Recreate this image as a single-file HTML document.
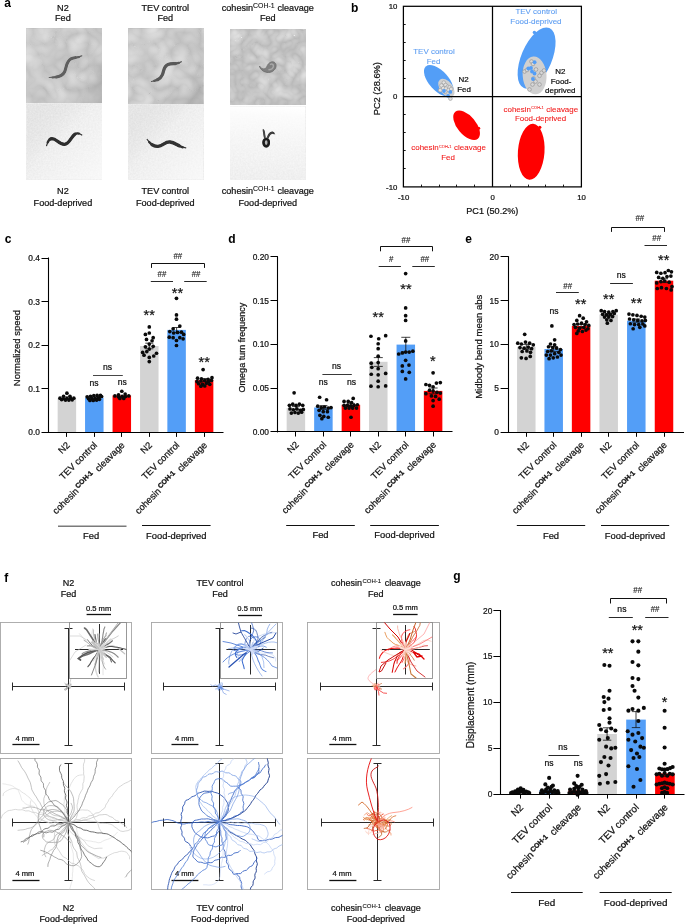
<!DOCTYPE html>
<html><head><meta charset="utf-8"><title>Figure</title>
<style>
html,body{margin:0;padding:0;background:#fff;}
body{width:685px;height:924px;overflow:hidden;font-family:'Liberation Sans', sans-serif;}
svg{display:block;font-family:'Liberation Sans',sans-serif;will-change:transform;-webkit-font-smoothing:antialiased;}
</style></head><body>
<svg width="685" height="924" viewBox="0 0 685 924">
<rect x="0" y="0" width="685" height="924" fill="#ffffff"/>
<defs>
<filter id="fedtex" x="0" y="0" width="100%" height="100%" color-interpolation-filters="sRGB">
  <feTurbulence type="turbulence" baseFrequency="0.045" numOctaves="2" seed="7" result="n"/>
  <feColorMatrix in="n" type="matrix" values="0.21 0 0 0 0.742  0.21 0 0 0 0.742  0.21 0 0 0 0.742  0 0 0 0 1" result="v"/>
  <feGaussianBlur in="v" stdDeviation="0.7"/>
</filter>
<filter id="fedtex3" x="0" y="0" width="100%" height="100%" color-interpolation-filters="sRGB">
  <feTurbulence type="turbulence" baseFrequency="0.07" numOctaves="2" seed="21" result="n"/>
  <feColorMatrix in="n" type="matrix" values="0.20 0 0 0 0.725  0.20 0 0 0 0.725  0.20 0 0 0 0.725  0 0 0 0 1" result="v"/>
  <feGaussianBlur in="v" stdDeviation="0.6"/>
</filter>
<filter id="fdtex" x="0" y="0" width="100%" height="100%" color-interpolation-filters="sRGB">
  <feTurbulence type="fractalNoise" baseFrequency="0.6" numOctaves="2" seed="4" result="n"/>
  <feColorMatrix in="n" type="matrix" values="0.07 0 0 0 0.895  0.07 0 0 0 0.895  0.07 0 0 0 0.895  0 0 0 0 1" result="g"/>
</filter>
<filter id="wblur" x="-20%" y="-20%" width="140%" height="140%"><feGaussianBlur stdDeviation="0.65"/></filter>
<filter id="wblur2" x="-30%" y="-30%" width="160%" height="160%"><feGaussianBlur stdDeviation="0.8"/></filter>
<linearGradient id="fedg" x1="0" y1="0" x2="1" y2="0.8">
  <stop offset="0" stop-color="#fff" stop-opacity="0.16"/><stop offset="0.55" stop-color="#fff" stop-opacity="0.0"/><stop offset="1" stop-color="#000" stop-opacity="0.10"/>
</linearGradient>
<linearGradient id="fdg1" x1="0" y1="0" x2="1" y2="1">
  <stop offset="0" stop-color="#000" stop-opacity="0.03"/><stop offset="0.45" stop-color="#fff" stop-opacity="0.1"/><stop offset="1" stop-color="#fff" stop-opacity="0.65"/>
</linearGradient>
<linearGradient id="fdg3" x1="0.5" y1="0" x2="0.45" y2="1">
  <stop offset="0" stop-color="#fff" stop-opacity="1"/><stop offset="0.12" stop-color="#fff" stop-opacity="0.8"/><stop offset="0.5" stop-color="#fff" stop-opacity="0.45"/><stop offset="1" stop-color="#fff" stop-opacity="0.1"/>
</linearGradient>
</defs>
<text x="4.30" y="7.00" font-size="12" text-anchor="start" fill="#000" stroke="#000" stroke-width="0" font-weight="bold" >a</text>
<text x="62.90" y="10.50" font-size="9.1" text-anchor="middle" fill="#111" stroke="#111" stroke-width="0.22" font-weight="normal" >N2</text>
<text x="62.90" y="21.40" font-size="9.1" text-anchor="middle" fill="#111" stroke="#111" stroke-width="0.22" font-weight="normal" >Fed</text>
<text x="62.90" y="194.40" font-size="9.1" text-anchor="middle" fill="#111" stroke="#111" stroke-width="0.22" font-weight="normal" >N2</text>
<text x="62.90" y="205.50" font-size="9.1" text-anchor="middle" fill="#111" stroke="#111" stroke-width="0.22" font-weight="normal" >Food-deprived</text>
<text x="165.30" y="10.50" font-size="9.1" text-anchor="middle" fill="#111" stroke="#111" stroke-width="0.22" font-weight="normal" >TEV control</text>
<text x="165.30" y="21.40" font-size="9.1" text-anchor="middle" fill="#111" stroke="#111" stroke-width="0.22" font-weight="normal" >Fed</text>
<text x="165.30" y="194.40" font-size="9.1" text-anchor="middle" fill="#111" stroke="#111" stroke-width="0.22" font-weight="normal" >TEV control</text>
<text x="165.30" y="205.50" font-size="9.1" text-anchor="middle" fill="#111" stroke="#111" stroke-width="0.22" font-weight="normal" >Food-deprived</text>
<text x="267.80" y="10.50" font-size="9.1" text-anchor="middle" fill="#111" stroke="#111" stroke-width="0.22" font-weight="normal" >cohesin<tspan font-size="6.9" dy="-3.0" stroke-width="0.1">COH-1</tspan><tspan dy="3.0" dx="0.4"> cleavage</tspan></text>
<text x="267.80" y="21.40" font-size="9.1" text-anchor="middle" fill="#111" stroke="#111" stroke-width="0.22" font-weight="normal" >Fed</text>
<text x="267.80" y="194.40" font-size="9.1" text-anchor="middle" fill="#111" stroke="#111" stroke-width="0.22" font-weight="normal" >cohesin<tspan font-size="6.9" dy="-3.0" stroke-width="0.1">COH-1</tspan><tspan dy="3.0" dx="0.4"> cleavage</tspan></text>
<text x="267.80" y="205.50" font-size="9.1" text-anchor="middle" fill="#111" stroke="#111" stroke-width="0.22" font-weight="normal" >Food-deprived</text>
<rect x="26.5" y="28.9" width="75.5" height="74.9" fill="#bebebe" filter="url(#fedtex)"/>
<rect x="26.5" y="28.9" width="75.5" height="74.9" fill="url(#fedg)"/>
<rect x="26.5" y="103.7" width="75.5" height="75.8" fill="#e4e4e4" filter="url(#fdtex)"/>
<rect x="26.5" y="103.7" width="75.5" height="75.8" fill="url(#fdg1)"/>
<rect x="128.3" y="28.9" width="74.9" height="75.5" fill="#bebebe" filter="url(#fedtex)"/>
<rect x="128.3" y="28.9" width="74.9" height="75.5" fill="url(#fedg)"/>
<rect x="128.3" y="104.4" width="74.9" height="75.1" fill="#e4e4e4" filter="url(#fdtex)"/>
<rect x="128.3" y="104.4" width="74.9" height="75.1" fill="url(#fdg1)"/>
<rect x="230.0" y="29.8" width="75.3" height="74.7" fill="#bebebe" filter="url(#fedtex3)"/>
<rect x="230.0" y="106.5" width="75.3" height="73.5" fill="#e4e4e4" filter="url(#fdtex)"/>
<rect x="230.0" y="106.5" width="75.3" height="73.5" fill="url(#fdg3)"/>
<g filter="url(#wblur)" opacity="1" fill="none" stroke="#5e5e5e" stroke-linecap="round" stroke-linejoin="round"><path d="M49.2 77.5 C56 77.5 62 76.8 64.5 72 C66.5 68 66 61.5 71 58.8 C75 57 79 57.8 81.8 55.8" stroke-width="1.14"/><path d="M49.2 77.5 C56 77.5 62 76.8 64.5 72 C66.5 68 66 61.5 71 58.8 C75 57 79 57.8 81.8 55.8" pathLength="100" stroke-dasharray="86 300" stroke-dashoffset="-7" stroke-width="2.10"/><path d="M49.2 77.5 C56 77.5 62 76.8 64.5 72 C66.5 68 66 61.5 71 58.8 C75 57 79 57.8 81.8 55.8" pathLength="100" stroke-dasharray="68 300" stroke-dashoffset="-16" stroke-width="3.00"/></g>
<g filter="url(#wblur)" opacity="1" fill="none" stroke="#2e2e2e" stroke-linecap="round" stroke-linejoin="round"><path d="M46.6 145.6 C47.5 142 49 138.8 52 138.6 C56.5 138.6 59 144.5 64.5 144.3 C70 144 71.5 135 76 133.6 C78.5 133 80.5 134 81.8 135" stroke-width="1.22"/><path d="M46.6 145.6 C47.5 142 49 138.8 52 138.6 C56.5 138.6 59 144.5 64.5 144.3 C70 144 71.5 135 76 133.6 C78.5 133 80.5 134 81.8 135" pathLength="100" stroke-dasharray="86 300" stroke-dashoffset="-7" stroke-width="2.24"/><path d="M46.6 145.6 C47.5 142 49 138.8 52 138.6 C56.5 138.6 59 144.5 64.5 144.3 C70 144 71.5 135 76 133.6 C78.5 133 80.5 134 81.8 135" pathLength="100" stroke-dasharray="68 300" stroke-dashoffset="-16" stroke-width="3.20"/></g>
<g filter="url(#wblur)" opacity="1" fill="none" stroke="#585858" stroke-linecap="round" stroke-linejoin="round"><path d="M151.5 81.5 C156 80.5 160.5 79.5 162.5 74.5 C164 70.5 163.5 66.5 168 64.5 C172.5 63 177.5 64.5 181.3 61.7" stroke-width="1.22"/><path d="M151.5 81.5 C156 80.5 160.5 79.5 162.5 74.5 C164 70.5 163.5 66.5 168 64.5 C172.5 63 177.5 64.5 181.3 61.7" pathLength="100" stroke-dasharray="86 300" stroke-dashoffset="-7" stroke-width="2.24"/><path d="M151.5 81.5 C156 80.5 160.5 79.5 162.5 74.5 C164 70.5 163.5 66.5 168 64.5 C172.5 63 177.5 64.5 181.3 61.7" pathLength="100" stroke-dasharray="68 300" stroke-dashoffset="-16" stroke-width="3.20"/></g>
<g filter="url(#wblur)" opacity="1" fill="none" stroke="#333" stroke-linecap="round" stroke-linejoin="round"><path d="M147.2 139.5 C150 143.5 153.5 146.8 158 146.3 C163 145.8 165 141.5 170 142 C175.5 142.5 179.5 147.5 185.8 147.8" stroke-width="1.25"/><path d="M147.2 139.5 C150 143.5 153.5 146.8 158 146.3 C163 145.8 165 141.5 170 142 C175.5 142.5 179.5 147.5 185.8 147.8" pathLength="100" stroke-dasharray="86 300" stroke-dashoffset="-7" stroke-width="2.31"/><path d="M147.2 139.5 C150 143.5 153.5 146.8 158 146.3 C163 145.8 165 141.5 170 142 C175.5 142.5 179.5 147.5 185.8 147.8" pathLength="100" stroke-dasharray="68 300" stroke-dashoffset="-16" stroke-width="3.30"/></g>
<g filter="url(#wblur)"><path d="M259.4 66.0 C260 68.8 262.5 71.6 267 72.4 C271 72.9 275.4 70.6 276.0 66.4 C276.4 63.2 274.3 61.4 271.6 61.9 C268.8 62.5 267.4 65.0 266.6 67.2 C265.0 69.8 261.6 69.4 259.4 66.0 Z" fill="#808080" stroke="#707070" stroke-width="0.9" stroke-linejoin="round"/><path d="M270.5 64.4 C272.2 63.6 273.6 64.6 273.4 66.4 C273.1 68.4 271.0 69.6 269.0 69.8" fill="none" stroke="#a8a8a8" stroke-width="1.5" stroke-linecap="round"/></g>
<g filter="url(#wblur)"><ellipse cx="266.2" cy="142.6" rx="2.7" ry="3.7" fill="#b4b4b4" stroke="#1e1e1e" stroke-width="2.7"/></g>
<g filter="url(#wblur)" opacity="1" fill="none" stroke="#444" stroke-linecap="round" stroke-linejoin="round"><path d="M264.8 138.4 C264.5 135.5 264.2 132.4 263.2 129.4" stroke-width="0.72"/><path d="M264.8 138.4 C264.5 135.5 264.2 132.4 263.2 129.4" pathLength="100" stroke-dasharray="86 300" stroke-dashoffset="-7" stroke-width="1.33"/><path d="M264.8 138.4 C264.5 135.5 264.2 132.4 263.2 129.4" pathLength="100" stroke-dasharray="68 300" stroke-dashoffset="-16" stroke-width="1.90"/></g>
<g filter="url(#wblur)" opacity="1" fill="none" stroke="#3c3c3c" stroke-linecap="round" stroke-linejoin="round"><path d="M267.8 138.4 C268.2 135.4 270.0 133.0 272.2 132.6 C273.3 132.6 273.9 133.2 274.4 134.0" stroke-width="0.80"/><path d="M267.8 138.4 C268.2 135.4 270.0 133.0 272.2 132.6 C273.3 132.6 273.9 133.2 274.4 134.0" pathLength="100" stroke-dasharray="86 300" stroke-dashoffset="-7" stroke-width="1.47"/><path d="M267.8 138.4 C268.2 135.4 270.0 133.0 272.2 132.6 C273.3 132.6 273.9 133.2 274.4 134.0" pathLength="100" stroke-dasharray="68 300" stroke-dashoffset="-16" stroke-width="2.10"/></g>
<text x="351.00" y="11.90" font-size="12" text-anchor="start" fill="#000" stroke="#000" stroke-width="0" font-weight="bold" >b</text>
<ellipse cx="0" cy="0" rx="19.4" ry="9.7" fill="#539ef7" transform="translate(438.8 80.8) rotate(48)"/>
<ellipse cx="0" cy="0" rx="10.6" ry="6.3" fill="#d0d0d0" transform="translate(446.4 88.0) rotate(52)"/>
<circle cx="534.4" cy="32.4" r="1.7" fill="#539ef7"/>
<ellipse cx="0" cy="0" rx="15.3" ry="32.6" fill="#539ef7" transform="translate(536.6 58.0) rotate(23)"/>
<ellipse cx="0" cy="0" rx="11.9" ry="18.9" fill="#d0d0d0" transform="translate(534.6 75.4) rotate(-4)"/>
<ellipse cx="0" cy="0" rx="17.6" ry="9.3" fill="#ff0000" transform="translate(466.6 125.2) rotate(50)"/>
<circle cx="478.7" cy="128.2" r="1.5" fill="#ff0000"/>
<ellipse cx="0" cy="0" rx="13.3" ry="28.0" fill="#ff0000" transform="translate(531.2 151.8) rotate(4)"/>
<circle cx="539.8" cy="127.3" r="1.6" fill="#ff0000"/>
<circle cx="443.8" cy="82.6" r="1.85" fill="#e2e2e2" stroke="#989898" stroke-width="0.6"/>
<circle cx="441.5" cy="85.5" r="1.85" fill="#e2e2e2" stroke="#989898" stroke-width="0.6"/>
<circle cx="445.6" cy="85.0" r="1.85" fill="#e2e2e2" stroke="#989898" stroke-width="0.6"/>
<circle cx="447.6" cy="86.8" r="1.85" fill="#e2e2e2" stroke="#989898" stroke-width="0.6"/>
<circle cx="443.2" cy="88.2" r="1.85" fill="#e2e2e2" stroke="#989898" stroke-width="0.6"/>
<circle cx="446.0" cy="88.6" r="1.85" fill="#e2e2e2" stroke="#989898" stroke-width="0.6"/>
<circle cx="449.6" cy="87.4" r="1.85" fill="#e2e2e2" stroke="#989898" stroke-width="0.6"/>
<circle cx="440.2" cy="90.2" r="1.85" fill="#e2e2e2" stroke="#989898" stroke-width="0.6"/>
<circle cx="448.6" cy="90.0" r="1.85" fill="#e2e2e2" stroke="#989898" stroke-width="0.6"/>
<circle cx="451.2" cy="89.0" r="1.85" fill="#e2e2e2" stroke="#989898" stroke-width="0.6"/>
<circle cx="445.2" cy="91.8" r="1.85" fill="#e2e2e2" stroke="#989898" stroke-width="0.6"/>
<circle cx="450.4" cy="98.6" r="1.85" fill="#e2e2e2" stroke="#989898" stroke-width="0.6"/>
<circle cx="444.0" cy="91.0" r="1.9" fill="#539ef7"/>
<circle cx="450.3" cy="91.9" r="1.9" fill="#539ef7"/>
<circle cx="448.1" cy="95.8" r="1.9" fill="#539ef7"/>
<circle cx="531.5" cy="61.5" r="1.85" fill="#d8d8d8" stroke="#8c8c8c" stroke-width="0.6"/>
<circle cx="533.0" cy="64.0" r="1.85" fill="#d8d8d8" stroke="#8c8c8c" stroke-width="0.6"/>
<circle cx="524.5" cy="71.5" r="1.85" fill="#d8d8d8" stroke="#8c8c8c" stroke-width="0.6"/>
<circle cx="527.0" cy="70.0" r="1.85" fill="#d8d8d8" stroke="#8c8c8c" stroke-width="0.6"/>
<circle cx="536.0" cy="69.5" r="1.85" fill="#d8d8d8" stroke="#8c8c8c" stroke-width="0.6"/>
<circle cx="541.5" cy="72.8" r="1.85" fill="#d8d8d8" stroke="#8c8c8c" stroke-width="0.6"/>
<circle cx="544.0" cy="70.5" r="1.85" fill="#d8d8d8" stroke="#8c8c8c" stroke-width="0.6"/>
<circle cx="539.5" cy="75.8" r="1.85" fill="#d8d8d8" stroke="#8c8c8c" stroke-width="0.6"/>
<circle cx="533.5" cy="78.5" r="1.85" fill="#d8d8d8" stroke="#8c8c8c" stroke-width="0.6"/>
<circle cx="535.5" cy="81.5" r="1.85" fill="#d8d8d8" stroke="#8c8c8c" stroke-width="0.6"/>
<circle cx="532.5" cy="84.5" r="1.85" fill="#d8d8d8" stroke="#8c8c8c" stroke-width="0.6"/>
<circle cx="539.5" cy="84.5" r="1.85" fill="#d8d8d8" stroke="#8c8c8c" stroke-width="0.6"/>
<circle cx="529.5" cy="89.5" r="1.85" fill="#d8d8d8" stroke="#8c8c8c" stroke-width="0.6"/>
<circle cx="534.6" cy="62.2" r="1.9" fill="#539ef7"/>
<circle cx="528.3" cy="68.5" r="1.9" fill="#539ef7"/>
<circle cx="531.0" cy="68.0" r="1.9" fill="#539ef7"/>
<circle cx="532.0" cy="71.5" r="1.9" fill="#539ef7"/>
<circle cx="534.5" cy="73.5" r="1.9" fill="#539ef7"/>
<circle cx="533.0" cy="79.0" r="1.9" fill="#539ef7"/>
<rect x="403.4" y="6.3" width="178.00" height="180.60" fill="none" stroke="#000" stroke-width="1.25"/>
<line x1="492.50" y1="6.30" x2="492.50" y2="186.90" stroke="#000" stroke-width="1.25" />
<line x1="403.40" y1="96.50" x2="581.40" y2="96.50" stroke="#000" stroke-width="1.25" />
<line x1="403.40" y1="168.50" x2="405.70" y2="168.50" stroke="#000" stroke-width="0.9" />
<line x1="421.50" y1="186.90" x2="421.50" y2="184.60" stroke="#000" stroke-width="0.9" />
<line x1="403.40" y1="150.50" x2="405.70" y2="150.50" stroke="#000" stroke-width="0.9" />
<line x1="439.50" y1="186.90" x2="439.50" y2="184.60" stroke="#000" stroke-width="0.9" />
<line x1="403.40" y1="132.50" x2="405.70" y2="132.50" stroke="#000" stroke-width="0.9" />
<line x1="456.50" y1="186.90" x2="456.50" y2="184.60" stroke="#000" stroke-width="0.9" />
<line x1="403.40" y1="114.50" x2="405.70" y2="114.50" stroke="#000" stroke-width="0.9" />
<line x1="474.50" y1="186.90" x2="474.50" y2="184.60" stroke="#000" stroke-width="0.9" />
<line x1="403.40" y1="78.50" x2="405.70" y2="78.50" stroke="#000" stroke-width="0.9" />
<line x1="510.50" y1="186.90" x2="510.50" y2="184.60" stroke="#000" stroke-width="0.9" />
<line x1="403.40" y1="60.50" x2="405.70" y2="60.50" stroke="#000" stroke-width="0.9" />
<line x1="528.50" y1="186.90" x2="528.50" y2="184.60" stroke="#000" stroke-width="0.9" />
<line x1="403.40" y1="42.50" x2="405.70" y2="42.50" stroke="#000" stroke-width="0.9" />
<line x1="545.50" y1="186.90" x2="545.50" y2="184.60" stroke="#000" stroke-width="0.9" />
<line x1="403.40" y1="24.50" x2="405.70" y2="24.50" stroke="#000" stroke-width="0.9" />
<line x1="563.50" y1="186.90" x2="563.50" y2="184.60" stroke="#000" stroke-width="0.9" />
<text x="397.40" y="8.90" font-size="7.8" text-anchor="end" fill="#111" stroke="#111" stroke-width="0.22" font-weight="normal" >10</text>
<text x="397.40" y="99.30" font-size="7.8" text-anchor="end" fill="#111" stroke="#111" stroke-width="0.22" font-weight="normal" >0</text>
<text x="397.40" y="189.60" font-size="7.8" text-anchor="end" fill="#111" stroke="#111" stroke-width="0.22" font-weight="normal" >-10</text>
<text x="403.60" y="199.90" font-size="7.8" text-anchor="middle" fill="#111" stroke="#111" stroke-width="0.22" font-weight="normal" >-10</text>
<text x="492.60" y="199.90" font-size="7.8" text-anchor="middle" fill="#111" stroke="#111" stroke-width="0.22" font-weight="normal" >0</text>
<text x="581.60" y="199.90" font-size="7.8" text-anchor="middle" fill="#111" stroke="#111" stroke-width="0.22" font-weight="normal" >10</text>
<text x="492.30" y="213.80" font-size="9.1" text-anchor="middle" fill="#111" stroke="#111" stroke-width="0.22" font-weight="normal" >PC1 (50.2%)</text>
<text transform="translate(380.3 88.7) rotate(-90)" font-size="9.3" text-anchor="middle" fill="#111" stroke="#111" stroke-width="0.22">PC2 (28.6%)</text>
<text x="434.00" y="53.70" font-size="7.95" text-anchor="middle" fill="#5b9cf2" stroke="#5b9cf2" stroke-width="0.08" font-weight="normal" >TEV control</text>
<text x="433.60" y="63.70" font-size="7.95" text-anchor="middle" fill="#5b9cf2" stroke="#5b9cf2" stroke-width="0.08" font-weight="normal" >Fed</text>
<text x="463.50" y="82.20" font-size="7.95" text-anchor="middle" fill="#111" stroke="#111" stroke-width="0.22" font-weight="normal" >N2</text>
<text x="464.00" y="91.60" font-size="7.95" text-anchor="middle" fill="#111" stroke="#111" stroke-width="0.22" font-weight="normal" >Fed</text>
<text x="536.20" y="14.40" font-size="7.95" text-anchor="middle" fill="#5b9cf2" stroke="#5b9cf2" stroke-width="0.08" font-weight="normal" >TEV control</text>
<text x="535.90" y="23.80" font-size="7.95" text-anchor="middle" fill="#5b9cf2" stroke="#5b9cf2" stroke-width="0.08" font-weight="normal" >Food-deprived</text>
<text x="560.30" y="74.10" font-size="7.95" text-anchor="middle" fill="#111" stroke="#111" stroke-width="0.22" font-weight="normal" >N2</text>
<text x="561.00" y="83.60" font-size="7.95" text-anchor="middle" fill="#111" stroke="#111" stroke-width="0.22" font-weight="normal" >Food-</text>
<text x="560.30" y="92.50" font-size="7.95" text-anchor="middle" fill="#111" stroke="#111" stroke-width="0.22" font-weight="normal" >deprived</text>
<text x="448.60" y="150.30" font-size="7.95" text-anchor="middle" fill="#f21818" stroke="#f21818" stroke-width="0.08" font-weight="normal" >cohesin<tspan font-size="4.0" dy="-2.6" dx="0.3" stroke-width="0.05">COH-1</tspan><tspan dy="2.6" dx="0.5"> cleavage</tspan></text>
<text x="448.00" y="159.70" font-size="7.95" text-anchor="middle" fill="#f21818" stroke="#f21818" stroke-width="0.08" font-weight="normal" >Fed</text>
<text x="540.80" y="111.80" font-size="7.95" text-anchor="middle" fill="#f21818" stroke="#f21818" stroke-width="0.08" font-weight="normal" >cohesin<tspan font-size="4.0" dy="-2.6" dx="0.3" stroke-width="0.05">COH-1</tspan><tspan dy="2.6" dx="0.5"> cleavage</tspan></text>
<text x="540.50" y="121.40" font-size="7.95" text-anchor="middle" fill="#f21818" stroke="#f21818" stroke-width="0.08" font-weight="normal" >Food-deprived</text>
<text x="4.80" y="242.70" font-size="12" text-anchor="start" fill="#000" stroke="#000" stroke-width="0" font-weight="bold" >c</text>
<rect x="57.65" y="398.20" width="18.50" height="34.10" fill="#d3d3d3"/>
<rect x="85.05" y="397.60" width="18.50" height="34.70" fill="#539ef7"/>
<rect x="112.55" y="395.40" width="18.50" height="36.90" fill="#ff0000"/>
<rect x="140.05" y="346.00" width="18.50" height="86.30" fill="#d3d3d3"/>
<rect x="167.35" y="329.90" width="18.50" height="102.40" fill="#539ef7"/>
<rect x="194.85" y="380.20" width="18.50" height="52.10" fill="#ff0000"/>
<path d="M145.30 343.20 H153.30 M145.30 348.80 H153.30 M149.30 343.20 V348.80" stroke="#111" stroke-width="0.8" fill="none"/>
<path d="M172.60 327.50 H180.60 M172.60 332.40 H180.60 M176.60 327.50 V332.40" stroke="#111" stroke-width="0.8" fill="none"/>
<path d="M200.10 378.60 H208.10 M200.10 381.80 H208.10 M204.10 378.60 V381.80" stroke="#111" stroke-width="0.8" fill="none"/>
<circle cx="66.91" cy="393.19" r="1.85" fill="#0a0a0a"/>
<circle cx="63.58" cy="396.24" r="1.85" fill="#0a0a0a"/>
<circle cx="69.96" cy="396.24" r="1.85" fill="#0a0a0a"/>
<circle cx="59.97" cy="398.18" r="1.85" fill="#0a0a0a"/>
<circle cx="63.30" cy="398.74" r="1.85" fill="#0a0a0a"/>
<circle cx="66.91" cy="398.18" r="1.85" fill="#0a0a0a"/>
<circle cx="70.51" cy="398.46" r="1.85" fill="#0a0a0a"/>
<circle cx="73.84" cy="398.18" r="1.85" fill="#0a0a0a"/>
<circle cx="61.64" cy="399.57" r="1.85" fill="#0a0a0a"/>
<circle cx="65.52" cy="400.12" r="1.85" fill="#0a0a0a"/>
<circle cx="68.85" cy="400.12" r="1.85" fill="#0a0a0a"/>
<circle cx="72.18" cy="399.85" r="1.85" fill="#0a0a0a"/>
<circle cx="87.16" cy="396.80" r="1.85" fill="#0a0a0a"/>
<circle cx="90.49" cy="396.24" r="1.85" fill="#0a0a0a"/>
<circle cx="93.81" cy="395.69" r="1.85" fill="#0a0a0a"/>
<circle cx="97.14" cy="395.41" r="1.85" fill="#0a0a0a"/>
<circle cx="100.47" cy="395.41" r="1.85" fill="#0a0a0a"/>
<circle cx="88.54" cy="398.74" r="1.85" fill="#0a0a0a"/>
<circle cx="91.87" cy="398.46" r="1.85" fill="#0a0a0a"/>
<circle cx="95.20" cy="398.18" r="1.85" fill="#0a0a0a"/>
<circle cx="98.53" cy="397.91" r="1.85" fill="#0a0a0a"/>
<circle cx="101.58" cy="396.52" r="1.85" fill="#0a0a0a"/>
<circle cx="89.93" cy="400.40" r="1.85" fill="#0a0a0a"/>
<circle cx="93.26" cy="400.40" r="1.85" fill="#0a0a0a"/>
<circle cx="96.59" cy="400.12" r="1.85" fill="#0a0a0a"/>
<circle cx="99.36" cy="399.29" r="1.85" fill="#0a0a0a"/>
<circle cx="121.83" cy="391.25" r="1.85" fill="#0a0a0a"/>
<circle cx="118.50" cy="394.85" r="1.85" fill="#0a0a0a"/>
<circle cx="125.16" cy="394.02" r="1.85" fill="#0a0a0a"/>
<circle cx="114.90" cy="395.96" r="1.85" fill="#0a0a0a"/>
<circle cx="118.50" cy="396.80" r="1.85" fill="#0a0a0a"/>
<circle cx="122.11" cy="396.24" r="1.85" fill="#0a0a0a"/>
<circle cx="125.44" cy="396.52" r="1.85" fill="#0a0a0a"/>
<circle cx="128.77" cy="395.96" r="1.85" fill="#0a0a0a"/>
<circle cx="119.89" cy="398.46" r="1.85" fill="#0a0a0a"/>
<circle cx="123.77" cy="398.46" r="1.85" fill="#0a0a0a"/>
<circle cx="149.29" cy="326.89" r="1.85" fill="#0a0a0a"/>
<circle cx="145.41" cy="334.38" r="1.85" fill="#0a0a0a"/>
<circle cx="149.29" cy="333.00" r="1.85" fill="#0a0a0a"/>
<circle cx="153.18" cy="337.71" r="1.85" fill="#0a0a0a"/>
<circle cx="146.52" cy="339.38" r="1.85" fill="#0a0a0a"/>
<circle cx="152.07" cy="340.76" r="1.85" fill="#0a0a0a"/>
<circle cx="149.29" cy="344.09" r="1.85" fill="#0a0a0a"/>
<circle cx="145.41" cy="346.87" r="1.85" fill="#0a0a0a"/>
<circle cx="153.18" cy="346.31" r="1.85" fill="#0a0a0a"/>
<circle cx="149.29" cy="349.08" r="1.85" fill="#0a0a0a"/>
<circle cx="142.64" cy="352.41" r="1.85" fill="#0a0a0a"/>
<circle cx="146.80" cy="351.58" r="1.85" fill="#0a0a0a"/>
<circle cx="156.50" cy="353.25" r="1.85" fill="#0a0a0a"/>
<circle cx="144.02" cy="355.19" r="1.85" fill="#0a0a0a"/>
<circle cx="153.73" cy="356.02" r="1.85" fill="#0a0a0a"/>
<circle cx="149.29" cy="357.41" r="1.85" fill="#0a0a0a"/>
<circle cx="149.29" cy="361.57" r="1.85" fill="#0a0a0a"/>
<circle cx="176.48" cy="298.32" r="1.85" fill="#0a0a0a"/>
<circle cx="176.48" cy="314.97" r="1.85" fill="#0a0a0a"/>
<circle cx="176.48" cy="319.13" r="1.85" fill="#0a0a0a"/>
<circle cx="173.15" cy="328.83" r="1.85" fill="#0a0a0a"/>
<circle cx="179.81" cy="326.06" r="1.85" fill="#0a0a0a"/>
<circle cx="169.82" cy="331.61" r="1.85" fill="#0a0a0a"/>
<circle cx="173.70" cy="333.00" r="1.85" fill="#0a0a0a"/>
<circle cx="177.59" cy="332.44" r="1.85" fill="#0a0a0a"/>
<circle cx="181.47" cy="332.16" r="1.85" fill="#0a0a0a"/>
<circle cx="183.69" cy="334.38" r="1.85" fill="#0a0a0a"/>
<circle cx="169.26" cy="337.16" r="1.85" fill="#0a0a0a"/>
<circle cx="173.15" cy="337.71" r="1.85" fill="#0a0a0a"/>
<circle cx="179.81" cy="337.71" r="1.85" fill="#0a0a0a"/>
<circle cx="183.13" cy="338.82" r="1.85" fill="#0a0a0a"/>
<circle cx="176.48" cy="340.49" r="1.85" fill="#0a0a0a"/>
<circle cx="176.48" cy="345.48" r="1.85" fill="#0a0a0a"/>
<circle cx="203.11" cy="369.61" r="1.85" fill="#0a0a0a"/>
<circle cx="197.56" cy="378.21" r="1.85" fill="#0a0a0a"/>
<circle cx="201.44" cy="378.77" r="1.85" fill="#0a0a0a"/>
<circle cx="208.10" cy="379.32" r="1.85" fill="#0a0a0a"/>
<circle cx="211.98" cy="377.66" r="1.85" fill="#0a0a0a"/>
<circle cx="197.00" cy="381.54" r="1.85" fill="#0a0a0a"/>
<circle cx="200.89" cy="380.98" r="1.85" fill="#0a0a0a"/>
<circle cx="204.77" cy="380.43" r="1.85" fill="#0a0a0a"/>
<circle cx="208.65" cy="381.54" r="1.85" fill="#0a0a0a"/>
<circle cx="211.43" cy="380.43" r="1.85" fill="#0a0a0a"/>
<circle cx="198.67" cy="383.76" r="1.85" fill="#0a0a0a"/>
<circle cx="202.55" cy="384.31" r="1.85" fill="#0a0a0a"/>
<circle cx="206.44" cy="383.20" r="1.85" fill="#0a0a0a"/>
<circle cx="209.76" cy="384.31" r="1.85" fill="#0a0a0a"/>
<circle cx="200.89" cy="386.26" r="1.85" fill="#0a0a0a"/>
<circle cx="204.77" cy="385.98" r="1.85" fill="#0a0a0a"/>
<line x1="48.50" y1="257.50" x2="48.50" y2="432.80" stroke="#000" stroke-width="1.1" />
<line x1="48.40" y1="432.50" x2="223.50" y2="432.50" stroke="#000" stroke-width="1.1" />
<line x1="41.50" y1="258.50" x2="48.90" y2="258.50" stroke="#000" stroke-width="1.0" />
<text x="39.90" y="261.02" font-size="8.4" text-anchor="end" fill="#111" stroke="#111" stroke-width="0.22" font-weight="normal" >0.4</text>
<line x1="41.50" y1="301.50" x2="48.90" y2="301.50" stroke="#000" stroke-width="1.0" />
<text x="39.90" y="304.62" font-size="8.4" text-anchor="end" fill="#111" stroke="#111" stroke-width="0.22" font-weight="normal" >0.3</text>
<line x1="41.50" y1="345.50" x2="48.90" y2="345.50" stroke="#000" stroke-width="1.0" />
<text x="39.90" y="348.22" font-size="8.4" text-anchor="end" fill="#111" stroke="#111" stroke-width="0.22" font-weight="normal" >0.2</text>
<line x1="41.50" y1="388.50" x2="48.90" y2="388.50" stroke="#000" stroke-width="1.0" />
<text x="39.90" y="391.82" font-size="8.4" text-anchor="end" fill="#111" stroke="#111" stroke-width="0.22" font-weight="normal" >0.1</text>
<line x1="41.50" y1="432.50" x2="48.90" y2="432.50" stroke="#000" stroke-width="1.0" />
<text x="39.90" y="435.32" font-size="8.4" text-anchor="end" fill="#111" stroke="#111" stroke-width="0.22" font-weight="normal" >0.0</text>
<line x1="66.50" y1="432.30" x2="66.50" y2="436.90" stroke="#000" stroke-width="1.0" />
<text transform="translate(70.40 445.70) rotate(-45)" font-size="9.4" text-anchor="end" fill="#111" stroke="#111" stroke-width="0.22">N2</text>
<line x1="94.50" y1="432.30" x2="94.50" y2="436.90" stroke="#000" stroke-width="1.0" />
<text transform="translate(97.80 445.70) rotate(-45)" font-size="9.4" text-anchor="end" fill="#111" stroke="#111" stroke-width="0.22">TEV control</text>
<line x1="121.50" y1="432.30" x2="121.50" y2="436.90" stroke="#000" stroke-width="1.0" />
<text transform="translate(125.30 445.70) rotate(-45)" font-size="9.4" text-anchor="end" fill="#111" stroke="#111" stroke-width="0.22">cohesin<tspan font-size="6.9" font-weight="bold" stroke-width="0.3" dy="-3.0" dx="1.4">COH-1</tspan><tspan dy="3.0" dx="2.2"> cleavage</tspan></text>
<line x1="149.50" y1="432.30" x2="149.50" y2="436.90" stroke="#000" stroke-width="1.0" />
<text transform="translate(152.80 445.70) rotate(-45)" font-size="9.4" text-anchor="end" fill="#111" stroke="#111" stroke-width="0.22">N2</text>
<line x1="176.50" y1="432.30" x2="176.50" y2="436.90" stroke="#000" stroke-width="1.0" />
<text transform="translate(180.10 445.70) rotate(-45)" font-size="9.4" text-anchor="end" fill="#111" stroke="#111" stroke-width="0.22">TEV control</text>
<line x1="204.50" y1="432.30" x2="204.50" y2="436.90" stroke="#000" stroke-width="1.0" />
<text transform="translate(207.60 445.70) rotate(-45)" font-size="9.4" text-anchor="end" fill="#111" stroke="#111" stroke-width="0.22">cohesin<tspan font-size="6.9" font-weight="bold" stroke-width="0.3" dy="-3.0" dx="1.4">COH-1</tspan><tspan dy="3.0" dx="2.2"> cleavage</tspan></text>
<text transform="translate(20.00 348.10) rotate(-90)" font-size="9.45" text-anchor="middle" fill="#111" stroke="#111" stroke-width="0.22">Normalized speed</text>
<line x1="58.00" y1="526.30" x2="126.50" y2="526.30" stroke="#7a7a7a" stroke-width="1.5" />
<text x="91.20" y="538.50" font-size="9.4" text-anchor="middle" fill="#111" stroke="#111" stroke-width="0.22" font-weight="normal" >Fed</text>
<line x1="142.00" y1="525.50" x2="210.60" y2="525.50" stroke="#111" stroke-width="1.0" />
<text x="176.30" y="538.50" font-size="9.4" text-anchor="middle" fill="#111" stroke="#111" stroke-width="0.22" font-weight="normal" >Food-deprived</text>
<path d="M151.50 267.90 V263.50 H204.50 V267.90" fill="none" stroke="#111" stroke-width="1"/>
<text transform="translate(177.80 259.14) scale(1 1.18)" font-size="7.9" text-anchor="middle" fill="#222" stroke="#222" stroke-width="0.12">##</text>
<line x1="150.80" y1="281.50" x2="173.00" y2="281.50" stroke="#111" stroke-width="0.9" />
<text transform="translate(162.00 277.44) scale(1 1.18)" font-size="7.9" text-anchor="middle" fill="#222" stroke="#222" stroke-width="0.12">##</text>
<line x1="184.20" y1="281.50" x2="206.70" y2="281.50" stroke="#111" stroke-width="0.9" />
<text transform="translate(196.10 277.44) scale(1 1.18)" font-size="7.9" text-anchor="middle" fill="#222" stroke="#222" stroke-width="0.12">##</text>
<text x="177.50" y="298.21" font-size="14.5" text-anchor="middle" fill="#111" stroke="#111" stroke-width="0.22" font-weight="normal" >**</text>
<text x="149.20" y="320.31" font-size="14.5" text-anchor="middle" fill="#111" stroke="#111" stroke-width="0.22" font-weight="normal" >**</text>
<text x="204.20" y="366.62" font-size="14.5" text-anchor="middle" fill="#111" stroke="#111" stroke-width="0.22" font-weight="normal" >**</text>
<line x1="93.00" y1="375.50" x2="122.80" y2="375.50" stroke="#333" stroke-width="0.9" />
<text x="107.50" y="370.30" font-size="8.6" text-anchor="middle" fill="#111" stroke="#111" stroke-width="0.22" font-weight="normal" >ns</text>
<text x="94.00" y="385.80" font-size="8.6" text-anchor="middle" fill="#111" stroke="#111" stroke-width="0.22" font-weight="normal" >ns</text>
<text x="122.30" y="385.00" font-size="8.6" text-anchor="middle" fill="#111" stroke="#111" stroke-width="0.22" font-weight="normal" >ns</text>
<text x="228.30" y="242.70" font-size="12" text-anchor="start" fill="#000" stroke="#000" stroke-width="0" font-weight="bold" >d</text>
<rect x="286.65" y="408.10" width="18.50" height="23.80" fill="#d3d3d3"/>
<rect x="314.15" y="407.50" width="18.50" height="24.40" fill="#539ef7"/>
<rect x="341.65" y="404.80" width="18.50" height="27.10" fill="#ff0000"/>
<rect x="369.05" y="361.80" width="18.50" height="70.10" fill="#d3d3d3"/>
<rect x="396.55" y="344.60" width="18.50" height="87.30" fill="#539ef7"/>
<rect x="423.85" y="390.90" width="18.50" height="41.00" fill="#ff0000"/>
<path d="M291.90 406.60 H299.90 M291.90 409.60 H299.90 M295.90 406.60 V409.60" stroke="#111" stroke-width="0.8" fill="none"/>
<path d="M319.40 405.60 H327.40 M319.40 409.40 H327.40 M323.40 405.60 V409.40" stroke="#111" stroke-width="0.8" fill="none"/>
<path d="M346.90 403.40 H354.90 M346.90 406.20 H354.90 M350.90 403.40 V406.20" stroke="#111" stroke-width="0.8" fill="none"/>
<path d="M373.80 357.60 H382.80 M373.80 366.40 H382.80 M378.30 357.60 V366.40" stroke="#111" stroke-width="0.8" fill="none"/>
<path d="M401.30 337.30 H410.30 M401.30 351.90 H410.30 M405.80 337.30 V351.90" stroke="#111" stroke-width="0.8" fill="none"/>
<path d="M428.60 388.00 H437.60 M428.60 393.80 H437.60 M433.10 388.00 V393.80" stroke="#111" stroke-width="0.8" fill="none"/>
<circle cx="294.13" cy="392.83" r="1.85" fill="#0a0a0a"/>
<circle cx="289.41" cy="405.31" r="1.85" fill="#0a0a0a"/>
<circle cx="292.74" cy="404.20" r="1.85" fill="#0a0a0a"/>
<circle cx="296.07" cy="405.31" r="1.85" fill="#0a0a0a"/>
<circle cx="299.40" cy="404.20" r="1.85" fill="#0a0a0a"/>
<circle cx="302.73" cy="405.31" r="1.85" fill="#0a0a0a"/>
<circle cx="289.97" cy="408.92" r="1.85" fill="#0a0a0a"/>
<circle cx="293.29" cy="409.75" r="1.85" fill="#0a0a0a"/>
<circle cx="296.90" cy="408.92" r="1.85" fill="#0a0a0a"/>
<circle cx="300.51" cy="410.31" r="1.85" fill="#0a0a0a"/>
<circle cx="303.28" cy="409.47" r="1.85" fill="#0a0a0a"/>
<circle cx="291.35" cy="413.08" r="1.85" fill="#0a0a0a"/>
<circle cx="294.96" cy="412.52" r="1.85" fill="#0a0a0a"/>
<circle cx="298.29" cy="413.08" r="1.85" fill="#0a0a0a"/>
<circle cx="301.62" cy="412.25" r="1.85" fill="#0a0a0a"/>
<circle cx="319.65" cy="397.27" r="1.85" fill="#0a0a0a"/>
<circle cx="326.58" cy="399.76" r="1.85" fill="#0a0a0a"/>
<circle cx="317.70" cy="406.14" r="1.85" fill="#0a0a0a"/>
<circle cx="321.31" cy="407.53" r="1.85" fill="#0a0a0a"/>
<circle cx="324.64" cy="406.98" r="1.85" fill="#0a0a0a"/>
<circle cx="328.25" cy="408.09" r="1.85" fill="#0a0a0a"/>
<circle cx="331.02" cy="407.53" r="1.85" fill="#0a0a0a"/>
<circle cx="319.09" cy="410.31" r="1.85" fill="#0a0a0a"/>
<circle cx="323.25" cy="411.69" r="1.85" fill="#0a0a0a"/>
<circle cx="327.41" cy="411.69" r="1.85" fill="#0a0a0a"/>
<circle cx="319.92" cy="415.30" r="1.85" fill="#0a0a0a"/>
<circle cx="323.81" cy="416.41" r="1.85" fill="#0a0a0a"/>
<circle cx="328.25" cy="417.24" r="1.85" fill="#0a0a0a"/>
<circle cx="321.87" cy="418.63" r="1.85" fill="#0a0a0a"/>
<circle cx="353.21" cy="398.38" r="1.85" fill="#0a0a0a"/>
<circle cx="344.06" cy="401.43" r="1.85" fill="#0a0a0a"/>
<circle cx="348.22" cy="401.43" r="1.85" fill="#0a0a0a"/>
<circle cx="351.55" cy="402.54" r="1.85" fill="#0a0a0a"/>
<circle cx="344.06" cy="405.31" r="1.85" fill="#0a0a0a"/>
<circle cx="347.39" cy="405.31" r="1.85" fill="#0a0a0a"/>
<circle cx="350.71" cy="405.87" r="1.85" fill="#0a0a0a"/>
<circle cx="354.04" cy="405.31" r="1.85" fill="#0a0a0a"/>
<circle cx="357.37" cy="404.76" r="1.85" fill="#0a0a0a"/>
<circle cx="345.44" cy="408.09" r="1.85" fill="#0a0a0a"/>
<circle cx="349.05" cy="408.09" r="1.85" fill="#0a0a0a"/>
<circle cx="352.66" cy="408.09" r="1.85" fill="#0a0a0a"/>
<circle cx="356.54" cy="408.09" r="1.85" fill="#0a0a0a"/>
<circle cx="350.99" cy="417.24" r="1.85" fill="#0a0a0a"/>
<circle cx="370.96" cy="336.24" r="1.85" fill="#0a0a0a"/>
<circle cx="378.73" cy="338.74" r="1.85" fill="#0a0a0a"/>
<circle cx="385.67" cy="335.69" r="1.85" fill="#0a0a0a"/>
<circle cx="378.18" cy="343.73" r="1.85" fill="#0a0a0a"/>
<circle cx="378.18" cy="348.72" r="1.85" fill="#0a0a0a"/>
<circle cx="378.18" cy="356.21" r="1.85" fill="#0a0a0a"/>
<circle cx="371.24" cy="363.15" r="1.85" fill="#0a0a0a"/>
<circle cx="378.18" cy="362.59" r="1.85" fill="#0a0a0a"/>
<circle cx="371.80" cy="367.31" r="1.85" fill="#0a0a0a"/>
<circle cx="378.18" cy="368.70" r="1.85" fill="#0a0a0a"/>
<circle cx="385.67" cy="373.41" r="1.85" fill="#0a0a0a"/>
<circle cx="371.24" cy="374.24" r="1.85" fill="#0a0a0a"/>
<circle cx="378.18" cy="374.80" r="1.85" fill="#0a0a0a"/>
<circle cx="378.18" cy="381.18" r="1.85" fill="#0a0a0a"/>
<circle cx="370.96" cy="386.17" r="1.85" fill="#0a0a0a"/>
<circle cx="378.18" cy="386.73" r="1.85" fill="#0a0a0a"/>
<circle cx="385.67" cy="385.89" r="1.85" fill="#0a0a0a"/>
<circle cx="405.64" cy="273.55" r="1.85" fill="#0a0a0a"/>
<circle cx="405.64" cy="307.95" r="1.85" fill="#0a0a0a"/>
<circle cx="405.64" cy="315.71" r="1.85" fill="#0a0a0a"/>
<circle cx="405.64" cy="320.43" r="1.85" fill="#0a0a0a"/>
<circle cx="405.64" cy="340.96" r="1.85" fill="#0a0a0a"/>
<circle cx="398.70" cy="353.99" r="1.85" fill="#0a0a0a"/>
<circle cx="402.31" cy="352.88" r="1.85" fill="#0a0a0a"/>
<circle cx="405.64" cy="352.05" r="1.85" fill="#0a0a0a"/>
<circle cx="409.24" cy="352.05" r="1.85" fill="#0a0a0a"/>
<circle cx="412.85" cy="351.22" r="1.85" fill="#0a0a0a"/>
<circle cx="405.64" cy="360.37" r="1.85" fill="#0a0a0a"/>
<circle cx="402.31" cy="365.92" r="1.85" fill="#0a0a0a"/>
<circle cx="408.97" cy="365.09" r="1.85" fill="#0a0a0a"/>
<circle cx="402.31" cy="371.47" r="1.85" fill="#0a0a0a"/>
<circle cx="409.24" cy="372.30" r="1.85" fill="#0a0a0a"/>
<circle cx="405.64" cy="378.96" r="1.85" fill="#0a0a0a"/>
<circle cx="433.10" cy="372.86" r="1.85" fill="#0a0a0a"/>
<circle cx="425.89" cy="384.51" r="1.85" fill="#0a0a0a"/>
<circle cx="429.49" cy="385.34" r="1.85" fill="#0a0a0a"/>
<circle cx="436.43" cy="383.12" r="1.85" fill="#0a0a0a"/>
<circle cx="440.31" cy="382.57" r="1.85" fill="#0a0a0a"/>
<circle cx="433.10" cy="386.73" r="1.85" fill="#0a0a0a"/>
<circle cx="429.49" cy="390.33" r="1.85" fill="#0a0a0a"/>
<circle cx="433.10" cy="390.89" r="1.85" fill="#0a0a0a"/>
<circle cx="436.98" cy="392.27" r="1.85" fill="#0a0a0a"/>
<circle cx="440.31" cy="393.11" r="1.85" fill="#0a0a0a"/>
<circle cx="425.89" cy="393.66" r="1.85" fill="#0a0a0a"/>
<circle cx="431.44" cy="395.88" r="1.85" fill="#0a0a0a"/>
<circle cx="435.60" cy="396.44" r="1.85" fill="#0a0a0a"/>
<circle cx="433.10" cy="400.60" r="1.85" fill="#0a0a0a"/>
<circle cx="439.20" cy="399.21" r="1.85" fill="#0a0a0a"/>
<circle cx="433.10" cy="406.14" r="1.85" fill="#0a0a0a"/>
<line x1="277.50" y1="256.40" x2="277.50" y2="432.40" stroke="#000" stroke-width="1.1" />
<line x1="277.40" y1="431.50" x2="452.50" y2="431.50" stroke="#000" stroke-width="1.1" />
<line x1="270.50" y1="256.50" x2="277.90" y2="256.50" stroke="#000" stroke-width="1.0" />
<text x="269.00" y="259.92" font-size="8.4" text-anchor="end" fill="#111" stroke="#111" stroke-width="0.22" font-weight="normal" >0.20</text>
<line x1="270.50" y1="300.50" x2="277.90" y2="300.50" stroke="#000" stroke-width="1.0" />
<text x="269.00" y="303.72" font-size="8.4" text-anchor="end" fill="#111" stroke="#111" stroke-width="0.22" font-weight="normal" >0.15</text>
<line x1="270.50" y1="344.50" x2="277.90" y2="344.50" stroke="#000" stroke-width="1.0" />
<text x="269.00" y="347.42" font-size="8.4" text-anchor="end" fill="#111" stroke="#111" stroke-width="0.22" font-weight="normal" >0.10</text>
<line x1="270.50" y1="388.50" x2="277.90" y2="388.50" stroke="#000" stroke-width="1.0" />
<text x="269.00" y="391.22" font-size="8.4" text-anchor="end" fill="#111" stroke="#111" stroke-width="0.22" font-weight="normal" >0.05</text>
<line x1="270.50" y1="431.50" x2="277.90" y2="431.50" stroke="#000" stroke-width="1.0" />
<text x="269.00" y="434.92" font-size="8.4" text-anchor="end" fill="#111" stroke="#111" stroke-width="0.22" font-weight="normal" >0.00</text>
<line x1="295.50" y1="431.90" x2="295.50" y2="436.50" stroke="#000" stroke-width="1.0" />
<text transform="translate(299.40 445.30) rotate(-45)" font-size="9.4" text-anchor="end" fill="#111" stroke="#111" stroke-width="0.22">N2</text>
<line x1="323.50" y1="431.90" x2="323.50" y2="436.50" stroke="#000" stroke-width="1.0" />
<text transform="translate(326.90 445.30) rotate(-45)" font-size="9.4" text-anchor="end" fill="#111" stroke="#111" stroke-width="0.22">TEV control</text>
<line x1="350.50" y1="431.90" x2="350.50" y2="436.50" stroke="#000" stroke-width="1.0" />
<text transform="translate(354.40 445.30) rotate(-45)" font-size="9.4" text-anchor="end" fill="#111" stroke="#111" stroke-width="0.22">cohesin<tspan font-size="6.9" font-weight="bold" stroke-width="0.3" dy="-3.0" dx="1.4">COH-1</tspan><tspan dy="3.0" dx="2.2"> cleavage</tspan></text>
<line x1="378.50" y1="431.90" x2="378.50" y2="436.50" stroke="#000" stroke-width="1.0" />
<text transform="translate(381.80 445.30) rotate(-45)" font-size="9.4" text-anchor="end" fill="#111" stroke="#111" stroke-width="0.22">N2</text>
<line x1="405.50" y1="431.90" x2="405.50" y2="436.50" stroke="#000" stroke-width="1.0" />
<text transform="translate(409.30 445.30) rotate(-45)" font-size="9.4" text-anchor="end" fill="#111" stroke="#111" stroke-width="0.22">TEV control</text>
<line x1="433.50" y1="431.90" x2="433.50" y2="436.50" stroke="#000" stroke-width="1.0" />
<text transform="translate(436.60 445.30) rotate(-45)" font-size="9.4" text-anchor="end" fill="#111" stroke="#111" stroke-width="0.22">cohesin<tspan font-size="6.9" font-weight="bold" stroke-width="0.3" dy="-3.0" dx="1.4">COH-1</tspan><tspan dy="3.0" dx="2.2"> cleavage</tspan></text>
<text transform="translate(245.40 347.60) rotate(-90)" font-size="9.0" text-anchor="middle" fill="#111" stroke="#111" stroke-width="0.22">Omega turn frequency</text>
<line x1="286.20" y1="525.50" x2="354.80" y2="525.50" stroke="#111" stroke-width="1.0" />
<text x="320.50" y="538.40" font-size="9.4" text-anchor="middle" fill="#111" stroke="#111" stroke-width="0.22" font-weight="normal" >Fed</text>
<line x1="370.20" y1="525.50" x2="438.90" y2="525.50" stroke="#111" stroke-width="1.0" />
<text x="404.55" y="538.40" font-size="9.4" text-anchor="middle" fill="#111" stroke="#111" stroke-width="0.22" font-weight="normal" >Food-deprived</text>
<path d="M380.50 251.30 V246.50 H432.50 V251.30" fill="none" stroke="#111" stroke-width="1"/>
<text transform="translate(405.90 242.74) scale(1 1.18)" font-size="7.9" text-anchor="middle" fill="#222" stroke="#222" stroke-width="0.12">##</text>
<line x1="378.70" y1="266.50" x2="400.90" y2="266.50" stroke="#111" stroke-width="0.9" />
<text transform="translate(391.20 261.94) scale(1 1.18)" font-size="7.9" text-anchor="middle" fill="#222" stroke="#222" stroke-width="0.12">#</text>
<line x1="412.30" y1="266.50" x2="434.80" y2="266.50" stroke="#111" stroke-width="0.9" />
<text transform="translate(424.80 261.94) scale(1 1.18)" font-size="7.9" text-anchor="middle" fill="#222" stroke="#222" stroke-width="0.12">##</text>
<text x="378.20" y="322.42" font-size="14.5" text-anchor="middle" fill="#111" stroke="#111" stroke-width="0.22" font-weight="normal" >**</text>
<text x="405.90" y="293.81" font-size="14.5" text-anchor="middle" fill="#111" stroke="#111" stroke-width="0.22" font-weight="normal" >**</text>
<text x="432.80" y="366.21" font-size="14.5" text-anchor="middle" fill="#111" stroke="#111" stroke-width="0.22" font-weight="normal" >*</text>
<line x1="322.40" y1="374.50" x2="351.80" y2="374.50" stroke="#222" stroke-width="0.9" />
<text x="336.60" y="368.80" font-size="8.6" text-anchor="middle" fill="#111" stroke="#111" stroke-width="0.22" font-weight="normal" >ns</text>
<text x="323.30" y="385.40" font-size="8.6" text-anchor="middle" fill="#111" stroke="#111" stroke-width="0.22" font-weight="normal" >ns</text>
<text x="351.50" y="385.40" font-size="8.6" text-anchor="middle" fill="#111" stroke="#111" stroke-width="0.22" font-weight="normal" >ns</text>
<text x="465.30" y="243.00" font-size="12" text-anchor="start" fill="#000" stroke="#000" stroke-width="0" font-weight="bold" >e</text>
<rect x="517.05" y="346.80" width="18.50" height="85.40" fill="#d3d3d3"/>
<rect x="544.45" y="349.00" width="18.50" height="83.20" fill="#539ef7"/>
<rect x="571.85" y="326.00" width="18.50" height="106.20" fill="#ff0000"/>
<rect x="599.45" y="314.60" width="18.50" height="117.60" fill="#d3d3d3"/>
<rect x="627.05" y="320.60" width="18.50" height="111.60" fill="#539ef7"/>
<rect x="654.75" y="280.70" width="18.50" height="151.50" fill="#ff0000"/>
<path d="M522.30 344.40 H530.30 M522.30 349.20 H530.30 M526.30 344.40 V349.20" stroke="#111" stroke-width="0.8" fill="none"/>
<path d="M549.70 346.60 H557.70 M549.70 351.40 H557.70 M553.70 346.60 V351.40" stroke="#111" stroke-width="0.8" fill="none"/>
<path d="M577.10 324.40 H585.10 M577.10 327.60 H585.10 M581.10 324.40 V327.60" stroke="#111" stroke-width="0.8" fill="none"/>
<path d="M604.70 313.40 H612.70 M604.70 315.80 H612.70 M608.70 313.40 V315.80" stroke="#111" stroke-width="0.8" fill="none"/>
<path d="M632.30 319.00 H640.30 M632.30 322.20 H640.30 M636.30 319.00 V322.20" stroke="#111" stroke-width="0.8" fill="none"/>
<path d="M660.00 278.80 H668.00 M660.00 282.60 H668.00 M664.00 278.80 V282.60" stroke="#111" stroke-width="0.8" fill="none"/>
<circle cx="524.68" cy="334.28" r="1.85" fill="#0a0a0a"/>
<circle cx="517.75" cy="343.16" r="1.85" fill="#0a0a0a"/>
<circle cx="521.35" cy="343.99" r="1.85" fill="#0a0a0a"/>
<circle cx="525.51" cy="342.05" r="1.85" fill="#0a0a0a"/>
<circle cx="529.67" cy="343.16" r="1.85" fill="#0a0a0a"/>
<circle cx="533.28" cy="344.82" r="1.85" fill="#0a0a0a"/>
<circle cx="519.97" cy="347.59" r="1.85" fill="#0a0a0a"/>
<circle cx="524.13" cy="348.15" r="1.85" fill="#0a0a0a"/>
<circle cx="528.29" cy="347.04" r="1.85" fill="#0a0a0a"/>
<circle cx="531.62" cy="348.70" r="1.85" fill="#0a0a0a"/>
<circle cx="522.18" cy="351.48" r="1.85" fill="#0a0a0a"/>
<circle cx="526.90" cy="350.92" r="1.85" fill="#0a0a0a"/>
<circle cx="530.51" cy="352.31" r="1.85" fill="#0a0a0a"/>
<circle cx="521.35" cy="357.86" r="1.85" fill="#0a0a0a"/>
<circle cx="526.07" cy="358.41" r="1.85" fill="#0a0a0a"/>
<circle cx="530.23" cy="356.47" r="1.85" fill="#0a0a0a"/>
<circle cx="551.87" cy="325.96" r="1.85" fill="#0a0a0a"/>
<circle cx="554.64" cy="339.83" r="1.85" fill="#0a0a0a"/>
<circle cx="550.48" cy="343.99" r="1.85" fill="#0a0a0a"/>
<circle cx="554.64" cy="344.82" r="1.85" fill="#0a0a0a"/>
<circle cx="548.54" cy="346.76" r="1.85" fill="#0a0a0a"/>
<circle cx="552.70" cy="347.59" r="1.85" fill="#0a0a0a"/>
<circle cx="556.58" cy="348.15" r="1.85" fill="#0a0a0a"/>
<circle cx="560.46" cy="349.54" r="1.85" fill="#0a0a0a"/>
<circle cx="547.70" cy="351.48" r="1.85" fill="#0a0a0a"/>
<circle cx="551.31" cy="350.92" r="1.85" fill="#0a0a0a"/>
<circle cx="558.80" cy="352.31" r="1.85" fill="#0a0a0a"/>
<circle cx="546.32" cy="355.08" r="1.85" fill="#0a0a0a"/>
<circle cx="550.48" cy="355.08" r="1.85" fill="#0a0a0a"/>
<circle cx="554.64" cy="353.70" r="1.85" fill="#0a0a0a"/>
<circle cx="561.02" cy="355.08" r="1.85" fill="#0a0a0a"/>
<circle cx="549.09" cy="358.69" r="1.85" fill="#0a0a0a"/>
<circle cx="553.25" cy="357.86" r="1.85" fill="#0a0a0a"/>
<circle cx="557.41" cy="357.02" r="1.85" fill="#0a0a0a"/>
<circle cx="579.60" cy="315.69" r="1.85" fill="#0a0a0a"/>
<circle cx="583.21" cy="318.19" r="1.85" fill="#0a0a0a"/>
<circle cx="576.83" cy="320.41" r="1.85" fill="#0a0a0a"/>
<circle cx="586.54" cy="321.80" r="1.85" fill="#0a0a0a"/>
<circle cx="574.06" cy="324.57" r="1.85" fill="#0a0a0a"/>
<circle cx="577.66" cy="324.02" r="1.85" fill="#0a0a0a"/>
<circle cx="581.55" cy="323.18" r="1.85" fill="#0a0a0a"/>
<circle cx="585.15" cy="324.57" r="1.85" fill="#0a0a0a"/>
<circle cx="588.76" cy="325.40" r="1.85" fill="#0a0a0a"/>
<circle cx="575.44" cy="327.34" r="1.85" fill="#0a0a0a"/>
<circle cx="579.60" cy="328.18" r="1.85" fill="#0a0a0a"/>
<circle cx="583.77" cy="327.34" r="1.85" fill="#0a0a0a"/>
<circle cx="587.93" cy="328.73" r="1.85" fill="#0a0a0a"/>
<circle cx="578.22" cy="330.95" r="1.85" fill="#0a0a0a"/>
<circle cx="582.38" cy="331.50" r="1.85" fill="#0a0a0a"/>
<circle cx="585.98" cy="330.12" r="1.85" fill="#0a0a0a"/>
<circle cx="576.83" cy="333.45" r="1.85" fill="#0a0a0a"/>
<circle cx="601.24" cy="310.70" r="1.85" fill="#0a0a0a"/>
<circle cx="604.57" cy="311.53" r="1.85" fill="#0a0a0a"/>
<circle cx="608.73" cy="312.09" r="1.85" fill="#0a0a0a"/>
<circle cx="612.89" cy="311.53" r="1.85" fill="#0a0a0a"/>
<circle cx="616.22" cy="310.70" r="1.85" fill="#0a0a0a"/>
<circle cx="602.63" cy="314.31" r="1.85" fill="#0a0a0a"/>
<circle cx="606.51" cy="314.86" r="1.85" fill="#0a0a0a"/>
<circle cx="610.40" cy="314.31" r="1.85" fill="#0a0a0a"/>
<circle cx="614.28" cy="313.47" r="1.85" fill="#0a0a0a"/>
<circle cx="604.57" cy="317.08" r="1.85" fill="#0a0a0a"/>
<circle cx="608.73" cy="317.08" r="1.85" fill="#0a0a0a"/>
<circle cx="612.61" cy="316.53" r="1.85" fill="#0a0a0a"/>
<circle cx="606.79" cy="319.85" r="1.85" fill="#0a0a0a"/>
<circle cx="610.95" cy="320.41" r="1.85" fill="#0a0a0a"/>
<circle cx="607.34" cy="323.18" r="1.85" fill="#0a0a0a"/>
<circle cx="628.98" cy="314.03" r="1.85" fill="#0a0a0a"/>
<circle cx="632.86" cy="314.86" r="1.85" fill="#0a0a0a"/>
<circle cx="637.02" cy="315.42" r="1.85" fill="#0a0a0a"/>
<circle cx="641.19" cy="316.25" r="1.85" fill="#0a0a0a"/>
<circle cx="644.79" cy="317.08" r="1.85" fill="#0a0a0a"/>
<circle cx="629.54" cy="319.02" r="1.85" fill="#0a0a0a"/>
<circle cx="633.70" cy="319.85" r="1.85" fill="#0a0a0a"/>
<circle cx="637.86" cy="320.41" r="1.85" fill="#0a0a0a"/>
<circle cx="642.02" cy="320.96" r="1.85" fill="#0a0a0a"/>
<circle cx="645.35" cy="320.41" r="1.85" fill="#0a0a0a"/>
<circle cx="630.37" cy="323.74" r="1.85" fill="#0a0a0a"/>
<circle cx="634.53" cy="324.57" r="1.85" fill="#0a0a0a"/>
<circle cx="638.69" cy="324.57" r="1.85" fill="#0a0a0a"/>
<circle cx="642.85" cy="324.02" r="1.85" fill="#0a0a0a"/>
<circle cx="633.14" cy="328.73" r="1.85" fill="#0a0a0a"/>
<circle cx="639.80" cy="327.34" r="1.85" fill="#0a0a0a"/>
<circle cx="644.79" cy="325.96" r="1.85" fill="#0a0a0a"/>
<circle cx="656.72" cy="272.42" r="1.85" fill="#0a0a0a"/>
<circle cx="660.88" cy="273.25" r="1.85" fill="#0a0a0a"/>
<circle cx="665.04" cy="272.70" r="1.85" fill="#0a0a0a"/>
<circle cx="668.37" cy="270.48" r="1.85" fill="#0a0a0a"/>
<circle cx="671.42" cy="271.87" r="1.85" fill="#0a0a0a"/>
<circle cx="658.66" cy="277.41" r="1.85" fill="#0a0a0a"/>
<circle cx="662.82" cy="278.25" r="1.85" fill="#0a0a0a"/>
<circle cx="666.98" cy="276.58" r="1.85" fill="#0a0a0a"/>
<circle cx="670.87" cy="276.03" r="1.85" fill="#0a0a0a"/>
<circle cx="656.72" cy="282.96" r="1.85" fill="#0a0a0a"/>
<circle cx="660.88" cy="281.57" r="1.85" fill="#0a0a0a"/>
<circle cx="664.76" cy="281.02" r="1.85" fill="#0a0a0a"/>
<circle cx="669.20" cy="282.13" r="1.85" fill="#0a0a0a"/>
<circle cx="671.98" cy="286.57" r="1.85" fill="#0a0a0a"/>
<circle cx="657.27" cy="288.51" r="1.85" fill="#0a0a0a"/>
<circle cx="661.44" cy="287.68" r="1.85" fill="#0a0a0a"/>
<circle cx="666.43" cy="288.51" r="1.85" fill="#0a0a0a"/>
<circle cx="671.14" cy="289.90" r="1.85" fill="#0a0a0a"/>
<line x1="508.50" y1="256.10" x2="508.50" y2="432.70" stroke="#000" stroke-width="1.1" />
<line x1="507.50" y1="432.50" x2="684.00" y2="432.50" stroke="#000" stroke-width="1.1" />
<line x1="500.60" y1="256.50" x2="508.00" y2="256.50" stroke="#000" stroke-width="1.0" />
<text x="498.80" y="259.62" font-size="8.4" text-anchor="end" fill="#111" stroke="#111" stroke-width="0.22" font-weight="normal" >20</text>
<line x1="500.60" y1="300.50" x2="508.00" y2="300.50" stroke="#000" stroke-width="1.0" />
<text x="498.80" y="303.52" font-size="8.4" text-anchor="end" fill="#111" stroke="#111" stroke-width="0.22" font-weight="normal" >15</text>
<line x1="500.60" y1="344.50" x2="508.00" y2="344.50" stroke="#000" stroke-width="1.0" />
<text x="498.80" y="347.42" font-size="8.4" text-anchor="end" fill="#111" stroke="#111" stroke-width="0.22" font-weight="normal" >10</text>
<line x1="500.60" y1="388.50" x2="508.00" y2="388.50" stroke="#000" stroke-width="1.0" />
<text x="498.80" y="391.32" font-size="8.4" text-anchor="end" fill="#111" stroke="#111" stroke-width="0.22" font-weight="normal" >5</text>
<line x1="500.60" y1="432.50" x2="508.00" y2="432.50" stroke="#000" stroke-width="1.0" />
<text x="498.80" y="435.22" font-size="8.4" text-anchor="end" fill="#111" stroke="#111" stroke-width="0.22" font-weight="normal" >0</text>
<line x1="526.50" y1="432.20" x2="526.50" y2="436.80" stroke="#000" stroke-width="1.0" />
<text transform="translate(529.80 445.60) rotate(-45)" font-size="9.4" text-anchor="end" fill="#111" stroke="#111" stroke-width="0.22">N2</text>
<line x1="553.50" y1="432.20" x2="553.50" y2="436.80" stroke="#000" stroke-width="1.0" />
<text transform="translate(557.20 445.60) rotate(-45)" font-size="9.4" text-anchor="end" fill="#111" stroke="#111" stroke-width="0.22">TEV control</text>
<line x1="581.50" y1="432.20" x2="581.50" y2="436.80" stroke="#000" stroke-width="1.0" />
<text transform="translate(584.60 445.60) rotate(-45)" font-size="9.4" text-anchor="end" fill="#111" stroke="#111" stroke-width="0.22">cohesin<tspan font-size="6.9" font-weight="bold" stroke-width="0.3" dy="-3.0" dx="1.4">COH-1</tspan><tspan dy="3.0" dx="2.2"> cleavage</tspan></text>
<line x1="608.50" y1="432.20" x2="608.50" y2="436.80" stroke="#000" stroke-width="1.0" />
<text transform="translate(612.20 445.60) rotate(-45)" font-size="9.4" text-anchor="end" fill="#111" stroke="#111" stroke-width="0.22">N2</text>
<line x1="636.50" y1="432.20" x2="636.50" y2="436.80" stroke="#000" stroke-width="1.0" />
<text transform="translate(639.80 445.60) rotate(-45)" font-size="9.4" text-anchor="end" fill="#111" stroke="#111" stroke-width="0.22">TEV control</text>
<line x1="664.50" y1="432.20" x2="664.50" y2="436.80" stroke="#000" stroke-width="1.0" />
<text transform="translate(667.50 445.60) rotate(-45)" font-size="9.4" text-anchor="end" fill="#111" stroke="#111" stroke-width="0.22">cohesin<tspan font-size="6.9" font-weight="bold" stroke-width="0.3" dy="-3.0" dx="1.4">COH-1</tspan><tspan dy="3.0" dx="2.2"> cleavage</tspan></text>
<text transform="translate(482.30 346.80) rotate(-90)" font-size="9.5" text-anchor="middle" fill="#111" stroke="#111" stroke-width="0.22">Midbody bend mean abs</text>
<line x1="516.80" y1="525.50" x2="585.20" y2="525.50" stroke="#111" stroke-width="1.0" />
<text x="551.00" y="538.50" font-size="9.4" text-anchor="middle" fill="#111" stroke="#111" stroke-width="0.22" font-weight="normal" >Fed</text>
<line x1="601.00" y1="525.50" x2="669.20" y2="525.50" stroke="#111" stroke-width="1.0" />
<text x="635.10" y="538.50" font-size="9.4" text-anchor="middle" fill="#111" stroke="#111" stroke-width="0.22" font-weight="normal" >Food-deprived</text>
<path d="M611.50 231.90 V227.50 H664.50 V231.90" fill="none" stroke="#111" stroke-width="1"/>
<text transform="translate(639.80 221.24) scale(1 1.18)" font-size="7.9" text-anchor="middle" fill="#222" stroke="#222" stroke-width="0.12">##</text>
<line x1="644.50" y1="245.50" x2="667.00" y2="245.50" stroke="#111" stroke-width="0.9" />
<text transform="translate(656.70 241.04) scale(1 1.18)" font-size="7.9" text-anchor="middle" fill="#222" stroke="#222" stroke-width="0.12">##</text>
<text x="663.70" y="264.81" font-size="14.5" text-anchor="middle" fill="#111" stroke="#111" stroke-width="0.22" font-weight="normal" >**</text>
<line x1="610.10" y1="283.50" x2="632.90" y2="283.50" stroke="#111" stroke-width="0.9" />
<text x="621.20" y="277.50" font-size="8.6" text-anchor="middle" fill="#111" stroke="#111" stroke-width="0.22" font-weight="normal" >ns</text>
<line x1="556.00" y1="292.50" x2="578.80" y2="292.50" stroke="#111" stroke-width="0.9" />
<text transform="translate(567.70 288.54) scale(1 1.18)" font-size="7.9" text-anchor="middle" fill="#222" stroke="#222" stroke-width="0.12">##</text>
<text x="580.70" y="308.62" font-size="14.5" text-anchor="middle" fill="#111" stroke="#111" stroke-width="0.22" font-weight="normal" >**</text>
<text x="608.70" y="303.62" font-size="14.5" text-anchor="middle" fill="#111" stroke="#111" stroke-width="0.22" font-weight="normal" >**</text>
<text x="636.50" y="307.81" font-size="14.5" text-anchor="middle" fill="#111" stroke="#111" stroke-width="0.22" font-weight="normal" >**</text>
<text x="554.10" y="314.40" font-size="8.6" text-anchor="middle" fill="#111" stroke="#111" stroke-width="0.22" font-weight="normal" >ns</text>
<text x="453.20" y="580.40" font-size="12" text-anchor="start" fill="#000" stroke="#000" stroke-width="0" font-weight="bold" >g</text>
<rect x="510.60" y="791.60" width="19.60" height="2.40" fill="#d3d3d3"/>
<rect x="539.50" y="790.00" width="19.60" height="4.00" fill="#539ef7"/>
<rect x="568.40" y="790.60" width="19.60" height="3.40" fill="#ff0000"/>
<rect x="597.30" y="734.00" width="19.60" height="60.00" fill="#d3d3d3"/>
<rect x="626.20" y="719.60" width="19.60" height="74.40" fill="#539ef7"/>
<rect x="655.10" y="773.40" width="19.60" height="20.60" fill="#ff0000"/>
<path d="M602.90 727.80 H611.30 M602.90 740.20 H611.30 M607.10 727.80 V740.20" stroke="#111" stroke-width="0.8" fill="none"/>
<path d="M631.80 711.60 H640.20 M631.80 727.60 H640.20 M636.00 711.60 V727.60" stroke="#111" stroke-width="0.8" fill="none"/>
<path d="M660.70 770.60 H669.10 M660.70 776.20 H669.10 M664.90 770.60 V776.20" stroke="#111" stroke-width="0.8" fill="none"/>
<circle cx="512.44" cy="792.30" r="2.05" fill="#0a0a0a"/>
<circle cx="515.18" cy="791.27" r="2.05" fill="#0a0a0a"/>
<circle cx="517.92" cy="789.55" r="2.05" fill="#0a0a0a"/>
<circle cx="520.67" cy="788.18" r="2.05" fill="#0a0a0a"/>
<circle cx="523.41" cy="789.90" r="2.05" fill="#0a0a0a"/>
<circle cx="526.16" cy="791.61" r="2.05" fill="#0a0a0a"/>
<circle cx="528.22" cy="792.30" r="2.05" fill="#0a0a0a"/>
<circle cx="513.81" cy="792.98" r="2.05" fill="#0a0a0a"/>
<circle cx="519.30" cy="792.30" r="2.05" fill="#0a0a0a"/>
<circle cx="524.79" cy="792.98" r="2.05" fill="#0a0a0a"/>
<circle cx="516.55" cy="792.64" r="2.05" fill="#0a0a0a"/>
<circle cx="522.04" cy="791.61" r="2.05" fill="#0a0a0a"/>
<circle cx="511.06" cy="792.98" r="2.05" fill="#0a0a0a"/>
<circle cx="529.25" cy="792.98" r="2.05" fill="#0a0a0a"/>
<circle cx="520.67" cy="790.58" r="2.05" fill="#0a0a0a"/>
<circle cx="517.92" cy="791.61" r="2.05" fill="#0a0a0a"/>
<circle cx="523.41" cy="792.30" r="2.05" fill="#0a0a0a"/>
<circle cx="549.14" cy="777.89" r="2.05" fill="#0a0a0a"/>
<circle cx="545.37" cy="784.41" r="2.05" fill="#0a0a0a"/>
<circle cx="552.92" cy="785.44" r="2.05" fill="#0a0a0a"/>
<circle cx="541.94" cy="790.24" r="2.05" fill="#0a0a0a"/>
<circle cx="546.05" cy="789.55" r="2.05" fill="#0a0a0a"/>
<circle cx="550.17" cy="788.87" r="2.05" fill="#0a0a0a"/>
<circle cx="554.29" cy="790.24" r="2.05" fill="#0a0a0a"/>
<circle cx="557.72" cy="790.93" r="2.05" fill="#0a0a0a"/>
<circle cx="543.31" cy="792.30" r="2.05" fill="#0a0a0a"/>
<circle cx="548.11" cy="792.64" r="2.05" fill="#0a0a0a"/>
<circle cx="552.23" cy="792.30" r="2.05" fill="#0a0a0a"/>
<circle cx="556.35" cy="792.64" r="2.05" fill="#0a0a0a"/>
<circle cx="540.91" cy="792.98" r="2.05" fill="#0a0a0a"/>
<circle cx="545.71" cy="791.61" r="2.05" fill="#0a0a0a"/>
<circle cx="550.17" cy="791.27" r="2.05" fill="#0a0a0a"/>
<circle cx="554.63" cy="791.96" r="2.05" fill="#0a0a0a"/>
<circle cx="558.40" cy="792.98" r="2.05" fill="#0a0a0a"/>
<circle cx="547.77" cy="787.50" r="2.05" fill="#0a0a0a"/>
<circle cx="551.54" cy="786.81" r="2.05" fill="#0a0a0a"/>
<circle cx="577.62" cy="775.83" r="2.05" fill="#0a0a0a"/>
<circle cx="574.19" cy="783.38" r="2.05" fill="#0a0a0a"/>
<circle cx="581.73" cy="784.75" r="2.05" fill="#0a0a0a"/>
<circle cx="570.07" cy="789.55" r="2.05" fill="#0a0a0a"/>
<circle cx="574.19" cy="788.87" r="2.05" fill="#0a0a0a"/>
<circle cx="578.30" cy="788.18" r="2.05" fill="#0a0a0a"/>
<circle cx="582.42" cy="789.55" r="2.05" fill="#0a0a0a"/>
<circle cx="585.85" cy="790.93" r="2.05" fill="#0a0a0a"/>
<circle cx="572.13" cy="792.30" r="2.05" fill="#0a0a0a"/>
<circle cx="576.24" cy="792.98" r="2.05" fill="#0a0a0a"/>
<circle cx="580.36" cy="792.64" r="2.05" fill="#0a0a0a"/>
<circle cx="584.48" cy="792.98" r="2.05" fill="#0a0a0a"/>
<circle cx="577.62" cy="794.70" r="2.05" fill="#0a0a0a"/>
<circle cx="569.38" cy="792.98" r="2.05" fill="#0a0a0a"/>
<circle cx="574.19" cy="791.61" r="2.05" fill="#0a0a0a"/>
<circle cx="578.30" cy="790.93" r="2.05" fill="#0a0a0a"/>
<circle cx="582.42" cy="791.96" r="2.05" fill="#0a0a0a"/>
<circle cx="586.54" cy="792.98" r="2.05" fill="#0a0a0a"/>
<circle cx="576.24" cy="786.12" r="2.05" fill="#0a0a0a"/>
<circle cx="579.67" cy="786.81" r="2.05" fill="#0a0a0a"/>
<circle cx="604.37" cy="665.03" r="2.05" fill="#0a0a0a"/>
<circle cx="609.52" cy="665.71" r="2.05" fill="#0a0a0a"/>
<circle cx="609.52" cy="690.75" r="2.05" fill="#0a0a0a"/>
<circle cx="603.69" cy="696.93" r="2.05" fill="#0a0a0a"/>
<circle cx="608.49" cy="698.64" r="2.05" fill="#0a0a0a"/>
<circle cx="604.37" cy="702.08" r="2.05" fill="#0a0a0a"/>
<circle cx="609.52" cy="708.94" r="2.05" fill="#0a0a0a"/>
<circle cx="603.69" cy="709.97" r="2.05" fill="#0a0a0a"/>
<circle cx="609.52" cy="718.20" r="2.05" fill="#0a0a0a"/>
<circle cx="599.23" cy="725.06" r="2.05" fill="#0a0a0a"/>
<circle cx="609.52" cy="722.66" r="2.05" fill="#0a0a0a"/>
<circle cx="600.94" cy="729.52" r="2.05" fill="#0a0a0a"/>
<circle cx="606.09" cy="731.23" r="2.05" fill="#0a0a0a"/>
<circle cx="611.23" cy="728.49" r="2.05" fill="#0a0a0a"/>
<circle cx="615.35" cy="730.55" r="2.05" fill="#0a0a0a"/>
<circle cx="607.80" cy="738.10" r="2.05" fill="#0a0a0a"/>
<circle cx="599.23" cy="739.81" r="2.05" fill="#0a0a0a"/>
<circle cx="606.09" cy="746.67" r="2.05" fill="#0a0a0a"/>
<circle cx="611.23" cy="748.39" r="2.05" fill="#0a0a0a"/>
<circle cx="615.35" cy="747.70" r="2.05" fill="#0a0a0a"/>
<circle cx="604.37" cy="756.96" r="2.05" fill="#0a0a0a"/>
<circle cx="610.55" cy="757.99" r="2.05" fill="#0a0a0a"/>
<circle cx="600.94" cy="762.11" r="2.05" fill="#0a0a0a"/>
<circle cx="608.49" cy="765.54" r="2.05" fill="#0a0a0a"/>
<circle cx="599.23" cy="775.83" r="2.05" fill="#0a0a0a"/>
<circle cx="606.09" cy="774.12" r="2.05" fill="#0a0a0a"/>
<circle cx="607.80" cy="782.69" r="2.05" fill="#0a0a0a"/>
<circle cx="615.35" cy="782.01" r="2.05" fill="#0a0a0a"/>
<circle cx="599.91" cy="783.72" r="2.05" fill="#0a0a0a"/>
<circle cx="632.50" cy="641.36" r="2.05" fill="#0a0a0a"/>
<circle cx="638.34" cy="641.36" r="2.05" fill="#0a0a0a"/>
<circle cx="638.34" cy="651.65" r="2.05" fill="#0a0a0a"/>
<circle cx="632.50" cy="661.94" r="2.05" fill="#0a0a0a"/>
<circle cx="638.34" cy="665.37" r="2.05" fill="#0a0a0a"/>
<circle cx="632.50" cy="678.06" r="2.05" fill="#0a0a0a"/>
<circle cx="638.34" cy="679.09" r="2.05" fill="#0a0a0a"/>
<circle cx="632.50" cy="685.95" r="2.05" fill="#0a0a0a"/>
<circle cx="634.56" cy="690.75" r="2.05" fill="#0a0a0a"/>
<circle cx="638.34" cy="697.62" r="2.05" fill="#0a0a0a"/>
<circle cx="632.50" cy="708.94" r="2.05" fill="#0a0a0a"/>
<circle cx="643.83" cy="707.91" r="2.05" fill="#0a0a0a"/>
<circle cx="628.39" cy="710.65" r="2.05" fill="#0a0a0a"/>
<circle cx="638.34" cy="710.65" r="2.05" fill="#0a0a0a"/>
<circle cx="638.34" cy="720.94" r="2.05" fill="#0a0a0a"/>
<circle cx="627.70" cy="731.23" r="2.05" fill="#0a0a0a"/>
<circle cx="632.50" cy="734.67" r="2.05" fill="#0a0a0a"/>
<circle cx="638.34" cy="732.95" r="2.05" fill="#0a0a0a"/>
<circle cx="642.11" cy="738.10" r="2.05" fill="#0a0a0a"/>
<circle cx="628.39" cy="739.81" r="2.05" fill="#0a0a0a"/>
<circle cx="635.25" cy="741.53" r="2.05" fill="#0a0a0a"/>
<circle cx="640.39" cy="746.67" r="2.05" fill="#0a0a0a"/>
<circle cx="643.83" cy="747.70" r="2.05" fill="#0a0a0a"/>
<circle cx="631.13" cy="750.10" r="2.05" fill="#0a0a0a"/>
<circle cx="636.96" cy="753.53" r="2.05" fill="#0a0a0a"/>
<circle cx="633.53" cy="757.99" r="2.05" fill="#0a0a0a"/>
<circle cx="639.37" cy="756.96" r="2.05" fill="#0a0a0a"/>
<circle cx="628.39" cy="766.23" r="2.05" fill="#0a0a0a"/>
<circle cx="636.96" cy="768.97" r="2.05" fill="#0a0a0a"/>
<circle cx="640.39" cy="779.95" r="2.05" fill="#0a0a0a"/>
<circle cx="633.53" cy="786.81" r="2.05" fill="#0a0a0a"/>
<circle cx="664.62" cy="710.80" r="2.05" fill="#0a0a0a"/>
<circle cx="664.62" cy="727.73" r="2.05" fill="#0a0a0a"/>
<circle cx="664.62" cy="747.56" r="2.05" fill="#0a0a0a"/>
<circle cx="664.62" cy="763.79" r="2.05" fill="#0a0a0a"/>
<circle cx="659.35" cy="768.50" r="2.05" fill="#0a0a0a"/>
<circle cx="661.98" cy="769.20" r="2.05" fill="#0a0a0a"/>
<circle cx="664.62" cy="769.47" r="2.05" fill="#0a0a0a"/>
<circle cx="667.39" cy="769.06" r="2.05" fill="#0a0a0a"/>
<circle cx="670.17" cy="768.09" r="2.05" fill="#0a0a0a"/>
<circle cx="672.66" cy="766.98" r="2.05" fill="#0a0a0a"/>
<circle cx="656.57" cy="774.33" r="2.05" fill="#0a0a0a"/>
<circle cx="659.35" cy="773.77" r="2.05" fill="#0a0a0a"/>
<circle cx="664.62" cy="772.94" r="2.05" fill="#0a0a0a"/>
<circle cx="669.75" cy="773.77" r="2.05" fill="#0a0a0a"/>
<circle cx="672.66" cy="774.33" r="2.05" fill="#0a0a0a"/>
<circle cx="661.98" cy="775.71" r="2.05" fill="#0a0a0a"/>
<circle cx="667.25" cy="775.71" r="2.05" fill="#0a0a0a"/>
<circle cx="656.57" cy="784.45" r="2.05" fill="#0a0a0a"/>
<circle cx="659.35" cy="783.76" r="2.05" fill="#0a0a0a"/>
<circle cx="662.12" cy="783.20" r="2.05" fill="#0a0a0a"/>
<circle cx="664.62" cy="782.65" r="2.05" fill="#0a0a0a"/>
<circle cx="667.12" cy="783.20" r="2.05" fill="#0a0a0a"/>
<circle cx="669.75" cy="783.76" r="2.05" fill="#0a0a0a"/>
<circle cx="672.66" cy="784.45" r="2.05" fill="#0a0a0a"/>
<circle cx="661.98" cy="788.20" r="2.05" fill="#0a0a0a"/>
<circle cx="664.62" cy="787.23" r="2.05" fill="#0a0a0a"/>
<circle cx="667.25" cy="788.20" r="2.05" fill="#0a0a0a"/>
<circle cx="662.12" cy="792.91" r="2.05" fill="#0a0a0a"/>
<circle cx="664.62" cy="791.94" r="2.05" fill="#0a0a0a"/>
<circle cx="667.12" cy="792.91" r="2.05" fill="#0a0a0a"/>
<line x1="500.50" y1="610.00" x2="500.50" y2="794.50" stroke="#000" stroke-width="1.1" />
<line x1="500.30" y1="794.50" x2="684.50" y2="794.50" stroke="#000" stroke-width="1.1" />
<line x1="493.40" y1="610.50" x2="500.80" y2="610.50" stroke="#000" stroke-width="1.0" />
<text x="492.40" y="613.52" font-size="8.4" text-anchor="end" fill="#111" stroke="#111" stroke-width="0.22" font-weight="normal" >20</text>
<line x1="493.40" y1="656.50" x2="500.80" y2="656.50" stroke="#000" stroke-width="1.0" />
<text x="492.40" y="659.42" font-size="8.4" text-anchor="end" fill="#111" stroke="#111" stroke-width="0.22" font-weight="normal" >15</text>
<line x1="493.40" y1="702.50" x2="500.80" y2="702.50" stroke="#000" stroke-width="1.0" />
<text x="492.40" y="705.32" font-size="8.4" text-anchor="end" fill="#111" stroke="#111" stroke-width="0.22" font-weight="normal" >10</text>
<line x1="493.40" y1="748.50" x2="500.80" y2="748.50" stroke="#000" stroke-width="1.0" />
<text x="492.40" y="751.12" font-size="8.4" text-anchor="end" fill="#111" stroke="#111" stroke-width="0.22" font-weight="normal" >5</text>
<line x1="493.40" y1="794.50" x2="500.80" y2="794.50" stroke="#000" stroke-width="1.0" />
<text x="492.40" y="797.02" font-size="8.4" text-anchor="end" fill="#111" stroke="#111" stroke-width="0.22" font-weight="normal" >0</text>
<line x1="520.50" y1="794.00" x2="520.50" y2="798.60" stroke="#000" stroke-width="1.0" />
<text transform="translate(523.90 808.00) rotate(-45)" font-size="9.9" text-anchor="end" fill="#111" stroke="#111" stroke-width="0.22">N2</text>
<line x1="549.50" y1="794.00" x2="549.50" y2="798.60" stroke="#000" stroke-width="1.0" />
<text transform="translate(552.80 808.00) rotate(-45)" font-size="9.9" text-anchor="end" fill="#111" stroke="#111" stroke-width="0.22">TEV control</text>
<line x1="578.50" y1="794.00" x2="578.50" y2="798.60" stroke="#000" stroke-width="1.0" />
<text transform="translate(581.70 808.00) rotate(-45)" font-size="9.9" text-anchor="end" fill="#111" stroke="#111" stroke-width="0.22">cohesin<tspan font-size="6.9" font-weight="bold" stroke-width="0.3" dy="-3.0" dx="1.4">COH-1</tspan><tspan dy="3.0" dx="2.2"> cleavage</tspan></text>
<line x1="607.50" y1="794.00" x2="607.50" y2="798.60" stroke="#000" stroke-width="1.0" />
<text transform="translate(610.60 808.00) rotate(-45)" font-size="9.9" text-anchor="end" fill="#111" stroke="#111" stroke-width="0.22">N2</text>
<line x1="636.50" y1="794.00" x2="636.50" y2="798.60" stroke="#000" stroke-width="1.0" />
<text transform="translate(639.50 808.00) rotate(-45)" font-size="9.9" text-anchor="end" fill="#111" stroke="#111" stroke-width="0.22">TEV control</text>
<line x1="664.50" y1="794.00" x2="664.50" y2="798.60" stroke="#000" stroke-width="1.0" />
<text transform="translate(668.40 808.00) rotate(-45)" font-size="9.9" text-anchor="end" fill="#111" stroke="#111" stroke-width="0.22">cohesin<tspan font-size="6.9" font-weight="bold" stroke-width="0.3" dy="-3.0" dx="1.4">COH-1</tspan><tspan dy="3.0" dx="2.2"> cleavage</tspan></text>
<text transform="translate(474.20 705.00) rotate(-90)" font-size="10.0" text-anchor="middle" fill="#111" stroke="#111" stroke-width="0.22">Displacement (mm)</text>
<line x1="511.00" y1="892.50" x2="582.70" y2="892.50" stroke="#111" stroke-width="1.0" />
<text x="546.85" y="906.00" font-size="9.9" text-anchor="middle" fill="#111" stroke="#111" stroke-width="0.22" font-weight="normal" >Fed</text>
<line x1="599.60" y1="892.50" x2="671.70" y2="892.50" stroke="#111" stroke-width="1.0" />
<text x="635.65" y="906.00" font-size="9.9" text-anchor="middle" fill="#111" stroke="#111" stroke-width="0.22" font-weight="normal" >Food-deprived</text>
<path d="M610.50 603.50 V598.50 H666.50 V603.50" fill="none" stroke="#111" stroke-width="1"/>
<text transform="translate(637.70 592.94) scale(1 1.18)" font-size="7.9" text-anchor="middle" fill="#222" stroke="#222" stroke-width="0.12">##</text>
<line x1="608.80" y1="617.50" x2="632.80" y2="617.50" stroke="#111" stroke-width="0.9" />
<text x="621.90" y="611.60" font-size="8.6" text-anchor="middle" fill="#111" stroke="#111" stroke-width="0.22" font-weight="normal" >ns</text>
<line x1="645.20" y1="617.50" x2="668.50" y2="617.50" stroke="#111" stroke-width="0.9" />
<text transform="translate(655.10 611.94) scale(1 1.18)" font-size="7.9" text-anchor="middle" fill="#222" stroke="#222" stroke-width="0.12">##</text>
<text x="637.30" y="635.22" font-size="14.5" text-anchor="middle" fill="#111" stroke="#111" stroke-width="0.22" font-weight="normal" >**</text>
<text x="607.80" y="658.42" font-size="14.5" text-anchor="middle" fill="#111" stroke="#111" stroke-width="0.22" font-weight="normal" >**</text>
<text x="664.70" y="706.62" font-size="14.5" text-anchor="middle" fill="#111" stroke="#111" stroke-width="0.22" font-weight="normal" >*</text>
<line x1="548.50" y1="755.50" x2="579.30" y2="755.50" stroke="#111" stroke-width="0.9" />
<text x="562.90" y="750.10" font-size="8.6" text-anchor="middle" fill="#111" stroke="#111" stroke-width="0.22" font-weight="normal" >ns</text>
<text x="549.10" y="766.30" font-size="8.6" text-anchor="middle" fill="#111" stroke="#111" stroke-width="0.22" font-weight="normal" >ns</text>
<text x="578.30" y="766.00" font-size="8.6" text-anchor="middle" fill="#111" stroke="#111" stroke-width="0.22" font-weight="normal" >ns</text>
<text x="4.20" y="582.20" font-size="12" text-anchor="start" fill="#000" stroke="#000" stroke-width="0" font-weight="bold" >f</text>
<text x="68.40" y="585.70" font-size="9.0" text-anchor="middle" fill="#111" stroke="#111" stroke-width="0.22" font-weight="normal" >N2</text>
<text x="68.40" y="596.90" font-size="9.0" text-anchor="middle" fill="#111" stroke="#111" stroke-width="0.22" font-weight="normal" >Fed</text>
<text x="68.40" y="910.80" font-size="9.0" text-anchor="middle" fill="#111" stroke="#111" stroke-width="0.22" font-weight="normal" >N2</text>
<text x="68.40" y="921.80" font-size="9.0" text-anchor="middle" fill="#111" stroke="#111" stroke-width="0.22" font-weight="normal" >Food-deprived</text>
<clipPath id="clip00"><rect x="0.5" y="622.5" width="131.00" height="131.00"/></clipPath>
<rect x="0.5" y="622.5" width="131.00" height="131.00" fill="#fff" stroke="#a6a6a6" stroke-width="0.9"/>
<path d="M12.50 686.50 H124.50 M12.50 682.50 V690.50 M124.50 682.50 V690.50 M68.50 628.50 V745.50 M64.50 628.50 H72.50 M64.50 745.50 H72.50" fill="none" stroke="#2a2a2a" stroke-width="1.0"/>
<line x1="12.40" y1="744.50" x2="39.50" y2="744.50" stroke="#111" stroke-width="1.3" />
<text x="24.90" y="740.70" font-size="7.6" text-anchor="middle" fill="#111" stroke="#111" stroke-width="0.22" font-weight="normal" >4 mm</text>
<g clip-path="url(#clip00)"><path d="M68.5 686.5 L69.5 686.7 L70.0 687.6 L69.7 688.6" fill="none" stroke="#8c8c8c" stroke-width="0.70" stroke-linejoin="round" stroke-linecap="round"/>
<path d="M68.5 686.5 L67.8 687.2 L66.9 687.5 L66.1 688.1" fill="none" stroke="#a8a8a8" stroke-width="0.70" stroke-linejoin="round" stroke-linecap="round"/>
<path d="M68.5 686.5 L69.3 687.1 L69.9 687.9 L69.4 688.8" fill="none" stroke="#c2c2c2" stroke-width="0.70" stroke-linejoin="round" stroke-linecap="round"/>
<path d="M68.5 686.5 L68.1 685.6 L67.1 685.5 L66.2 685.3" fill="none" stroke="#d6d6d6" stroke-width="0.70" stroke-linejoin="round" stroke-linecap="round"/>
<path d="M68.5 686.5 L68.1 687.4 L67.3 688.0 L67.0 689.0 L66.3 689.7 L65.4 690.1 L64.5 689.7" fill="none" stroke="#8c8c8c" stroke-width="0.70" stroke-linejoin="round" stroke-linecap="round"/>
<path d="M68.5 686.5 L68.0 687.3 L67.4 688.2 L66.4 688.5" fill="none" stroke="#a8a8a8" stroke-width="0.70" stroke-linejoin="round" stroke-linecap="round"/>
<path d="M68.5 686.5 L69.1 685.7 L70.0 685.2 L71.0 685.1" fill="none" stroke="#c2c2c2" stroke-width="0.70" stroke-linejoin="round" stroke-linecap="round"/>
<path d="M68.5 686.5 L69.5 686.5 L70.5 686.8 L70.7 687.8" fill="none" stroke="#d6d6d6" stroke-width="0.70" stroke-linejoin="round" stroke-linecap="round"/>
<path d="M68.5 686.5 L69.5 686.4 L70.4 685.9 L70.8 685.0 L70.6 684.0" fill="none" stroke="#8c8c8c" stroke-width="0.70" stroke-linejoin="round" stroke-linecap="round"/>
<path d="M68.5 686.5 L68.1 685.6 L68.2 684.6 L67.4 684.1" fill="none" stroke="#a8a8a8" stroke-width="0.70" stroke-linejoin="round" stroke-linecap="round"/>
<path d="M68.5 686.5 L69.3 686.0 L70.2 685.5 L70.4 684.5 L71.3 684.2" fill="none" stroke="#c2c2c2" stroke-width="0.70" stroke-linejoin="round" stroke-linecap="round"/>
<path d="M68.5 686.5 L67.6 686.1 L66.7 685.5 L66.0 684.8 L65.3 684.2 L64.9 683.3 L64.1 682.6" fill="none" stroke="#d6d6d6" stroke-width="0.70" stroke-linejoin="round" stroke-linecap="round"/>
<path d="M68.5 686.5 L67.5 686.3 L66.7 685.8 L66.3 684.9 L65.8 684.0" fill="none" stroke="#8c8c8c" stroke-width="0.70" stroke-linejoin="round" stroke-linecap="round"/>
<path d="M68.5 686.5 L67.5 686.4 L66.7 686.9 L66.4 687.9 L66.8 688.8" fill="none" stroke="#a8a8a8" stroke-width="0.70" stroke-linejoin="round" stroke-linecap="round"/>
<path d="M68.5 686.5 L68.1 685.6 L69.1 685.3 L69.5 686.2 L69.9 687.1" fill="none" stroke="#c2c2c2" stroke-width="0.70" stroke-linejoin="round" stroke-linecap="round"/>
<path d="M68.5 686.5 L69.5 686.5 L70.5 686.3 L70.5 685.3 L70.3 686.3 L71.2 686.1" fill="none" stroke="#d6d6d6" stroke-width="0.70" stroke-linejoin="round" stroke-linecap="round"/>
<path d="M68.5 686.5 L68.2 685.6 L67.8 684.6 L67.1 683.9 L66.3 684.5 L67.3 684.3" fill="none" stroke="#8c8c8c" stroke-width="0.70" stroke-linejoin="round" stroke-linecap="round"/>
<path d="M68.5 686.5 L67.8 687.2 L67.5 688.1 L66.8 688.8 L65.8 689.1 L64.8 689.3 L65.3 688.4" fill="none" stroke="#a8a8a8" stroke-width="0.70" stroke-linejoin="round" stroke-linecap="round"/>
<path d="M68.5 686.5 L69.0 685.7 L68.2 685.1 L67.2 685.0" fill="none" stroke="#c2c2c2" stroke-width="0.70" stroke-linejoin="round" stroke-linecap="round"/>
<path d="M68.5 686.5 L67.9 685.7 L67.2 685.0 L66.2 685.0 L65.8 685.9" fill="none" stroke="#d6d6d6" stroke-width="0.70" stroke-linejoin="round" stroke-linecap="round"/></g>
<path d="M68.5 686.5 l1.5 -4 l1 -4" fill="none" stroke="#bbb" stroke-width="0.6"/>
<clipPath id="iclip0"><rect x="69.5" y="622.5" width="57.00" height="56.00"/></clipPath>
<rect x="69.5" y="622.5" width="57.00" height="56.00" fill="none" stroke="#8e8e8e" stroke-width="0.9"/>
<path d="M75.0 649.5 H123.0 M99.5 624.0 V673.8" stroke="#2a2a2a" stroke-width="1.0" fill="none"/>
<g clip-path="url(#iclip0)"><path d="M99.5 649.5 L97.2 648.3 L94.9 647.1 L92.7 645.7 L90.9 643.9 L89.1 642.0 L87.7 639.8" fill="none" stroke="#555555" stroke-width="0.77" stroke-linejoin="round" stroke-linecap="round"/>
<path d="M99.5 649.5 L96.9 649.7 L94.3 649.7 L91.7 650.0 L89.2 650.8 L86.8 651.5 L84.3 652.4 L82.0 653.6" fill="none" stroke="#6e6e6e" stroke-width="0.86" stroke-linejoin="round" stroke-linecap="round"/>
<path d="M99.5 649.5 L97.0 648.8 L94.6 647.8 L92.3 646.6 L90.3 644.9 L88.3 643.3 L86.2 641.7 L84.0 640.3" fill="none" stroke="#8c8c8c" stroke-width="0.71" stroke-linejoin="round" stroke-linecap="round"/>
<path d="M99.5 649.5 L101.3 647.6 L103.4 646.1 L105.3 644.3 L107.4 642.8 L109.4 641.1 L111.4 639.5 L113.8 638.5 L116.1 637.2 L118.3 635.9" fill="none" stroke="#a8a8a8" stroke-width="0.54" stroke-linejoin="round" stroke-linecap="round"/>
<path d="M99.5 649.5 L101.9 648.5 L104.3 647.4 L106.7 646.6 L109.3 646.1 L111.9 645.9 L114.4 646.4 L116.9 647.3 L119.0 648.7 L120.9 650.5 L122.9 652.2 L124.8 653.9" fill="none" stroke="#c2c2c2" stroke-width="1.20" stroke-linejoin="round" stroke-linecap="round"/>
<path d="M99.5 649.5 L99.9 652.1 L100.3 654.6 L101.3 657.0 L102.4 659.4 L103.6 661.7 L104.6 664.1" fill="none" stroke="#d6d6d6" stroke-width="0.74" stroke-linejoin="round" stroke-linecap="round"/>
<path d="M99.5 649.5 L97.9 651.6 L96.7 653.9 L95.3 656.0 L93.6 658.1 L92.2 660.2 L90.8 662.4 L89.6 664.7 L87.9 666.7" fill="none" stroke="#555555" stroke-width="1.14" stroke-linejoin="round" stroke-linecap="round"/>
<path d="M99.5 649.5 L97.1 650.4 L94.6 651.3 L92.3 652.4 L89.9 653.5 L87.5 654.5 L85.0 655.3 L82.6 656.1 L80.2 657.2 L78.1 658.7" fill="none" stroke="#6e6e6e" stroke-width="1.38" stroke-linejoin="round" stroke-linecap="round"/>
<path d="M99.5 649.5 L100.0 646.9 L100.6 644.4 L101.7 642.1 L103.0 639.8 L104.4 637.6 L105.7 635.4 L106.4 632.9" fill="none" stroke="#8c8c8c" stroke-width="0.85" stroke-linejoin="round" stroke-linecap="round"/>
<path d="M99.5 649.5 L102.0 650.1 L104.4 651.2 L106.7 652.3 L108.9 653.7 L111.0 655.2 L112.9 657.0" fill="none" stroke="#a8a8a8" stroke-width="0.44" stroke-linejoin="round" stroke-linecap="round"/>
<path d="M99.5 649.5 L97.6 647.7 L95.8 645.8 L94.4 643.7 L93.1 641.4 L92.4 638.9 L91.8 636.4 L91.9 633.8 L92.2 631.2 L92.7 628.6" fill="none" stroke="#c2c2c2" stroke-width="0.43" stroke-linejoin="round" stroke-linecap="round"/>
<path d="M99.5 649.5 L98.5 651.9 L97.4 654.3 L96.7 656.8 L96.2 659.3 L95.9 661.9 L95.6 664.5 L95.4 667.1 L95.6 669.7 L96.3 672.2 L97.1 674.7 L98.2 677.0" fill="none" stroke="#d6d6d6" stroke-width="1.38" stroke-linejoin="round" stroke-linecap="round"/>
<path d="M99.5 649.5 L100.8 647.2 L102.0 644.9 L103.2 642.6 L104.4 640.3 L106.3 638.5" fill="none" stroke="#555555" stroke-width="1.24" stroke-linejoin="round" stroke-linecap="round"/>
<path d="M99.5 649.5 L101.6 648.0 L103.8 646.6 L106.0 645.2 L108.3 643.9 L110.4 642.4 L112.4 640.8" fill="none" stroke="#6e6e6e" stroke-width="1.26" stroke-linejoin="round" stroke-linecap="round"/>
<path d="M99.5 649.5 L102.0 650.0 L104.6 650.1 L107.2 650.8 L109.6 651.6 L112.1 652.5 L114.3 653.8 L116.3 655.4 L118.2 657.2" fill="none" stroke="#8c8c8c" stroke-width="1.21" stroke-linejoin="round" stroke-linecap="round"/>
<path d="M99.5 649.5 L100.6 647.1 L101.5 644.7 L102.5 642.3 L103.4 639.9 L104.7 637.6 L106.4 635.6" fill="none" stroke="#a8a8a8" stroke-width="0.66" stroke-linejoin="round" stroke-linecap="round"/>
<path d="M99.5 649.5 L98.5 647.1 L97.4 644.7 L96.2 642.4 L95.3 640.0 L94.3 637.6 L93.7 635.1 L93.4 632.5 L93.5 629.9" fill="none" stroke="#c2c2c2" stroke-width="1.19" stroke-linejoin="round" stroke-linecap="round"/>
<path d="M99.5 649.5 L100.8 651.8 L101.9 654.1 L102.6 656.6 L102.8 659.2 L103.0 661.8 L103.1 664.4 L103.3 667.0 L103.0 669.6 L103.0 672.2 L103.1 674.8" fill="none" stroke="#d6d6d6" stroke-width="0.69" stroke-linejoin="round" stroke-linecap="round"/>
<path d="M99.5 649.5 L101.9 648.5 L104.4 647.7 L106.8 646.9 L109.4 646.6 L112.0 646.6 L114.6 647.1 L117.2 647.3 L119.7 647.7 L122.2 648.4 L124.8 649.1 L127.3 649.8" fill="none" stroke="#555555" stroke-width="1.01" stroke-linejoin="round" stroke-linecap="round"/>
<path d="M99.5 649.5 L98.2 647.2 L97.1 644.9 L96.2 642.4 L95.9 639.9 L95.4 637.3 L95.0 634.7" fill="none" stroke="#6e6e6e" stroke-width="1.21" stroke-linejoin="round" stroke-linecap="round"/>
<path d="M99.5 649.5 L100.2 652.0 L100.7 654.6 L101.3 657.1 L101.7 659.6 L102.4 662.2 L103.2 664.6 L104.2 667.0 L105.6 669.2" fill="none" stroke="#8c8c8c" stroke-width="0.70" stroke-linejoin="round" stroke-linecap="round"/>
<path d="M99.5 649.5 L99.0 652.1 L98.0 654.5 L97.5 657.0 L96.6 659.5 L95.7 661.9 L94.6 664.3" fill="none" stroke="#a8a8a8" stroke-width="0.68" stroke-linejoin="round" stroke-linecap="round"/>
<path d="M99.5 649.5 L97.1 648.6 L94.7 647.6 L92.4 646.4 L90.1 645.1 L88.3 643.2 L86.5 641.3 L84.7 639.5 L83.0 637.5 L81.1 635.7 L79.4 633.7" fill="none" stroke="#c2c2c2" stroke-width="0.48" stroke-linejoin="round" stroke-linecap="round"/>
<path d="M99.5 649.5 L98.3 651.8 L97.1 654.1 L95.7 656.3 L94.6 658.7 L93.5 661.0" fill="none" stroke="#d6d6d6" stroke-width="0.89" stroke-linejoin="round" stroke-linecap="round"/>
<path d="M99.5 649.5 L101.2 651.4 L103.3 653.0 L105.4 654.5 L107.7 655.8 L109.9 657.2 L111.6 659.2 L113.4 661.1 L115.2 662.9" fill="none" stroke="#555555" stroke-width="1.23" stroke-linejoin="round" stroke-linecap="round"/>
<path d="M99.5 649.5 L99.1 646.9 L99.1 644.3 L98.7 641.8 L98.2 639.2 L97.9 636.6 L97.8 634.0" fill="none" stroke="#6e6e6e" stroke-width="0.78" stroke-linejoin="round" stroke-linecap="round"/>
<path d="M99.5 649.5 L100.3 647.0 L101.2 644.6 L102.0 642.1 L102.2 639.5 L102.7 637.0 L103.0 634.4 L103.5 631.8 L103.9 629.3 L104.9 626.9" fill="none" stroke="#8c8c8c" stroke-width="1.12" stroke-linejoin="round" stroke-linecap="round"/>
<path d="M99.5 649.5 L97.4 648.0 L95.1 646.8 L92.6 646.1 L90.0 645.7 L87.4 645.9" fill="none" stroke="#a8a8a8" stroke-width="1.25" stroke-linejoin="round" stroke-linecap="round"/>
<path d="M99.5 649.5 L99.3 646.9 L99.3 644.3 L98.9 641.7 L99.0 639.1 L99.0 636.5 L99.1 633.9" fill="none" stroke="#c2c2c2" stroke-width="0.80" stroke-linejoin="round" stroke-linecap="round"/>
<path d="M99.5 649.5 L101.4 647.7 L103.3 646.0 L105.3 644.3 L107.0 642.3 L108.9 640.5 L110.9 638.9" fill="none" stroke="#d6d6d6" stroke-width="1.01" stroke-linejoin="round" stroke-linecap="round"/></g>
<g clip-path="url(#iclip0)" fill="none" stroke-linecap="round"><path d="M99.5 649.5 L92 638 L86.5 629.5 L84.5 628" stroke="#6a6a6a" stroke-width="1.6"/><path d="M99.5 649.5 L88 652.5 L83 655 L78.5 658.5 L80.5 660" stroke="#5a5a5a" stroke-width="1.7"/><path d="M99.5 649.5 L106 640 L113 631 L121 622" stroke="#8a8a8a" stroke-width="1.2"/><path d="M99.5 649.5 L109 635 L118 623" stroke="#b0b0b0" stroke-width="1.0"/><path d="M99.5 649.5 L96 663 L91.5 675" stroke="#7a7a7a" stroke-width="0.9"/><path d="M99.5 649.5 L99 672" stroke="#888" stroke-width="0.9"/><path d="M99.5 649.5 L106 655 L110 658 L111.5 662" stroke="#6e6e6e" stroke-width="1.1"/><path d="M99.5 649.5 L90 642 L80 636 L70 636 M86 645 L75 652 L70 660" stroke="#c4c4c4" stroke-width="0.6"/></g>
<g clip-path="url(#iclip0)"><path d="M99.5 649.5 L102.0 648.7 L104.3 647.4" fill="none" stroke="#d6d6d6" stroke-width="1.50" stroke-linejoin="round" stroke-linecap="round"/>
<path d="M99.5 649.5 L100.6 651.9 L101.5 654.3 L102.3 656.8 L103.2 659.2" fill="none" stroke="#cacaca" stroke-width="1.50" stroke-linejoin="round" stroke-linecap="round"/>
<path d="M99.5 649.5 L98.7 647.0 L97.6 644.7 L96.2 642.5 L94.9 640.2" fill="none" stroke="#c0c0c0" stroke-width="1.50" stroke-linejoin="round" stroke-linecap="round"/>
<path d="M99.5 649.5 L100.0 652.1 L100.5 654.6 L100.8 657.2 L101.2 659.8" fill="none" stroke="#dcdcdc" stroke-width="1.50" stroke-linejoin="round" stroke-linecap="round"/>
<path d="M99.5 649.5 L97.8 647.5 L96.2 645.5 L94.8 643.3" fill="none" stroke="#d6d6d6" stroke-width="1.50" stroke-linejoin="round" stroke-linecap="round"/>
<path d="M99.5 649.5 L99.1 646.9 L99.1 644.3" fill="none" stroke="#cacaca" stroke-width="1.50" stroke-linejoin="round" stroke-linecap="round"/>
<path d="M99.5 649.5 L101.6 651.1 L103.4 652.9 L105.1 654.9" fill="none" stroke="#c0c0c0" stroke-width="1.50" stroke-linejoin="round" stroke-linecap="round"/>
<path d="M99.5 649.5 L97.6 647.7 L96.3 645.4 L95.1 643.2" fill="none" stroke="#dcdcdc" stroke-width="1.50" stroke-linejoin="round" stroke-linecap="round"/>
<path d="M99.5 649.5 L101.5 651.1 L103.8 652.4" fill="none" stroke="#d6d6d6" stroke-width="1.50" stroke-linejoin="round" stroke-linecap="round"/>
<path d="M99.5 649.5 L100.9 651.7 L102.6 653.7 L104.4 655.5 L106.3 657.3" fill="none" stroke="#cacaca" stroke-width="1.50" stroke-linejoin="round" stroke-linecap="round"/>
<path d="M99.5 649.5 L98.4 651.9 L97.7 654.4 L97.6 657.0" fill="none" stroke="#c0c0c0" stroke-width="1.50" stroke-linejoin="round" stroke-linecap="round"/>
<path d="M99.5 649.5 L101.2 647.5 L103.0 645.7" fill="none" stroke="#dcdcdc" stroke-width="1.50" stroke-linejoin="round" stroke-linecap="round"/>
<path d="M99.5 649.5 L98.3 647.2 L97.2 644.8" fill="none" stroke="#d6d6d6" stroke-width="1.50" stroke-linejoin="round" stroke-linecap="round"/>
<path d="M99.5 649.5 L97.6 647.7 L95.9 645.7 L94.4 643.6 L93.1 641.4" fill="none" stroke="#cacaca" stroke-width="1.50" stroke-linejoin="round" stroke-linecap="round"/>
<path d="M99.5 649.5 L97.7 647.6 L95.9 645.7 L94.0 644.0 L91.9 642.4" fill="none" stroke="#c0c0c0" stroke-width="1.50" stroke-linejoin="round" stroke-linecap="round"/>
<path d="M99.5 649.5 L100.8 647.3 L102.4 645.2 L104.0 643.2" fill="none" stroke="#dcdcdc" stroke-width="1.50" stroke-linejoin="round" stroke-linecap="round"/>
<path d="M99.5 649.5 L96.9 649.5 L94.3 649.4 L91.7 649.4 L89.1 649.3" fill="none" stroke="#d6d6d6" stroke-width="1.50" stroke-linejoin="round" stroke-linecap="round"/>
<path d="M99.5 649.5 L101.4 647.7 L103.5 646.1" fill="none" stroke="#cacaca" stroke-width="1.50" stroke-linejoin="round" stroke-linecap="round"/>
<path d="M99.5 649.5 L97.6 647.8 L95.7 645.9 L94.0 644.0 L92.2 642.1" fill="none" stroke="#c0c0c0" stroke-width="1.50" stroke-linejoin="round" stroke-linecap="round"/>
<path d="M99.5 649.5 L102.1 649.3 L104.6 648.7" fill="none" stroke="#dcdcdc" stroke-width="1.50" stroke-linejoin="round" stroke-linecap="round"/>
<path d="M99.5 649.5 L101.9 648.6 L104.3 647.6 L106.6 646.2" fill="none" stroke="#d6d6d6" stroke-width="1.50" stroke-linejoin="round" stroke-linecap="round"/>
<path d="M99.5 649.5 L100.8 651.7 L102.1 654.0" fill="none" stroke="#cacaca" stroke-width="1.50" stroke-linejoin="round" stroke-linecap="round"/></g>
<line x1="86.60" y1="614.50" x2="111.00" y2="614.50" stroke="#111" stroke-width="1.3" />
<text x="98.60" y="610.50" font-size="7.6" text-anchor="middle" fill="#111" stroke="#111" stroke-width="0.22" font-weight="normal" >0.5 mm</text>
<clipPath id="clip01"><rect x="0.5" y="758.5" width="131.00" height="131.00"/></clipPath>
<rect x="0.5" y="758.5" width="131.00" height="131.00" fill="#fff" stroke="#a6a6a6" stroke-width="0.9"/>
<path d="M12.50 822.50 H124.50 M12.50 818.50 V826.50 M124.50 818.50 V826.50 M68.50 763.50 V880.50 M64.50 763.50 H72.50 M64.50 880.50 H72.50" fill="none" stroke="#2a2a2a" stroke-width="1.0"/>
<line x1="12.40" y1="880.50" x2="39.50" y2="880.50" stroke="#111" stroke-width="1.3" />
<text x="24.90" y="876.10" font-size="7.6" text-anchor="middle" fill="#111" stroke="#111" stroke-width="0.22" font-weight="normal" >4 mm</text>
<g clip-path="url(#clip01)"><path d="M68.5 822.5 L67.6 824.8 L66.4 827.0 L65.1 829.1 L63.5 831.1 L61.6 832.7 L59.6 834.2 L58.3 836.3 L57.5 838.7 L56.9 841.1 L56.8 843.6 L56.5 846.1 L55.4 848.3 L53.7 850.3 L52.6 852.5 L51.5 854.7 L50.5 857.0 L49.9 859.4 L48.9 861.7 L48.0 864.0 L47.9 866.5" fill="none" stroke="#767676" stroke-width="0.60" stroke-linejoin="round" stroke-linecap="round"/>
<path d="M68.5 822.5 L67.2 820.4 L66.2 818.1 L65.0 815.9 L63.7 813.8 L61.7 812.2 L59.3 811.4 L57.2 810.2 L54.7 809.7 L52.2 809.5 L49.7 809.9 L47.4 810.7 L45.7 812.5 L44.0 814.4 L42.2 816.1 L40.4 817.9 L38.8 819.8 L37.2 821.7 L35.9 823.8 L34.2 825.7 L32.8 827.7 L31.3 829.7 L30.4 832.1 L29.8 834.5 L29.1 836.9 L29.1 839.4 L28.7 841.9 L27.8 844.2" fill="none" stroke="#8e8e8e" stroke-width="0.60" stroke-linejoin="round" stroke-linecap="round"/>
<path d="M68.5 822.5 L66.6 820.8 L64.7 819.3 L62.6 817.9 L60.4 816.7 L58.0 815.9 L55.6 815.7 L53.1 815.0 L51.0 813.7 L49.0 812.2 L47.4 810.3 L46.0 808.2 L44.7 806.1 L44.0 803.7 L43.8 801.2 L43.8 798.7 L44.6 796.3 L45.7 794.1 L45.9 791.6 L46.4 789.1 L47.2 786.8 L48.5 784.6 L49.7 782.4" fill="none" stroke="#a6a6a6" stroke-width="0.60" stroke-linejoin="round" stroke-linecap="round"/>
<path d="M68.5 822.5 L70.9 822.0 L73.4 821.7 L75.9 821.2 L78.4 821.2 L80.8 820.8 L83.2 820.0 L85.7 820.4 L88.1 821.1 L90.6 821.3 L93.1 821.4 L95.6 821.7 L98.0 822.2 L100.3 823.3 L102.8 823.2 L105.3 823.4 L107.7 823.6 L110.2 824.1 L112.5 825.1 L114.4 826.7 L116.5 828.1 L118.4 829.6 L120.5 831.0 L123.0 831.5 L125.4 831.0 L127.9 830.6 L130.2 829.6 L131.7 827.6" fill="none" stroke="#bcbcbc" stroke-width="0.60" stroke-linejoin="round" stroke-linecap="round"/>
<path d="M68.5 822.5 L66.3 823.7 L64.4 825.3 L62.0 825.9 L59.5 826.3 L57.0 825.8 L54.6 825.1 L52.3 824.1 L50.0 823.3 L47.7 822.2 L45.3 821.5 L43.0 820.5 L41.1 818.9 L39.6 816.9 L38.9 814.5 L38.8 812.0 L37.8 809.7 L37.1 807.3 L36.0 805.0 L34.5 803.0 L32.8 801.2 L31.0 799.5 L29.5 797.5 L27.4 796.1 L25.6 794.3 L23.4 793.1 L21.4 791.7 L19.5 790.0 L17.2 789.0 L14.8 788.6 L12.3 788.6 L9.9 789.3 L7.6 790.4 L5.4 791.7 L3.5 793.3 L3.1 795.7" fill="none" stroke="#cecece" stroke-width="0.60" stroke-linejoin="round" stroke-linecap="round"/>
<path d="M68.5 822.5 L68.1 825.0 L67.7 827.4 L67.1 829.9 L67.4 832.3 L68.0 834.8 L69.4 836.9 L69.9 839.3 L70.3 841.8 L70.7 844.2 L71.2 846.7 L72.0 849.1 L72.7 851.5 L73.3 853.9 L73.3 856.4 L73.4 858.9 L73.5 861.4 L73.1 863.9 L73.0 866.4 L72.9 868.9 L72.8 871.4 L72.4 873.8 L72.5 876.3 L72.1 878.8 L71.9 881.3 L71.2 883.7 L70.5 886.1 L69.8 888.5 L68.6 890.6" fill="none" stroke="#dadada" stroke-width="0.60" stroke-linejoin="round" stroke-linecap="round"/>
<path d="M68.5 822.5 L70.4 824.2 L71.7 826.3 L72.7 828.6 L74.2 830.6 L75.5 832.7 L76.9 834.8 L78.3 836.9 L79.6 839.0 L80.5 841.3 L81.9 843.4 L83.4 845.4 L84.9 847.4 L86.4 849.4 L88.4 850.9 L90.1 852.7 L91.9 854.4 L94.0 855.8 L96.2 857.0 L98.3 858.4 L100.8 858.0 L103.3 858.2 L105.6 857.2 L107.8 856.1 L109.9 854.8 L112.2 853.7 L114.5 852.7 L117.0 852.4 L119.3 851.5 L121.8 851.2 L124.3 851.5 L126.6 852.3 L128.1 854.4 L129.5 856.4 L129.5 858.9" fill="none" stroke="#c4c4c4" stroke-width="0.60" stroke-linejoin="round" stroke-linecap="round"/>
<path d="M68.5 822.5 L67.0 824.5 L65.5 826.5 L63.9 828.4 L62.2 830.3 L60.5 832.1 L58.3 833.3 L56.2 834.7 L54.9 836.8 L53.9 839.1 L51.9 840.6 L49.6 841.7 L47.5 842.9 L45.9 844.9 L45.0 847.2 L44.4 849.7 L44.1 852.1 L44.7 854.6 L45.8 856.8" fill="none" stroke="#9a9a9a" stroke-width="0.60" stroke-linejoin="round" stroke-linecap="round"/>
<path d="M68.5 822.5 L67.9 820.1 L68.2 817.6 L68.2 815.1 L67.6 812.7 L66.9 810.2 L65.5 808.2 L64.0 806.2 L62.2 804.5 L60.1 803.1 L58.1 801.6 L55.9 800.5 L53.4 800.8 L50.9 801.3 L48.5 802.0 L46.5 803.5 L44.8 805.3 L42.9 806.9 L41.5 809.0 L40.2 811.2 L38.9 813.2 L38.3 815.7 L38.2 818.2 L38.4 820.7 L38.8 823.1 L39.6 825.5 L40.5 827.8 L41.1 830.3 L42.6 832.2 L43.9 834.4 L43.8 836.9" fill="none" stroke="#767676" stroke-width="0.60" stroke-linejoin="round" stroke-linecap="round"/>
<path d="M68.5 822.5 L66.9 820.6 L65.1 818.8 L63.0 817.4 L60.8 816.4 L58.5 815.3 L56.2 814.4 L54.0 813.3 L51.8 811.9 L49.6 810.7 L47.1 810.7 L44.8 809.7 L42.3 809.8 L39.9 809.5 L37.7 808.3 L35.3 807.6 L32.8 807.2 L30.3 806.9 L27.8 807.3 L25.4 808.0 L22.9 808.1" fill="none" stroke="#8e8e8e" stroke-width="0.60" stroke-linejoin="round" stroke-linecap="round"/>
<path d="M68.5 822.5 L67.7 824.9 L67.1 827.3 L66.8 829.8 L67.1 832.2 L68.3 834.5 L69.3 836.7 L70.5 838.9 L71.7 841.1 L72.2 843.6 L72.8 846.0 L73.9 848.3 L75.4 850.3 L76.7 852.4 L77.0 854.9 L77.4 857.4 L78.6 859.6 L79.7 861.8 L80.5 864.2 L81.1 866.6 L81.2 869.1 L81.9 871.5 L83.3 873.6 L84.6 875.7 L85.8 877.9 L87.0 880.1 L88.4 882.2 L90.0 884.1 L91.9 885.7 L93.6 887.5 L95.3 889.4 L97.2 891.0 L99.1 892.6 L100.9 894.4 L102.7 896.1 L104.5 897.9" fill="none" stroke="#a6a6a6" stroke-width="0.60" stroke-linejoin="round" stroke-linecap="round"/>
<path d="M68.5 822.5 L70.8 821.6 L73.3 821.2 L75.2 819.6 L76.5 817.5 L77.1 815.1 L77.6 812.6 L77.5 810.1 L77.1 807.6 L77.0 805.1 L77.7 802.7 L78.0 800.2 L78.7 797.8 L79.1 795.4 L80.2 793.1 L81.4 790.9 L82.7 788.8 L82.9 786.3 L82.8 783.8 L83.8 781.5 L84.0 779.0 L84.2 776.5 L83.6 774.1 L83.7 771.6 L83.5 769.1 L83.4 766.6 L83.5 764.1 L84.5 761.8 L84.7 759.3 L86.3 757.3 L88.3 755.9 L90.6 754.8 L92.6 753.3" fill="none" stroke="#bcbcbc" stroke-width="0.60" stroke-linejoin="round" stroke-linecap="round"/>
<path d="M68.5 822.5 L66.3 823.8 L64.0 824.6 L61.6 824.0 L59.2 823.2 L57.0 822.1 L54.6 821.3 L52.2 822.2 L49.9 822.9 L47.5 822.2 L45.2 821.2 L42.8 820.5 L40.5 819.4 L38.4 818.1 L36.7 816.3 L35.0 814.4 L33.3 812.5 L32.5 810.2 L31.2 808.0 L30.3 805.7 L30.3 803.2 L30.8 800.8" fill="none" stroke="#cecece" stroke-width="0.60" stroke-linejoin="round" stroke-linecap="round"/>
<path d="M68.5 822.5 L71.0 823.0 L73.2 824.1 L74.8 826.0 L76.4 827.9 L76.8 830.4 L77.3 832.8 L78.3 835.1 L79.2 837.4 L81.1 839.1 L83.5 839.7 L85.9 840.3 L88.4 840.9 L90.9 841.1 L93.3 841.7 L95.8 842.0 L98.1 842.8 L100.6 842.5 L102.7 841.2 L105.0 840.1 L107.4 839.4 L109.8 838.6 L111.9 837.3 L113.9 835.9 L115.7 834.1 L117.4 832.3" fill="none" stroke="#dadada" stroke-width="0.60" stroke-linejoin="round" stroke-linecap="round"/>
<path d="M68.5 822.5 L68.9 825.0 L68.6 827.5 L69.1 829.9 L70.6 831.9 L72.3 833.7 L74.3 835.2 L76.6 836.3 L78.9 837.1 L81.2 838.1 L82.9 839.9 L84.8 841.5 L86.2 843.7 L87.8 845.6 L90.0 846.8 L92.3 847.8 L94.6 848.7 L97.1 848.4 L99.6 848.2 L102.1 848.2" fill="none" stroke="#c4c4c4" stroke-width="0.60" stroke-linejoin="round" stroke-linecap="round"/>
<path d="M68.5 822.5 L66.4 821.2 L63.9 821.0 L61.5 820.3 L59.0 819.8 L56.7 819.1 L54.5 817.9 L52.0 817.2 L49.6 816.5 L47.5 815.3 L45.6 813.7 L44.4 811.5 L43.1 809.3 L42.1 807.0 L40.9 804.8 L39.9 802.6 L38.3 800.6 L37.1 798.4 L35.8 796.3 L34.3 794.2 L33.2 792.1 L31.9 789.9 L31.4 787.4 L30.9 785.0 L30.3 782.6 L29.2 780.3 L28.0 778.1 L27.0 775.8 L25.9 773.6 L24.6 771.4 L23.1 769.4 L21.6 767.5 L20.5 765.2 L19.3 763.0 L18.0 760.9" fill="none" stroke="#9a9a9a" stroke-width="0.60" stroke-linejoin="round" stroke-linecap="round"/>
<path d="M68.5 822.5 L69.4 824.9 L70.4 827.1 L71.7 829.3 L73.1 831.3 L74.8 833.2 L75.9 835.4 L77.3 837.5 L78.3 839.8 L79.4 842.1 L80.2 844.4 L82.0 846.1 L83.7 847.9 L85.5 849.7 L87.3 851.4 L89.4 852.7 L91.8 853.6 L94.0 854.7 L96.3 855.8 L98.6 856.7 L101.0 857.5" fill="none" stroke="#767676" stroke-width="0.60" stroke-linejoin="round" stroke-linecap="round"/>
<path d="M68.5 822.5 L68.2 825.0 L67.6 827.4 L66.9 829.8 L66.1 832.2 L65.1 834.5 L63.6 836.5 L62.5 838.7 L61.0 840.7 L58.8 842.0 L56.3 842.3 L53.8 842.4 L51.3 842.5 L48.8 842.3 L46.4 841.9 L44.5 840.3 L42.9 838.4 L42.2 835.9 L43.0 833.6 L44.9 831.9 L47.2 831.0 L49.6 830.2 L52.1 830.5 L54.5 831.1 L56.7 832.2 L58.9 833.4 L61.1 834.7 L63.2 836.0 L65.3 837.4 L66.8 839.3 L68.7 841.0 L70.6 842.5" fill="none" stroke="#8e8e8e" stroke-width="0.60" stroke-linejoin="round" stroke-linecap="round"/>
<path d="M68.5 822.5 L66.8 820.6 L65.8 818.4 L64.7 816.1 L63.5 813.9 L61.9 812.0 L59.5 811.3 L57.0 811.2 L54.5 811.4 L52.0 811.8 L49.7 812.8 L47.7 814.2 L45.7 815.7 L43.9 817.5 L42.3 819.4 L40.5 821.1 L38.3 822.4 L36.3 823.9 L34.8 825.8 L32.6 827.0 L30.3 828.0 L27.8 828.4 L25.5 829.3 L23.0 829.8 L20.5 830.0 L18.0 830.3" fill="none" stroke="#a6a6a6" stroke-width="0.60" stroke-linejoin="round" stroke-linecap="round"/>
<path d="M68.5 822.5 L66.2 823.5 L64.0 824.6 L61.7 825.6 L59.5 826.8 L57.7 828.6 L55.9 830.3 L54.6 832.5 L54.5 835.0 L54.2 837.5 L54.0 839.9 L54.5 842.4 L55.2 844.8 L56.5 846.9 L57.9 849.0 L59.3 851.1 L60.6 853.2 L61.8 855.4 L63.7 857.0 L66.0 858.1 L67.8 859.7 L69.5 861.6 L71.4 863.2 L73.9 863.6 L76.1 864.8 L78.3 865.8 L80.2 867.5 L82.2 869.1 L83.5 871.2 L84.5 873.5 L85.9 875.5 L87.9 877.1 L89.8 878.6 L92.1 879.7 L94.5 880.5" fill="none" stroke="#bcbcbc" stroke-width="0.60" stroke-linejoin="round" stroke-linecap="round"/>
<path d="M68.5 822.5 L66.7 820.8 L65.1 818.8 L64.6 816.4 L64.6 813.9 L65.0 811.4 L64.9 808.9 L64.1 806.5 L63.8 804.1 L64.4 801.6 L64.2 799.1 L64.7 796.7 L65.1 794.2 L66.3 792.0 L67.9 790.1 L69.2 788.0 L70.2 785.7 L71.2 783.4 L72.5 781.3 L73.7 779.1 L75.5 777.3 L77.4 775.8 L79.8 775.1 L82.3 774.9" fill="none" stroke="#cecece" stroke-width="0.60" stroke-linejoin="round" stroke-linecap="round"/>
<path d="M68.5 822.5 L66.0 822.2 L63.5 822.5 L61.3 823.6 L58.8 823.6 L56.3 823.0 L53.9 822.2 L52.1 820.6 L50.3 818.9 L48.5 817.1 L46.5 815.6 L44.5 814.1 L42.2 813.0 L39.9 812.0 L38.2 810.2 L36.4 808.4 L34.6 806.8 L32.3 805.8 L29.8 805.5 L27.4 804.8 L25.2 803.6 L23.4 801.9 L21.6 800.0 L21.0 797.6 L20.3 795.2 L19.3 792.9 L18.4 790.6 L16.6 788.8 L14.6 787.4 L12.5 786.0 L10.2 785.1 L7.7 784.7 L5.3 784.1 L2.8 783.8" fill="none" stroke="#dadada" stroke-width="0.60" stroke-linejoin="round" stroke-linecap="round"/>
<path d="M68.5 822.5 L69.5 820.2 L70.8 818.1 L72.5 816.2 L74.1 814.3 L75.9 812.6 L77.7 810.8 L80.1 810.0 L82.6 809.9 L85.0 810.1 L87.5 810.1 L89.8 811.3 L91.6 813.0 L93.1 815.0 L93.9 817.4 L95.2 819.5 L96.8 821.4 L97.9 823.7 L98.5 826.1 L99.3 828.5 L100.6 830.6 L101.9 832.8 L104.0 834.0" fill="none" stroke="#c4c4c4" stroke-width="0.60" stroke-linejoin="round" stroke-linecap="round"/>
<path d="M68.5 822.5 L67.7 820.1 L66.7 817.9 L65.8 815.5 L64.0 813.7 L62.5 811.8 L60.9 809.9 L59.2 808.0 L57.3 806.5 L54.8 806.0 L52.3 805.6 L49.8 805.6 L47.4 806.1 L45.7 807.9 L44.2 809.9 L43.4 812.3 L43.6 814.8 L45.0 816.9 L46.8 818.6 L48.9 819.9 L51.4 820.4 L53.9 820.3 L56.3 819.9 L58.8 819.6 L61.3 819.2 L63.8 818.9 L66.0 817.9 L68.4 817.1 L69.9 815.1 L71.2 812.9 L71.8 810.5 L72.5 808.1 L72.1 805.6 L71.1 803.3" fill="none" stroke="#9a9a9a" stroke-width="0.60" stroke-linejoin="round" stroke-linecap="round"/>
<path d="M68.5 822.5 L69.6 824.7 L70.7 827.0 L71.8 829.2 L73.3 831.2 L75.0 833.0 L76.5 835.1 L77.9 837.2 L79.1 839.3 L79.9 841.7 L80.1 844.2 L79.9 846.7 L80.4 849.2 L81.2 851.5 L81.4 854.0 L81.7 856.5 L80.9 858.8 L79.7 861.0 L78.0 862.9 L76.2 864.6 L74.0 865.8 L71.5 865.6 L69.1 864.9 L66.7 864.2 L65.1 862.3 L63.3 860.5 L61.0 859.5 L58.5 859.2 L56.4 857.9 L54.2 856.8 L52.1 855.4 L49.9 854.3 L47.7 853.0 L45.4 851.9 L43.1 851.0 L40.7 850.3" fill="none" stroke="#767676" stroke-width="0.60" stroke-linejoin="round" stroke-linecap="round"/>
<path d="M68.5 822.5 L69.7 820.3 L70.5 817.9 L71.6 815.7 L72.8 813.5 L73.9 811.3 L74.2 808.8 L74.1 806.3 L74.0 803.8 L73.7 801.3 L73.6 798.8 L73.0 796.4 L72.0 794.1 L71.0 791.8 L69.5 789.8 L68.1 787.8 L66.1 786.2 L64.6 784.3 L63.0 782.3" fill="none" stroke="#8e8e8e" stroke-width="0.60" stroke-linejoin="round" stroke-linecap="round"/><path d="M68.8 822.5 L69.6 822.9 L70.7 823.7 L72.2 824.3 L73.9 824.7 L75.5 825.7 L77.0 827.0 L78.7 827.6 L80.5 828.1 L81.9 828.9 L83.4 829.9 L85.0 830.2 L86.7 830.3 L88.2 830.8 L89.7 831.5 L91.2 831.8 L92.8 831.9 L94.4 832.2 L96.1 832.7 L97.9 833.0 L99.8 832.9 L101.6 833.0 L103.3 833.4 L105.1 833.6 L106.7 833.8 L108.3 834.3 L109.8 835.2 L111.3 836.0 L112.7 836.8 L114.1 837.6 L115.4 838.5 L116.6 839.5 L118.3 840.5 L119.8 841.4 L121.2 842.5 L122.5 843.7 L124.1 844.8 L125.6 845.9 L127.0 847.5 L128.5 848.9 L130.1 850.1 L131.2 851.4 L131.9 852.4" fill="none" stroke="#4a4a4a" stroke-width="0.8" stroke-linecap="round"/><path d="M68.8 822.5 L69.3 823.5 L70.2 824.9 L71.7 826.2 L72.6 828.1 L73.3 830.2 L74.7 831.8 L75.3 833.2 L75.4 834.9 L75.8 836.6 L76.7 838.1 L77.5 839.6 L77.7 841.3 L78.1 842.9 L79.0 844.3 L79.9 845.7 L80.5 847.3 L81.0 848.9 L81.9 850.3 L82.9 851.6 L83.6 852.9 L84.2 854.3 L85.1 855.8 L86.1 857.1 L87.0 858.5 L87.7 859.9 L88.6 861.1 L89.9 862.2 L91.3 863.2 L92.8 864.5 L94.4 865.6 L96.1 866.3 L97.8 866.7 L99.3 866.7 L100.6 866.1 L101.8 864.7 L102.9 863.0 L104.2 861.3 L105.3 859.7 L106.0 858.1 L106.6 857.1" fill="none" stroke="#555555" stroke-width="0.75" stroke-linecap="round"/><path d="M68.8 822.5 L68.7 821.4 L68.4 820.1 L68.2 818.5 L68.6 816.6 L68.0 814.7 L67.0 812.8 L67.3 810.8 L67.7 808.8 L66.9 807.1 L66.4 805.5 L66.8 803.7 L67.1 802.0 L66.4 800.4 L65.6 798.8 L65.6 797.2 L65.9 795.4 L65.3 793.8 L64.5 792.3 L64.4 790.6 L64.8 788.7 L64.4 787.0 L63.5 785.3 L63.4 783.5 L63.5 781.8 L62.9 780.2 L62.1 778.8 L61.7 777.4 L61.6 775.3 L60.9 773.5 L60.0 771.9 L59.5 770.4 L59.5 769.0 L59.4 767.9 L59.9 765.8 L61.0 764.8" fill="none" stroke="#505050" stroke-width="0.75" stroke-linecap="round"/><path d="M68.8 822.5 L68.2 821.6 L67.4 820.3 L66.7 818.8 L65.8 817.1 L64.5 815.5 L63.4 813.7 L62.2 811.9 L61.0 810.9 L59.7 810.0 L58.5 808.7 L57.4 807.3 L55.9 806.3 L54.3 805.3 L53.2 803.7 L52.2 802.2 L50.8 801.1 L49.4 799.8 L48.8 798.2 L48.2 796.6 L47.1 795.3 L45.9 793.9 L45.7 792.1 L45.5 790.3 L44.6 788.8 L43.6 787.3 L43.5 785.4 L43.4 783.6 L42.3 782.2 L41.2 780.8 L41.0 779.0 L40.9 777.1 L39.9 775.6 L39.0 774.0 L39.2 772.1 L39.3 770.3 L38.6 768.8 L37.6 767.5 L37.4 766.1 L37.6 764.8 L36.5 762.2 L35.1 760.6 L34.9 759.0 L34.9 757.9" fill="none" stroke="#6a6a6a" stroke-width="0.7" stroke-linecap="round"/><path d="M68.8 822.5 L69.4 821.7 L70.2 820.8 L71.2 819.6 L72.3 818.4 L73.7 817.2 L74.9 815.7 L76.0 814.1 L77.4 812.7 L78.6 811.2 L79.4 809.6 L80.1 808.1 L81.0 806.7 L81.8 805.2 L82.3 803.6 L82.9 801.9 L83.7 800.3 L84.4 798.7 L85.0 797.1 L85.5 795.4 L86.2 793.8 L87.0 792.2 L87.5 790.6 L88.1 788.9 L89.0 787.4 L89.9 785.9 L90.5 784.2 L91.1 782.5 L92.0 781.1 L92.9 779.6 L93.3 777.9 L93.6 776.3 L94.3 774.8 L95.0 773.2 L95.2 771.3 L95.2 769.4 L95.9 767.6 L96.6 765.8 L96.5 764.1 L96.5 762.4 L97.0 761.1 L97.6 759.9 L97.8 759.0" fill="none" stroke="#707070" stroke-width="0.7" stroke-linecap="round"/><path d="M68.8 822.5 L67.7 822.7 L66.3 822.7 L64.5 822.6 L62.8 823.3 L60.9 824.1 L58.9 823.9 L57.0 824.2 L55.7 825.4 L54.2 826.0 L52.4 825.9 L50.7 826.1 L49.3 827.3 L47.9 828.3 L46.1 828.5 L44.4 828.9 L43.2 830.2 L41.8 831.5 L40.0 831.8 L38.2 832.1 L36.9 833.4 L35.5 834.5 L33.7 834.7 L32.0 835.1 L30.5 836.5 L28.8 837.8 L26.7 838.3 L25.0 839.6 L23.7 840.9 L22.2 841.5 L21.1 841.8" fill="none" stroke="#5a5a5a" stroke-width="0.75" stroke-linecap="round"/><path d="M68.8 822.5 L67.8 822.9 L66.6 823.6 L65.4 824.8 L63.7 825.6 L61.8 826.2 L60.4 828.0 L58.8 829.3 L56.6 829.5 L54.9 830.3 L53.6 831.7 L52.2 832.2 L49.8 831.8 L48.0 832.3 L46.2 832.9 L44.5 832.4 L42.7 831.8 L41.0 832.5 L39.5 833.5 L37.7 833.6 L35.7 833.8 L34.2 834.9 L32.7 836.1 L31.0 836.5 L29.5 836.9 L27.9 838.9 L26.2 840.4 L24.5 841.3 L23.5 842.2" fill="none" stroke="#606060" stroke-width="0.7" stroke-linecap="round"/><path d="M68.8 822.5 L67.8 822.2 L66.6 822.0 L65.2 821.6 L63.8 820.8 L62.2 820.1 L60.2 820.5 L58.3 820.1 L56.7 818.7 L54.8 818.3 L52.8 818.4 L51.2 817.5 L49.8 816.4 L48.1 816.1 L46.2 816.4 L44.6 815.8 L43.2 814.8 L41.5 814.4 L39.8 814.6 L38.2 814.1 L36.8 813.0 L35.4 812.4 L33.7 812.4 L32.2 812.3 L30.5 811.5 L28.9 810.8 L27.0 810.9 L25.3 810.9 L23.7 810.2 L22.1 809.7 L20.5 809.8 L18.9 809.9 L17.4 809.7 L15.4 809.4 L13.4 809.7 L11.6 810.2 L9.7 810.4 L7.9 810.8 L6.4 811.8 L5.1 812.7 L3.8 813.7 L2.5 815.1 L1.7 816.9 L0.9 818.6 L0.0 820.1 L-0.7 821.4 L-1.1 822.4" fill="none" stroke="#c8c8c8" stroke-width="0.7" stroke-linecap="round"/><path d="M68.8 822.5 L69.7 822.3 L70.9 822.1 L72.4 821.8 L74.0 821.7 L75.8 821.6 L77.7 821.2 L79.6 820.8 L81.5 820.6 L83.4 820.3 L85.2 819.8 L86.8 819.4 L88.5 819.1 L90.1 818.6 L91.7 817.9 L93.3 817.2 L95.0 816.8 L96.6 816.3 L98.1 815.5 L99.7 814.9 L101.3 814.8 L102.8 814.7 L104.2 814.5 L105.9 814.5 L107.6 815.1 L109.0 816.1 L110.7 816.8 L112.4 817.4 L113.8 818.6 L115.0 819.9 L116.5 820.6 L118.1 821.0 L119.3 821.7 L120.8 823.3 L122.6 824.1 L124.4 824.7 L125.5 825.8 L126.1 827.1 L126.8 827.8" fill="none" stroke="#bdbdbd" stroke-width="0.7" stroke-linecap="round"/><path d="M68.8 822.5 L69.6 822.1 L70.7 821.9 L72.0 821.8 L73.3 821.5 L74.6 820.4 L76.1 819.5 L78.0 819.6 L79.9 819.5 L81.5 818.3 L83.3 817.7 L85.4 817.9 L87.2 817.3 L88.8 816.0 L90.6 815.6 L92.5 815.4 L94.0 814.4 L95.3 813.3 L96.8 812.9 L98.2 812.8 L99.5 812.3 L101.2 810.6 L102.8 809.4 L104.4 808.3 L105.3 806.8 L105.7 805.2 L106.5 803.8 L107.5 802.5 L108.3 801.1 L109.0 799.5 L110.1 798.1 L111.5 796.9 L112.6 795.4 L113.4 793.8 L114.5 792.4 L115.7 791.1 L116.8 789.7 L117.8 788.3 L119.0 787.1 L120.5 786.2 L122.1 785.1 L123.6 784.0 L125.4 783.1 L127.1 782.4 L128.6 781.6 L130.0 780.8 L131.1 780.2 L132.1 779.8" fill="none" stroke="#c4c4c4" stroke-width="0.7" stroke-linecap="round"/><path d="M132.0 869.1 L131.2 870.1 L129.9 871.5 L128.4 872.7 L127.2 874.3 L126.4 876.1 L125.4 877.1" fill="none" stroke="#8a8a8a" stroke-width="0.7" stroke-linecap="round"/><path d="M68.8 822.5 L68.2 823.4 L67.7 824.7 L67.0 826.1 L65.7 827.4 L65.0 829.3 L64.6 831.3 L63.0 832.7 L61.6 834.1 L61.2 835.7 L60.7 837.2 L59.6 838.5 L58.4 839.8 L57.9 841.4 L57.4 843.1 L56.4 844.5 L55.2 845.6 L54.3 846.9 L53.5 848.2 L52.1 849.5 L50.3 850.3 L48.8 851.5 L47.3 852.7 L45.7 853.5 L44.2 854.1 L43.0 854.9 L42.2 855.5" fill="none" stroke="#b0b0b0" stroke-width="0.7" stroke-linecap="round"/></g>
<text x="219.90" y="585.70" font-size="9.0" text-anchor="middle" fill="#111" stroke="#111" stroke-width="0.22" font-weight="normal" >TEV control</text>
<text x="219.90" y="596.90" font-size="9.0" text-anchor="middle" fill="#111" stroke="#111" stroke-width="0.22" font-weight="normal" >Fed</text>
<text x="219.90" y="910.80" font-size="9.0" text-anchor="middle" fill="#111" stroke="#111" stroke-width="0.22" font-weight="normal" >TEV control</text>
<text x="219.90" y="921.80" font-size="9.0" text-anchor="middle" fill="#111" stroke="#111" stroke-width="0.22" font-weight="normal" >Food-deprived</text>
<clipPath id="clip10"><rect x="151.5" y="622.5" width="131.00" height="131.00"/></clipPath>
<rect x="151.5" y="622.5" width="131.00" height="131.00" fill="#fff" stroke="#a6a6a6" stroke-width="0.9"/>
<path d="M163.50 686.50 H275.50 M163.50 682.50 V690.50 M275.50 682.50 V690.50 M219.50 628.50 V745.50 M215.50 628.50 H223.50 M215.50 745.50 H223.50" fill="none" stroke="#2a2a2a" stroke-width="1.0"/>
<line x1="171.50" y1="744.50" x2="198.40" y2="744.50" stroke="#111" stroke-width="1.3" />
<text x="184.40" y="740.70" font-size="7.6" text-anchor="middle" fill="#111" stroke="#111" stroke-width="0.22" font-weight="normal" >4 mm</text>
<g clip-path="url(#clip10)"><path d="M219.5 686.5 L220.4 686.2 L221.0 685.3 L220.3 684.6 L219.8 685.5" fill="none" stroke="#3f6fd0" stroke-width="0.70" stroke-linejoin="round" stroke-linecap="round"/>
<path d="M219.5 686.5 L218.6 686.1 L218.0 685.3 L218.6 684.5 L219.4 683.9 L220.2 683.3" fill="none" stroke="#5a86dc" stroke-width="0.70" stroke-linejoin="round" stroke-linecap="round"/>
<path d="M219.5 686.5 L219.1 687.4 L218.1 687.8 L217.8 688.7 L218.1 689.7 L218.9 690.3" fill="none" stroke="#7fa2e6" stroke-width="0.70" stroke-linejoin="round" stroke-linecap="round"/>
<path d="M219.5 686.5 L220.5 686.7 L220.7 687.6 L220.2 688.5" fill="none" stroke="#a4bdee" stroke-width="0.70" stroke-linejoin="round" stroke-linecap="round"/>
<path d="M219.5 686.5 L220.5 686.8 L221.4 686.6 L222.2 685.9 L221.3 685.5 L220.9 686.4" fill="none" stroke="#c4d4f4" stroke-width="0.70" stroke-linejoin="round" stroke-linecap="round"/>
<path d="M219.5 686.5 L218.8 687.2 L218.8 688.2 L219.8 688.2" fill="none" stroke="#3f6fd0" stroke-width="0.70" stroke-linejoin="round" stroke-linecap="round"/>
<path d="M219.5 686.5 L220.0 687.4 L220.1 688.4 L219.2 688.8 L218.7 687.9 L219.7 687.7 L219.5 688.7" fill="none" stroke="#5a86dc" stroke-width="0.70" stroke-linejoin="round" stroke-linecap="round"/>
<path d="M219.5 686.5 L220.5 686.7 L221.3 686.2 L221.9 685.4 L222.4 684.6 L222.3 683.6 L221.9 682.7" fill="none" stroke="#7fa2e6" stroke-width="0.70" stroke-linejoin="round" stroke-linecap="round"/>
<path d="M219.5 686.5 L219.1 685.6 L218.7 684.7 L219.5 684.1 L220.2 683.4" fill="none" stroke="#a4bdee" stroke-width="0.70" stroke-linejoin="round" stroke-linecap="round"/>
<path d="M219.5 686.5 L220.4 686.1 L221.3 686.6 L222.3 686.5" fill="none" stroke="#c4d4f4" stroke-width="0.70" stroke-linejoin="round" stroke-linecap="round"/>
<path d="M219.5 686.5 L220.0 687.4 L221.0 687.6 L222.0 687.8 L222.9 688.0" fill="none" stroke="#3f6fd0" stroke-width="0.70" stroke-linejoin="round" stroke-linecap="round"/>
<path d="M219.5 686.5 L220.4 687.0 L221.3 686.6 L222.0 685.9" fill="none" stroke="#5a86dc" stroke-width="0.70" stroke-linejoin="round" stroke-linecap="round"/>
<path d="M219.5 686.5 L219.5 687.5 L219.3 688.5 L218.4 689.0 L218.5 690.0" fill="none" stroke="#7fa2e6" stroke-width="0.70" stroke-linejoin="round" stroke-linecap="round"/>
<path d="M219.5 686.5 L218.5 686.4 L217.8 687.1 L217.7 688.0 L216.9 688.7 L216.2 689.4 L215.3 688.8" fill="none" stroke="#a4bdee" stroke-width="0.70" stroke-linejoin="round" stroke-linecap="round"/>
<path d="M219.5 686.5 L220.3 685.9 L220.9 685.1 L221.7 684.5 L221.5 683.5" fill="none" stroke="#c4d4f4" stroke-width="0.70" stroke-linejoin="round" stroke-linecap="round"/>
<path d="M219.5 686.5 L220.4 687.0 L221.3 687.3 L222.0 688.0 L221.8 689.0 L221.0 689.7" fill="none" stroke="#3f6fd0" stroke-width="0.70" stroke-linejoin="round" stroke-linecap="round"/>
<path d="M219.5 686.5 L219.7 687.5 L219.8 688.5 L220.6 689.0 L221.6 688.8 L222.5 689.1 L223.5 689.3" fill="none" stroke="#5a86dc" stroke-width="0.70" stroke-linejoin="round" stroke-linecap="round"/>
<path d="M219.5 686.5 L220.3 686.0 L219.9 685.1 L218.9 685.2 L218.4 686.1" fill="none" stroke="#7fa2e6" stroke-width="0.70" stroke-linejoin="round" stroke-linecap="round"/>
<path d="M219.5 686.5 L218.6 686.9 L217.8 687.5 L217.2 688.3 L216.3 688.7" fill="none" stroke="#a4bdee" stroke-width="0.70" stroke-linejoin="round" stroke-linecap="round"/>
<path d="M219.5 686.5 L218.6 686.1 L217.9 685.4 L218.0 684.4 L218.9 684.1 L219.5 684.9 L219.4 685.9" fill="none" stroke="#c4d4f4" stroke-width="0.70" stroke-linejoin="round" stroke-linecap="round"/></g>
<path d="M219.5 686.5 l2.5 3 l1.5 3.5 l3 1.5 M219.5 686.5 l4 2.5 l6 2 M219.5 686.5 l-4 -1.5 l-3 1 l-2 -1.5" fill="none" stroke="#6a8fe0" stroke-width="0.6"/>
<clipPath id="iclip1"><rect x="220.5" y="622.5" width="57.00" height="56.00"/></clipPath>
<rect x="220.5" y="622.5" width="57.00" height="56.00" fill="none" stroke="#8e8e8e" stroke-width="0.9"/>
<path d="M226.4 649.5 H275.5 M250.5 625.0 V674.5" stroke="#2a2a2a" stroke-width="1.0" fill="none"/>
<g clip-path="url(#iclip1)"><path d="M250.5 649.5 L252.5 651.4 L255.1 652.6 L257.5 653.9 L260.3 654.6 L263.1 654.8 L265.8 655.2 L268.4 656.4 L271.1 657.1 L273.8 657.8" fill="none" stroke="#24489c" stroke-width="0.63" stroke-linejoin="round" stroke-linecap="round"/>
<path d="M250.5 649.5 L247.7 649.4 L244.9 648.9 L242.1 648.9 L239.4 649.4 L236.6 649.9 L233.9 650.5" fill="none" stroke="#2f5cc0" stroke-width="0.85" stroke-linejoin="round" stroke-linecap="round"/>
<path d="M250.5 649.5 L248.0 648.3 L245.2 647.8 L242.4 647.7 L239.7 648.5 L237.5 650.2 L235.6 652.3 L235.4 655.1 L236.8 657.5" fill="none" stroke="#3f6fd0" stroke-width="1.08" stroke-linejoin="round" stroke-linecap="round"/>
<path d="M250.5 649.5 L247.8 648.8 L245.0 648.4 L242.3 647.6 L239.5 647.9 L236.7 647.7 L234.0 647.9 L231.2 648.2 L228.4 648.8" fill="none" stroke="#5a86dc" stroke-width="0.55" stroke-linejoin="round" stroke-linecap="round"/>
<path d="M250.5 649.5 L248.4 651.3 L246.7 653.6 L245.0 655.8 L243.0 657.8 L240.8 659.5 L239.1 661.7" fill="none" stroke="#7fa2e6" stroke-width="0.78" stroke-linejoin="round" stroke-linecap="round"/>
<path d="M250.5 649.5 L252.7 647.8 L255.1 646.4 L257.7 645.2 L260.3 644.3 L263.1 644.0 L265.8 643.1 L268.4 642.3 L271.2 642.0 L274.0 642.0 L276.7 642.7" fill="none" stroke="#a4bdee" stroke-width="0.94" stroke-linejoin="round" stroke-linecap="round"/>
<path d="M250.5 649.5 L252.8 647.8 L254.8 645.9 L256.5 643.7 L258.6 641.9 L260.9 640.3" fill="none" stroke="#c4d4f4" stroke-width="0.65" stroke-linejoin="round" stroke-linecap="round"/>
<path d="M250.5 649.5 L252.9 650.9 L255.7 651.3 L258.5 651.3 L260.8 649.8 L263.1 648.2" fill="none" stroke="#24489c" stroke-width="0.83" stroke-linejoin="round" stroke-linecap="round"/>
<path d="M250.5 649.5 L248.1 648.0 L246.0 646.2 L244.9 643.6 L245.5 640.8 L246.6 638.3 L248.6 636.3 L251.4 636.4 L253.5 638.2" fill="none" stroke="#2f5cc0" stroke-width="0.58" stroke-linejoin="round" stroke-linecap="round"/>
<path d="M250.5 649.5 L248.6 651.6 L246.5 653.4 L244.7 655.6 L243.3 658.0 L242.1 660.5 L242.7 663.2 L243.6 665.9 L244.2 668.6" fill="none" stroke="#3f6fd0" stroke-width="1.09" stroke-linejoin="round" stroke-linecap="round"/>
<path d="M250.5 649.5 L247.7 649.2 L244.9 648.8 L242.2 648.4 L239.4 648.3 L236.6 647.9 L233.9 648.7 L232.0 650.8 L230.8 653.3 L229.8 655.9 L229.3 658.7 L228.7 661.4 L229.0 664.2" fill="none" stroke="#5a86dc" stroke-width="0.62" stroke-linejoin="round" stroke-linecap="round"/>
<path d="M250.5 649.5 L253.3 649.4 L255.8 648.1 L258.3 646.9 L260.9 646.0 L263.7 646.1 L266.3 647.2" fill="none" stroke="#7fa2e6" stroke-width="0.99" stroke-linejoin="round" stroke-linecap="round"/>
<path d="M250.5 649.5 L253.2 650.2 L255.8 651.3 L258.3 652.5 L260.4 654.4 L261.9 656.7 L262.8 659.4 L263.7 662.0 L263.8 664.8 L264.0 667.6" fill="none" stroke="#a4bdee" stroke-width="0.88" stroke-linejoin="round" stroke-linecap="round"/>
<path d="M250.5 649.5 L250.5 646.7 L250.4 643.9 L249.9 641.2 L248.3 638.9 L246.5 636.7 L244.6 634.6" fill="none" stroke="#c4d4f4" stroke-width="1.01" stroke-linejoin="round" stroke-linecap="round"/>
<path d="M250.5 649.5 L252.3 647.4 L254.4 645.5 L256.2 643.3 L258.0 641.2 L259.8 639.0 L261.8 637.1 L264.1 635.5 L266.7 634.4 L269.2 633.2 L271.9 632.3" fill="none" stroke="#24489c" stroke-width="0.74" stroke-linejoin="round" stroke-linecap="round"/>
<path d="M250.5 649.5 L249.3 652.0 L246.8 653.3 L244.1 654.0 L241.4 654.9 L238.6 655.2 L236.0 654.3" fill="none" stroke="#2f5cc0" stroke-width="0.75" stroke-linejoin="round" stroke-linecap="round"/>
<path d="M250.5 649.5 L253.1 648.6 L255.3 646.7 L256.6 644.3 L256.6 641.5 L255.4 638.9 L253.5 636.8 L251.7 634.7 L249.3 633.2 L247.0 631.7 L244.4 630.6 L241.6 630.7" fill="none" stroke="#3f6fd0" stroke-width="1.08" stroke-linejoin="round" stroke-linecap="round"/>
<path d="M250.5 649.5 L252.7 651.3 L254.7 653.2 L256.2 655.5 L257.4 658.1 L258.2 660.8 L259.5 663.3 L260.3 665.9 L261.4 668.5 L263.4 670.4 L266.0 671.6" fill="none" stroke="#5a86dc" stroke-width="1.01" stroke-linejoin="round" stroke-linecap="round"/>
<path d="M250.5 649.5 L252.3 647.4 L254.8 646.1 L257.4 645.1 L259.8 643.6 L262.0 641.8 L263.3 639.4 L265.0 637.1 L266.4 634.7 L266.9 632.0 L267.3 629.2 L268.4 626.6 L269.8 624.2" fill="none" stroke="#7fa2e6" stroke-width="0.78" stroke-linejoin="round" stroke-linecap="round"/>
<path d="M250.5 649.5 L247.8 650.2 L245.0 650.7 L242.2 651.0 L239.5 651.4 L236.8 652.2" fill="none" stroke="#a4bdee" stroke-width="0.79" stroke-linejoin="round" stroke-linecap="round"/>
<path d="M250.5 649.5 L251.5 646.9 L252.4 644.2 L253.6 641.7 L254.5 639.0 L256.7 637.3 L259.2 636.0 L261.8 635.0 L264.4 634.0 L267.2 633.9 L270.0 633.6 L272.7 632.8 L275.5 632.7" fill="none" stroke="#c4d4f4" stroke-width="0.86" stroke-linejoin="round" stroke-linecap="round"/>
<path d="M250.5 649.5 L252.2 647.3 L254.1 645.2 L256.0 643.1 L257.6 640.8 L258.0 638.1 L257.6 635.3 L256.8 632.6 L255.7 630.0 L253.4 628.4 L250.6 628.1" fill="none" stroke="#24489c" stroke-width="0.65" stroke-linejoin="round" stroke-linecap="round"/>
<path d="M250.5 649.5 L249.7 646.8 L249.1 644.1 L249.7 641.3 L250.6 638.7 L251.2 636.0 L252.7 633.6 L253.7 630.9 L253.3 628.2 L252.6 625.5 L251.6 622.8" fill="none" stroke="#2f5cc0" stroke-width="0.73" stroke-linejoin="round" stroke-linecap="round"/>
<path d="M250.5 649.5 L253.3 649.2 L255.9 648.3 L258.3 646.7 L259.8 644.4 L260.7 641.7 L259.8 639.1 L257.8 637.1 L255.1 636.6 L252.4 637.5 L250.5 639.6" fill="none" stroke="#3f6fd0" stroke-width="0.63" stroke-linejoin="round" stroke-linecap="round"/>
<path d="M250.5 649.5 L252.0 647.1 L253.7 644.9 L255.6 642.8 L258.0 641.4 L260.7 640.6" fill="none" stroke="#5a86dc" stroke-width="0.64" stroke-linejoin="round" stroke-linecap="round"/>
<path d="M250.5 649.5 L248.2 647.9 L246.3 645.8 L243.8 644.6 L241.1 643.9 L238.3 644.4 L236.0 645.9 L233.9 647.9" fill="none" stroke="#7fa2e6" stroke-width="1.10" stroke-linejoin="round" stroke-linecap="round"/>
<path d="M250.5 649.5 L247.7 649.2 L245.0 648.6 L242.2 648.7 L239.4 649.3 L237.7 651.5 L237.5 654.3 L238.3 657.0 L240.0 659.2" fill="none" stroke="#a4bdee" stroke-width="0.71" stroke-linejoin="round" stroke-linecap="round"/>
<path d="M250.5 649.5 L252.6 651.4 L255.2 652.5 L257.9 652.7 L260.7 653.1 L263.5 653.3 L266.3 653.0 L269.1 653.4 L271.7 654.4 L274.0 655.9 L275.6 658.2 L275.6 661.0" fill="none" stroke="#c4d4f4" stroke-width="0.61" stroke-linejoin="round" stroke-linecap="round"/>
<path d="M250.5 649.5 L251.6 646.9 L253.5 644.9 L255.6 643.0 L258.1 641.8 L260.6 640.6 L262.8 638.8 L265.3 637.4" fill="none" stroke="#24489c" stroke-width="0.58" stroke-linejoin="round" stroke-linecap="round"/>
<path d="M250.5 649.5 L253.3 649.9 L256.1 650.0 L258.9 650.0 L261.6 650.8 L264.2 651.8 L266.9 652.5 L269.7 652.8 L272.5 652.9" fill="none" stroke="#2f5cc0" stroke-width="0.68" stroke-linejoin="round" stroke-linecap="round"/></g>
<g clip-path="url(#iclip1)" fill="none" stroke-linecap="round"><path d="M250.5 649.5 L243 655 L236 661 L229 667" stroke="#2c55b4" stroke-width="1.3"/><path d="M250.5 649.5 L240 646 L231 643 L223 641.5 M223 662 C229 655 236 652 250.5 649.5" stroke="#3f6fd0" stroke-width="0.8"/><path d="M250.5 649.5 L257 645 L266 641 L273 638 L276 633" stroke="#2a4ea8" stroke-width="1.0"/><path d="M250.5 649.5 C246 640 243 636 241 632 L236 634 L233 633 M241 632 L239.5 627 L238.5 623" stroke="#28489c" stroke-width="0.9"/><path d="M250.5 649.5 C258 654 266 656 272 666 L277 668" stroke="#5a86dc" stroke-width="0.8"/><path d="M250.5 649.5 C252 660 256 668 262 676 M250.5 649.5 C262 640 268 632 276 624" stroke="#7fa2e6" stroke-width="0.7"/></g>
<g clip-path="url(#iclip1)"><path d="M250.5 649.5 L248.2 648.9 L245.8 648.7 L243.4 648.3" fill="none" stroke="#c8d6f4" stroke-width="1.30" stroke-linejoin="round" stroke-linecap="round"/>
<path d="M250.5 649.5 L248.5 648.2 L246.4 647.0 L244.2 646.0" fill="none" stroke="#b8caf0" stroke-width="1.30" stroke-linejoin="round" stroke-linecap="round"/>
<path d="M250.5 649.5 L248.3 648.7 L245.9 648.4 L243.5 648.1" fill="none" stroke="#d4dff8" stroke-width="1.30" stroke-linejoin="round" stroke-linecap="round"/>
<path d="M250.5 649.5 L248.9 647.7 L247.3 645.9 L245.5 644.3" fill="none" stroke="#c8d6f4" stroke-width="1.30" stroke-linejoin="round" stroke-linecap="round"/>
<path d="M250.5 649.5 L251.6 647.4 L252.1 645.0 L252.8 642.7" fill="none" stroke="#b8caf0" stroke-width="1.30" stroke-linejoin="round" stroke-linecap="round"/>
<path d="M250.5 649.5 L252.5 648.2 L254.6 647.1 L256.8 646.1" fill="none" stroke="#d4dff8" stroke-width="1.30" stroke-linejoin="round" stroke-linecap="round"/>
<path d="M250.5 649.5 L251.5 651.7 L252.1 654.0" fill="none" stroke="#c8d6f4" stroke-width="1.30" stroke-linejoin="round" stroke-linecap="round"/>
<path d="M250.5 649.5 L252.4 650.9 L253.9 652.8" fill="none" stroke="#b8caf0" stroke-width="1.30" stroke-linejoin="round" stroke-linecap="round"/>
<path d="M250.5 649.5 L252.6 648.4 L254.9 647.6" fill="none" stroke="#d4dff8" stroke-width="1.30" stroke-linejoin="round" stroke-linecap="round"/>
<path d="M250.5 649.5 L252.5 648.2 L254.5 646.8" fill="none" stroke="#c8d6f4" stroke-width="1.30" stroke-linejoin="round" stroke-linecap="round"/>
<path d="M250.5 649.5 L252.8 650.3 L255.1 651.0 L257.3 652.0" fill="none" stroke="#b8caf0" stroke-width="1.30" stroke-linejoin="round" stroke-linecap="round"/>
<path d="M250.5 649.5 L252.9 649.1 L255.2 648.5 L257.4 647.5" fill="none" stroke="#d4dff8" stroke-width="1.30" stroke-linejoin="round" stroke-linecap="round"/>
<path d="M250.5 649.5 L252.7 650.4 L254.8 651.5" fill="none" stroke="#c8d6f4" stroke-width="1.30" stroke-linejoin="round" stroke-linecap="round"/>
<path d="M250.5 649.5 L248.7 651.1 L247.1 652.8" fill="none" stroke="#b8caf0" stroke-width="1.30" stroke-linejoin="round" stroke-linecap="round"/>
<path d="M250.5 649.5 L248.1 649.2 L245.7 648.8" fill="none" stroke="#d4dff8" stroke-width="1.30" stroke-linejoin="round" stroke-linecap="round"/>
<path d="M250.5 649.5 L251.6 651.6 L252.4 653.9" fill="none" stroke="#c8d6f4" stroke-width="1.30" stroke-linejoin="round" stroke-linecap="round"/>
<path d="M250.5 649.5 L248.7 648.0 L246.8 646.4 L245.5 644.4" fill="none" stroke="#b8caf0" stroke-width="1.30" stroke-linejoin="round" stroke-linecap="round"/>
<path d="M250.5 649.5 L252.2 651.2 L253.9 652.9" fill="none" stroke="#d4dff8" stroke-width="1.30" stroke-linejoin="round" stroke-linecap="round"/></g>
<line x1="238.10" y1="615.50" x2="261.90" y2="615.50" stroke="#111" stroke-width="1.3" />
<text x="250.00" y="610.90" font-size="7.6" text-anchor="middle" fill="#111" stroke="#111" stroke-width="0.22" font-weight="normal" >0.5 mm</text>
<clipPath id="clip11"><rect x="151.5" y="758.5" width="131.00" height="131.00"/></clipPath>
<rect x="151.5" y="758.5" width="131.00" height="131.00" fill="#fff" stroke="#a6a6a6" stroke-width="0.9"/>
<path d="M163.50 822.50 H275.50 M163.50 818.50 V826.50 M275.50 818.50 V826.50 M219.50 763.50 V880.50 M215.50 763.50 H223.50 M215.50 880.50 H223.50" fill="none" stroke="#2a2a2a" stroke-width="1.0"/>
<line x1="171.50" y1="880.50" x2="198.40" y2="880.50" stroke="#111" stroke-width="1.3" />
<text x="184.40" y="876.10" font-size="7.6" text-anchor="middle" fill="#111" stroke="#111" stroke-width="0.22" font-weight="normal" >4 mm</text>
<g clip-path="url(#clip11)"><path d="M267.4 758.0 L267.4 759.2 L267.8 760.8 L268.3 762.7 L267.9 764.8 L268.4 766.9 L269.1 768.7 L268.8 770.4 L268.5 772.2 L268.9 773.8 L269.5 775.4 L269.3 777.0 L268.6 778.4 L268.1 780.1 L267.6 782.0 L266.4 783.5 L264.9 784.8 L263.8 786.3 L262.8 787.9 L261.4 789.0 L259.9 790.1 L258.8 791.7 L257.7 793.3 L256.6 794.5 L255.5 795.9 L254.7 797.6 L253.8 799.2 L252.7 800.6 L251.6 801.9 L250.8 803.4 L249.9 804.8 L248.9 806.1 L247.8 807.3 L246.9 808.6 L245.9 809.9 L244.5 811.1 L242.9 812.2 L241.4 813.3 L239.8 814.4 L238.0 815.2 L236.4 816.0 L234.9 816.9 L233.2 817.7 L231.5 818.3 L229.8 818.9 L228.3 819.7 L226.3 820.4 L224.2 820.5 L222.3 821.0 L220.7 821.6 L219.5 821.7" fill="none" stroke="#223f8e" stroke-width="0.95" stroke-linecap="round" stroke-linejoin="round"/>
<path d="M265.8 764.8 L265.1 765.7 L264.4 767.0 L263.2 768.4 L261.8 769.7 L260.9 771.5 L259.8 773.0 L258.3 773.7 L256.8 774.5 L255.7 775.7 L254.5 776.9 L253.0 777.6 L251.6 778.3 L250.1 779.5 L248.8 780.8 L247.1 781.5 L245.4 782.3 L243.9 783.4 L242.7 784.4 L241.2 785.1 L239.7 785.9 L238.4 786.9 L237.3 788.1 L236.1 789.3 L235.0 790.6 L234.2 792.2 L233.5 793.9 L232.7 795.6 L231.8 797.3 L231.2 799.0 L230.7 800.6 L230.0 802.1 L229.3 803.6 L228.9 805.2 L228.5 806.8 L227.9 808.4 L227.2 809.8 L226.5 811.5 L225.9 813.4 L225.1 815.1 L224.1 816.6 L223.3 818.0 L222.8 819.2 L220.8 820.9 L219.3 821.3" fill="none" stroke="#3563c4" stroke-width="0.85" stroke-linecap="round" stroke-linejoin="round"/>
<path d="M258.6 762.5 L258.7 763.8 L259.2 765.7 L258.9 767.8 L258.7 769.7 L259.0 771.6 L258.2 773.4 L256.6 774.7 L255.8 775.9 L254.6 777.5 L252.9 778.1 L251.6 778.2" fill="none" stroke="#3563c4" stroke-width="0.8" stroke-linecap="round" stroke-linejoin="round"/>
<path d="M219.4 821.6 L220.3 820.8 L221.5 819.6 L222.9 818.2 L224.5 817.0 L225.8 815.5 L226.6 814.1 L227.4 812.5 L228.1 810.9 L228.4 809.2 L228.3 807.5 L228.1 805.9 L227.9 804.3 L227.3 802.6 L226.3 801.0 L225.3 799.5 L224.4 798.0 L223.3 796.8 L221.8 795.8 L220.4 794.8 L219.0 793.8 L217.5 793.1 L216.0 792.7 L214.4 792.3 L212.9 791.7 L211.3 791.2 L209.7 791.3 L208.0 791.4 L206.2 791.2 L204.4 791.1 L202.6 791.7 L200.9 792.4 L199.4 792.8 L197.7 793.3 L196.4 794.5 L195.1 795.7 L193.5 796.3 L191.9 796.8 L190.4 797.9 L189.1 799.2 L187.5 799.8 L185.9 800.4 L185.0 801.8 L184.7 803.5 L184.0 804.9 L183.0 806.2 L182.5 807.9 L182.8 809.9 L182.5 811.4 L181.5 812.9 L181.1 814.7 L181.7 816.5 L181.7 818.3 L181.0 820.0 L180.8 821.5 L181.6 823.6 L181.6 825.4 L180.8 827.1 L180.8 828.9 L181.7 830.6 L182.1 832.2 L181.8 834.1 L182.3 835.8 L183.7 837.2 L184.6 838.8 L184.9 840.6 L186.2 842.0 L188.2 842.8 L189.5 844.3 L190.4 846.0 L191.6 847.0 L192.3 848.3 L191.9 849.7 L190.6 850.7 L189.3 851.9 L188.2 853.6 L186.7 854.9 L185.1 856.0 L183.9 857.3 L182.8 858.9 L181.3 860.0 L179.7 861.0 L178.5 862.4 L177.5 864.0 L176.4 865.2 L175.3 866.4 L174.5 867.9 L173.9 869.5 L173.0 870.9 L172.1 872.2 L171.5 873.7 L170.9 875.4 L170.3 877.0 L169.7 878.6 L169.2 880.3 L169.0 881.9 L168.6 883.5 L168.1 885.3 L167.8 887.3 L167.7 889.1 L167.5 890.6 L167.2 891.7" fill="none" stroke="#2a52b0" stroke-width="0.9" stroke-linecap="round" stroke-linejoin="round"/>
<path d="M219.4 821.6 L218.7 820.9 L217.7 820.2 L216.6 819.1 L215.5 817.8 L213.9 816.9 L212.3 815.8 L211.3 814.2 L210.1 812.8 L208.7 811.8 L207.4 810.7 L206.4 809.2 L205.3 807.9 L203.8 806.9 L202.5 805.7 L201.6 804.2 L200.7 802.7 L199.6 801.5 L198.8 800.1 L198.2 798.4 L197.7 796.6 L197.0 794.8 L196.4 793.0 L196.3 791.1 L196.1 789.4 L195.8 787.8 L195.8 786.3 L196.4 784.4 L197.3 782.8 L198.3 781.3 L199.5 779.9 L201.0 778.6 L202.1 777.3 L203.2 775.8 L204.5 774.5 L206.0 773.3 L207.4 771.9 L208.5 770.5 L209.9 769.4 L211.5 768.5 L212.7 767.3 L213.8 766.0 L215.2 765.0 L216.7 764.1 L217.9 762.7 L219.0 761.0 L220.6 759.9 L222.2 758.9 L223.1 757.7 L223.7 756.8" fill="none" stroke="#a4bdee" stroke-width="0.75" stroke-linecap="round" stroke-linejoin="round"/>
<path d="M219.4 821.6 L219.2 820.6 L218.9 819.3 L218.5 817.8 L218.0 816.1 L217.6 814.3 L217.1 812.5 L216.4 810.7 L215.4 809.2 L214.5 807.9 L213.4 806.7 L211.9 805.7 L210.2 805.0 L208.5 804.1 L206.8 803.0 L205.1 802.4 L203.3 801.8 L202.0 800.8 L201.0 799.8 L199.4 798.5 L198.0 797.2 L197.5 795.5 L197.4 793.9 L196.9 792.2 L196.5 790.7 L196.8 789.0 L197.6 787.3 L197.9 785.6 L198.0 783.8 L198.8 782.4 L200.1 781.3 L201.1 780.0 L201.9 778.3 L203.3 777.1 L205.2 776.7 L206.8 775.8 L208.0 774.5 L209.7 773.9 L211.7 773.9 L213.4 773.2 L214.9 771.9 L216.7 771.7 L218.5 772.1 L220.2 771.7 L222.0 771.0 L223.8 771.6 L225.4 772.7 L227.1 772.9 L228.8 772.8 L230.3 773.5 L231.8 775.0 L233.7 775.5 L235.7 775.9 L236.9 777.3 L237.8 778.7 L239.4 779.8 L240.8 781.1 L241.0 782.9 L240.5 784.3 L240.1 785.7 L239.4 787.6 L237.6 788.8 L235.8 789.9 L234.6 791.4 L232.9 792.5 L230.9 792.9 L229.3 793.5 L228.3 794.3" fill="none" stroke="#7198e2" stroke-width="0.75" stroke-linecap="round" stroke-linejoin="round"/>
<path d="M219.4 821.6 L219.0 820.5 L218.3 819.1 L218.0 817.3 L217.2 815.4 L215.6 813.9 L215.3 811.9 L215.3 810.1 L214.4 808.5 L213.4 806.9 L213.5 805.0 L213.6 803.1 L212.7 801.6 L211.8 800.1 L211.9 798.3 L212.2 796.6 L211.7 795.0 L211.0 793.4 L211.3 791.8 L212.1 790.3 L212.3 788.4 L212.1 786.3 L212.9 784.5 L214.0 783.0 L214.4 781.6 L215.5 779.5 L217.5 778.9 L219.4 778.7 L220.9 778.6 L222.5 779.2 L223.8 780.5 L225.1 781.7 L226.5 782.5 L227.9 783.5 L229.1 784.9 L230.5 786.0 L232.2 786.3 L233.6 786.2 L235.3 786.2 L237.0 786.1 L238.7 785.5 L240.3 784.8 L241.9 784.3 L243.7 783.7 L245.3 782.7 L246.8 781.5 L248.4 780.5 L249.8 779.6 L251.4 778.2 L252.9 777.0 L254.4 775.9 L255.7 774.7 L256.6 773.0 L257.5 771.3 L258.4 769.9 L258.9 768.8" fill="none" stroke="#4a78d4" stroke-width="0.8" stroke-linecap="round" stroke-linejoin="round"/>
<path d="M219.4 821.6 L219.7 820.6 L220.0 819.4 L220.6 818.0 L221.1 816.4 L221.2 814.6 L221.7 812.8 L222.6 811.0 L222.8 809.2 L222.6 807.4 L223.1 805.9 L223.9 804.1 L224.0 802.4 L223.7 800.6 L224.1 798.9 L224.8 797.3 L224.8 795.6 L224.1 793.9 L224.0 792.2 L224.5 790.4 L224.2 788.7 L223.2 787.0 L223.0 785.2 L223.6 783.3 L223.3 781.6 L222.5 780.1 L222.5 778.5 L223.5 776.7 L223.7 774.9 L223.2 773.0 L223.7 771.4 L224.8 770.1 L225.6 768.9 L226.0 766.7 L227.3 765.3 L229.3 764.6 L230.6 763.2 L231.2 761.1 L232.7 759.6 L234.2 758.3 L234.6 757.1" fill="none" stroke="#c4d4f4" stroke-width="0.75" stroke-linecap="round" stroke-linejoin="round"/>
<path d="M219.4 821.6 L220.4 821.2 L221.8 820.8 L223.4 820.6 L225.3 820.3 L227.0 819.3 L228.8 818.7 L230.7 818.5 L232.2 817.8 L233.6 816.6 L235.3 815.9 L237.1 815.7 L238.6 814.9 L239.7 813.6 L240.8 812.6 L242.1 811.9 L243.3 810.6 L243.3 808.8 L243.0 807.1 L243.4 805.4 L243.9 803.7 L243.4 802.0 L242.7 800.4 L242.9 798.6 L243.2 796.7 L242.4 795.1 L241.3 793.7 L241.1 792.3 L240.9 790.1 L239.5 788.6 L238.1 787.6 L237.5 786.6" fill="none" stroke="#3563c4" stroke-width="0.8" stroke-linecap="round" stroke-linejoin="round"/>
<path d="M219.4 821.6 L220.0 820.7 L220.7 819.7 L221.5 818.5 L222.3 817.1 L223.3 815.7 L224.5 814.2 L225.5 812.6 L226.3 810.9 L227.3 809.4 L228.3 807.9 L229.1 806.4 L229.8 804.7 L230.7 803.2 L231.8 801.7 L232.6 800.1 L233.2 798.4 L234.2 796.9 L235.1 795.4 L235.6 793.7 L235.8 792.1 L236.6 790.3 L237.3 788.6 L237.3 786.6 L237.4 784.8 L238.1 783.2 L238.8 781.6 L238.7 780.0 L238.8 778.4 L239.9 776.6 L240.9 775.1 L241.3 773.4 L241.6 771.8 L242.7 770.6 L244.2 769.1 L244.7 767.1 L245.3 765.4 L246.6 763.9 L247.1 762.0 L246.1 760.0 L245.7 758.3 L246.0 757.0" fill="none" stroke="#a4bdee" stroke-width="0.75" stroke-linecap="round" stroke-linejoin="round"/>
<path d="M219.4 821.8 L218.7 822.6 L217.7 823.6 L216.5 824.7 L215.3 826.1 L213.9 827.4 L212.3 828.7 L211.1 830.2 L209.9 831.5 L208.7 832.6 L207.1 834.0 L205.9 835.5 L204.6 836.8 L203.2 837.9 L201.9 839.1 L200.9 840.5 L199.8 841.8 L198.5 843.0 L197.4 844.2 L196.6 845.7 L195.9 847.1 L195.0 848.3 L194.1 849.8 L193.6 851.5 L193.4 853.2 L193.0 854.6 L192.8 856.1 L193.4 857.6 L194.7 858.7 L196.0 859.9 L197.2 861.4 L198.8 862.2 L200.4 862.2 L202.0 862.4 L203.5 863.1 L205.3 863.4 L207.0 862.9 L208.6 862.5 L210.3 862.7 L212.1 862.6 L213.5 861.4 L214.9 860.2 L216.8 859.9 L218.6 859.4 L220.0 858.2 L221.5 857.2 L223.4 857.4 L225.3 857.2 L226.8 856.0 L228.5 855.3 L230.3 855.5 L232.3 854.9 L233.9 853.2 L236.0 852.7 L237.9 852.4 L239.3 851.4 L240.2 850.5" fill="none" stroke="#3563c4" stroke-width="0.85" stroke-linecap="round" stroke-linejoin="round"/>
<path d="M219.4 821.8 L218.5 822.5 L217.1 823.4 L215.3 823.9 L213.6 825.1 L212.3 827.0 L210.2 827.6 L208.4 828.4 L207.5 829.9 L206.5 831.3 L204.9 832.2 L203.5 833.2 L202.8 834.8 L202.2 836.5 L200.9 837.6 L199.4 838.7 L198.6 840.3 L197.8 841.9 L196.3 843.0 L194.8 844.3 L194.1 846.3 L193.5 847.7 L192.4 849.0 L191.4 850.4 L191.0 852.2 L190.6 853.9 L189.6 855.4 L188.6 856.9 L188.1 858.6 L187.4 860.1 L186.2 861.5 L185.0 863.0 L184.2 864.6 L183.3 866.2 L182.1 867.5 L181.1 868.9 L180.3 870.4 L179.5 871.8 L178.4 873.2 L177.4 874.6 L176.6 876.0 L175.8 877.4 L174.9 878.7 L174.0 880.0 L173.4 881.5 L172.9 883.3 L172.2 885.3 L171.5 887.2 L171.3 889.0 L171.0 890.6 L170.6 891.7" fill="none" stroke="#4a78d4" stroke-width="0.8" stroke-linecap="round" stroke-linejoin="round"/>
<path d="M219.4 821.8 L220.2 822.7 L221.3 823.8 L222.6 825.1 L223.9 826.7 L225.4 828.1 L226.9 829.4 L228.2 830.7 L229.5 831.8 L231.0 832.6 L232.4 833.3 L233.8 834.1 L235.2 835.0 L236.6 835.7 L238.1 836.4 L239.5 837.2 L240.9 838.2 L242.3 839.0 L243.8 839.6 L245.3 840.3 L246.5 841.4 L247.7 842.5 L249.0 843.6 L250.3 844.7 L251.2 846.3 L252.1 847.9 L253.2 849.2 L254.1 850.6 L254.6 852.2 L255.0 853.9 L255.7 855.4 L256.5 856.9 L256.6 858.5 L256.4 860.2 L256.7 862.0 L257.3 863.5 L257.1 865.2 L256.4 866.9 L256.1 868.7 L256.4 870.5 L256.1 872.1 L255.2 873.6 L254.8 875.3 L255.1 877.2 L254.8 878.9 L253.7 880.3 L253.1 881.9 L253.2 883.6 L252.7 885.5 L251.1 887.1 L250.4 888.9 L250.4 890.7 L250.1 891.8" fill="none" stroke="#223f8e" stroke-width="0.95" stroke-linecap="round" stroke-linejoin="round"/>
<path d="M219.4 821.8 L219.6 822.8 L219.8 824.1 L219.9 825.6 L219.8 827.4 L220.2 829.2 L220.7 831.1 L220.7 833.0 L220.8 835.0 L221.5 836.7 L222.0 838.4 L221.9 840.1 L222.0 841.8 L222.7 843.4 L223.3 844.9 L223.3 846.6 L223.3 848.3 L224.0 849.8 L224.9 851.2 L225.2 852.7 L225.1 854.2 L225.6 856.1 L226.7 857.8 L226.8 859.5 L226.4 861.4 L226.8 863.0 L227.9 864.3 L228.5 865.8 L228.6 867.8 L229.5 869.5 L231.3 870.6 L232.3 871.9 L232.9 873.5 L234.0 874.4 L235.5 874.2 L236.9 873.6 L238.5 873.6 L240.5 873.6 L242.0 872.3 L243.1 871.2 L244.7 870.6 L246.5 870.2 L247.8 869.0 L248.8 867.4 L250.3 866.6 L251.9 866.0 L253.2 864.3 L254.0 862.3 L255.6 860.8 L256.6 859.4 L256.9 858.1" fill="none" stroke="#2f5cc0" stroke-width="0.85" stroke-linecap="round" stroke-linejoin="round"/>
<path d="M236.1 873.7 L237.0 874.7 L238.6 875.9 L239.7 877.5 L239.9 879.4 L241.0 881.2 L241.7 883.4 L241.2 885.1 L241.1 887.0 L241.9 888.9 L242.1 890.5 L241.7 891.7" fill="none" stroke="#2f5cc0" stroke-width="0.85" stroke-linecap="round" stroke-linejoin="round"/>
<path d="M219.4 821.8 L220.4 822.0 L221.7 822.4 L223.1 822.9 L224.8 823.1 L226.7 823.3 L228.5 824.1 L230.3 824.6 L232.2 824.8 L233.8 824.9 L235.6 825.3 L237.4 825.5 L239.4 825.5 L241.2 825.6 L243.1 826.0 L244.8 826.3 L246.4 826.6 L247.8 827.1 L249.5 828.2 L251.1 829.4 L252.5 830.6 L253.6 832.0 L254.6 833.4 L255.6 834.6 L256.9 836.2 L257.5 838.0 L258.2 839.6 L259.5 840.5 L260.9 840.6 L262.4 840.6 L264.2 840.6 L266.0 840.3 L267.7 839.6 L269.3 839.3 L271.0 839.2 L272.6 838.9 L274.0 838.2 L275.5 837.6 L277.1 837.5 L279.0 837.3 L280.8 836.2 L282.6 835.4 L284.3 835.2 L285.5 835.0" fill="none" stroke="#2f5cc0" stroke-width="0.85" stroke-linecap="round" stroke-linejoin="round"/>
<path d="M219.4 821.8 L220.4 822.0 L221.7 822.1 L223.2 821.8 L224.9 821.7 L226.7 822.4 L228.6 822.5 L230.6 821.9 L232.5 822.4 L234.4 823.2 L236.3 822.9 L238.0 822.6 L239.7 823.0 L241.4 823.4 L243.1 823.1 L244.8 822.7 L246.5 823.0 L248.2 823.4 L249.8 823.4 L251.4 823.2 L252.9 823.4 L254.3 823.8 L255.6 824.1 L257.8 824.1 L259.8 824.3 L261.5 824.8 L263.0 825.3 L264.4 825.8 L265.6 826.6 L266.4 827.9 L267.0 829.6 L267.6 831.3 L268.1 833.1 L268.0 834.7 L267.6 836.1 L266.9 837.5 L265.7 839.0 L264.0 840.1 L262.2 840.9 L260.5 841.4 L258.8 841.5 L256.8 840.8 L255.0 840.0 L253.3 839.4 L252.1 838.9" fill="none" stroke="#a4bdee" stroke-width="0.75" stroke-linecap="round" stroke-linejoin="round"/>
<path d="M219.4 821.8 L220.3 822.2 L221.4 822.7 L222.6 823.4 L224.1 823.9 L225.7 824.4 L227.2 825.4 L228.8 826.4 L230.7 827.0 L232.5 827.7 L234.2 828.7 L236.0 829.5 L237.9 830.0 L239.5 830.8 L241.1 831.6 L242.6 832.1 L243.9 832.5 L245.9 833.2 L247.6 833.8 L249.3 834.1 L251.0 834.2 L252.5 834.4 L254.0 834.8 L255.4 835.1 L256.8 835.3 L258.2 835.7 L259.6 836.4 L260.9 837.4 L262.2 838.4 L263.7 839.4 L264.9 840.6 L266.0 842.0 L267.2 843.3 L268.6 844.4 L269.6 845.7 L270.4 847.1 L271.2 848.3 L272.5 849.8 L273.5 851.5 L273.7 853.5 L274.2 855.2 L275.0 856.8 L275.2 858.4 L274.9 860.0 L274.7 861.7 L274.9 863.7 L274.3 865.5 L272.9 866.9 L272.1 868.4 L271.6 870.1 L269.7 871.4 L267.3 871.8 L265.7 873.1 L264.6 874.0" fill="none" stroke="#c4d4f4" stroke-width="0.75" stroke-linecap="round" stroke-linejoin="round"/>
<path d="M219.4 821.8 L220.0 822.8 L220.7 823.9 L221.8 825.2 L222.7 826.8 L223.4 828.7 L225.0 830.0 L226.5 831.4 L227.2 833.2 L228.0 834.7 L229.6 835.8 L230.9 837.0 L231.4 838.8 L232.4 840.3 L234.0 841.0 L235.5 841.9 L236.5 843.4 L237.8 844.7 L239.5 845.1 L241.2 845.5 L242.3 846.9 L243.5 848.3 L245.3 848.7 L247.0 849.1 L248.4 850.3 L249.9 851.4 L251.7 851.3 L253.5 851.1 L255.2 851.8 L256.9 852.6 L258.8 852.2 L260.6 851.9 L262.4 852.6 L264.1 853.0 L265.8 852.4 L267.3 851.9 L269.1 851.9 L270.9 851.6 L272.3 850.4 L273.6 849.2 L275.2 848.5 L276.8 848.0 L277.9 847.0 L279.0 846.1 L281.2 845.1 L283.2 844.3 L284.4 843.1 L285.3 842.3" fill="none" stroke="#a4bdee" stroke-width="0.75" stroke-linecap="round" stroke-linejoin="round"/>
<path d="M148.4 824.0 L149.4 823.7 L150.8 823.1 L152.3 822.3 L154.1 821.7 L156.1 821.5 L157.8 821.0 L159.4 820.5 L161.0 820.3 L162.7 820.2 L164.4 820.0 L166.1 819.6 L167.9 819.6 L169.6 819.9 L171.2 820.3 L173.0 820.7 L174.7 821.4 L176.3 822.3 L178.0 823.0 L179.7 823.4 L181.3 823.8 L183.1 824.0 L185.0 823.9 L186.7 823.4 L188.5 823.2 L190.3 823.1 L192.1 822.9 L193.8 822.5 L195.4 822.5 L197.1 822.6 L198.8 822.4 L200.7 822.0 L202.8 822.0 L204.3 822.2 L206.0 822.0 L207.9 821.5 L209.8 821.8 L211.8 822.2 L213.7 821.8 L215.5 821.6 L217.1 822.1 L218.4 822.4 L219.4 822.2" fill="none" stroke="#3563c4" stroke-width="0.85" stroke-linecap="round" stroke-linejoin="round"/>
<path d="M219.4 821.8 L218.5 821.6 L217.1 821.3 L215.6 820.7 L213.9 820.2 L212.0 819.9 L210.2 819.4 L208.4 818.9 L206.7 818.8 L205.1 819.0 L203.3 819.0 L201.5 819.0 L199.7 819.4 L198.0 819.8 L196.5 820.1 L195.1 820.3 L194.0 820.8 L192.4 822.5 L191.9 824.6 L191.9 826.8 L192.5 828.5 L193.5 830.2 L194.5 832.1 L195.9 833.6 L197.4 834.5 L198.8 835.5 L200.3 836.6 L202.1 837.2 L203.8 837.4 L205.5 837.6 L207.4 837.9 L209.3 837.5 L210.9 836.7 L212.5 836.3 L214.5 835.9 L216.0 834.5 L217.1 833.1 L218.7 831.7 L219.4 830.3 L219.2 828.4 L219.1 826.4 L219.6 824.6 L219.8 823.0 L219.4 821.8" fill="none" stroke="#2f5cc0" stroke-width="0.85" stroke-linecap="round" stroke-linejoin="round"/>
<path d="M219.4 821.8 L219.2 822.8 L218.8 823.8 L218.2 825.1 L218.3 826.7 L218.4 828.5 L217.5 830.1 L216.6 831.7 L216.6 833.7 L216.4 835.5 L215.2 837.1 L214.4 838.7 L214.5 840.4 L214.4 842.2 L213.3 843.8 L212.6 845.4 L212.6 847.3 L212.2 849.1 L211.1 850.6 L210.3 852.2 L210.1 853.9 L209.8 855.4 L209.0 856.7 L208.3 857.9 L208.1 860.5 L208.1 862.6 L207.6 864.3 L207.2 865.9 L206.9 867.5 L205.9 868.9 L204.4 869.7 L202.8 870.4 L201.4 871.6 L199.9 872.8 L198.6 873.8 L197.4 874.9 L196.4 876.3 L195.2 877.7 L193.6 879.0 L192.0 880.5 L191.0 881.6 L189.7 882.8 L188.1 883.9 L186.7 885.2 L185.3 886.6 L183.7 887.9 L182.3 889.0 L181.1 890.1 L180.2 891.1 L179.5 891.8" fill="none" stroke="#4a78d4" stroke-width="0.8" stroke-linecap="round" stroke-linejoin="round"/>
<path d="M219.4 821.6 L218.4 821.1 L217.1 820.5 L215.4 819.9 L213.5 819.5 L211.8 818.4 L210.3 817.3 L208.7 816.6 L207.1 815.8 L205.8 814.5 L204.6 813.3 L203.2 812.3 L202.0 811.2 L201.2 809.9 L200.4 808.1 L199.6 806.4 L199.0 804.5 L198.9 802.7 L199.1 801.0 L199.3 799.0 L200.2 797.1 L201.5 795.6 L202.8 794.2 L204.2 793.3 L206.0 792.9 L207.9 792.7 L209.5 792.4 L210.6 792.1" fill="none" stroke="#3563c4" stroke-width="0.8" stroke-linecap="round" stroke-linejoin="round"/>
<path d="M219.4 821.8 L220.2 822.6 L221.3 823.4 L222.6 824.3 L223.8 825.7 L225.0 827.1 L226.8 828.1 L228.3 829.4 L229.4 831.0 L230.8 832.0 L232.2 832.5 L234.0 833.7 L235.6 835.0 L237.4 835.6 L239.0 835.9 L240.5 836.3 L242.0 836.6 L243.5 836.2 L245.0 835.3 L246.5 834.3 L248.1 833.2 L249.2 831.9 L249.7 830.6 L250.0 829.1 L250.1 827.5 L249.7 825.7 L248.8 824.2 L247.7 822.9 L246.6 821.9 L245.2 820.9 L243.4 820.3 L241.6 819.8 L239.8 819.2 L238.0 818.8 L236.3 818.9 L234.4 819.1 L232.5 819.1 L230.8 819.4 L229.3 819.8 L228.3 820.1" fill="none" stroke="#7198e2" stroke-width="0.75" stroke-linecap="round" stroke-linejoin="round"/>
<path d="M219.4 821.8 L220.1 822.6 L221.0 823.4 L222.0 824.4 L223.0 825.7 L224.0 827.1 L225.4 828.4 L226.9 829.7 L228.1 831.3 L229.4 832.7 L231.1 833.9 L232.4 835.2 L233.5 836.6 L234.8 837.7 L236.2 838.4 L237.7 839.4 L239.1 840.8 L240.8 841.5 L242.6 841.7 L244.2 842.3 L245.6 843.3 L247.2 843.7 L248.8 843.5 L250.3 843.6 L251.7 844.3 L253.5 845.0 L255.3 844.6 L257.1 844.2 L258.9 844.6 L260.6 844.6 L262.1 843.5 L263.6 842.5 L265.4 842.3 L267.0 841.9 L268.1 840.5 L269.2 839.0 L271.0 838.3 L272.8 837.5 L273.6 835.8 L274.6 834.3 L276.1 833.6 L277.4 833.1 L279.0 831.1 L280.8 829.9 L282.9 829.9 L284.4 829.4 L285.3 828.6" fill="none" stroke="#c4d4f4" stroke-width="0.75" stroke-linecap="round" stroke-linejoin="round"/>
<path d="M219.4 821.8 L218.5 822.4 L217.0 823.0 L215.4 823.8 L213.7 824.8 L212.0 825.6 L210.5 826.6 L209.4 827.8 L208.3 829.2 L206.9 830.4 L205.8 831.6 L205.2 833.1 L205.1 834.6 L204.9 836.2 L204.9 838.0 L205.6 839.9 L206.8 841.5 L207.5 843.2 L208.4 844.6 L210.0 845.3 L211.7 845.5 L213.4 846.2 L215.1 846.9 L216.9 846.6 L218.3 845.9 L220.0 845.5 L222.0 845.0 L223.2 843.2 L224.2 841.4 L225.8 840.2 L226.6 838.6 L226.1 836.8 L225.7 835.1 L226.0 833.0 L225.5 831.2 L224.4 829.9 L223.9 828.8" fill="none" stroke="#4a78d4" stroke-width="0.8" stroke-linecap="round" stroke-linejoin="round"/><path d="M219.5 822.5 L216.9 822.5 L214.3 822.8 L211.8 823.4 L209.3 824.0 L206.9 825.0 L204.6 826.3 L202.5 827.9 L200.8 829.8 L198.7 831.4 L196.6 832.9 L195.0 834.9 L194.0 837.3 L193.6 839.9 L193.7 842.5 L194.2 845.0 L194.9 847.6 L196.3 849.7 L197.9 851.8 L199.4 853.9 L200.8 856.1 L202.3 858.2 L203.9 860.3 L205.7 862.2 L207.6 864.0 L209.8 865.2 L212.3 866.0 L214.9 866.5 L217.4 867.1 L220.0 867.4 L222.5 867.0 L225.1 866.4" fill="none" stroke="#5a86dc" stroke-width="0.60" stroke-linejoin="round" stroke-linecap="round"/>
<path d="M219.5 822.5 L220.9 820.3 L222.2 818.0 L223.1 815.6 L223.9 813.1 L224.7 810.7 L225.4 808.2 L226.6 805.8 L227.7 803.5 L229.2 801.3 L231.0 799.4 L233.0 797.9 L235.4 796.7 L237.9 796.1 L240.4 795.6 L243.0 795.2 L245.6 795.0 L248.2 795.3 L250.8 795.7 L253.3 796.3 L255.6 797.5 L257.8 798.9 L259.7 800.6 L261.8 802.3 L263.7 803.9 L265.5 805.8 L266.9 808.0 L268.3 810.2 L269.9 812.3 L271.5 814.3 L273.6 815.9 L275.1 818.0 L276.6 820.2 L278.1 822.3 L279.7 824.3" fill="none" stroke="#7fa2e6" stroke-width="0.60" stroke-linejoin="round" stroke-linecap="round"/>
<path d="M219.5 822.5 L221.5 824.2 L222.9 826.4 L224.2 828.6 L225.6 830.8 L226.8 833.1 L227.5 835.6 L227.6 838.2 L227.7 840.8 L227.6 843.4 L227.4 846.0 L226.9 848.6 L226.5 851.1 L226.6 853.7 L226.9 856.3 L227.3 858.9 L228.1 861.4 L228.9 863.8 L230.1 866.2 L231.4 868.4 L232.8 870.6 L234.0 872.9 L235.5 875.0 L237.0 877.1 L238.5 879.2 L240.1 881.3 L241.3 883.6 L242.2 886.0 L243.1 888.5 L243.7 891.0 L244.1 893.6 L244.5 896.2 L245.2 898.7 L245.5 901.2" fill="none" stroke="#a4bdee" stroke-width="0.60" stroke-linejoin="round" stroke-linecap="round"/>
<path d="M219.5 822.5 L220.0 825.1 L220.4 827.6 L220.7 830.2 L220.7 832.8 L221.0 835.4 L221.6 837.9 L222.3 840.4 L222.9 843.0 L223.4 845.5 L223.2 848.1 L223.1 850.7 L223.1 853.3 L223.0 855.9 L222.5 858.5 L222.2 861.0 L221.4 863.5 L221.0 866.1 L220.7 868.7 L220.5 871.3 L220.2 873.8 L220.0 876.4 L219.3 878.9 L217.9 881.2 L216.0 882.9 L213.8 884.2 L211.3 884.9 L208.7 885.1 L206.1 884.8 L203.5 884.8" fill="none" stroke="#c4d4f4" stroke-width="0.60" stroke-linejoin="round" stroke-linecap="round"/>
<path d="M219.5 822.5 L221.2 820.5 L223.1 818.8 L225.0 816.9 L226.4 814.8 L228.2 812.9 L229.9 810.9 L231.1 808.6 L232.1 806.2 L233.1 803.8 L234.4 801.5 L235.6 799.3 L237.0 797.0 L237.9 794.6 L238.7 792.1 L239.2 789.6 L239.5 787.0 L239.7 784.4 L240.0 781.8 L240.1 779.2 L240.9 776.7 L241.8 774.3 L242.6 771.8 L243.9 769.6 L245.3 767.4 L246.7 765.2 L248.6 763.5 L250.6 761.8 L252.5 760.0 L254.6 758.5 L256.8 757.0 L259.0 755.6 L261.2 754.2 L263.6 753.3 L266.0 752.3 L268.3 751.2 L270.5 749.8 L272.7 748.3" fill="none" stroke="#5a86dc" stroke-width="0.60" stroke-linejoin="round" stroke-linecap="round"/>
<path d="M219.5 822.5 L221.1 824.5 L222.9 826.5 L224.2 828.7 L225.2 831.1 L226.0 833.6 L226.4 836.1 L225.9 838.7 L225.4 841.2 L224.9 843.8 L224.2 846.3 L223.0 848.6 L221.3 850.6 L219.6 852.5 L217.7 854.3 L215.6 855.8 L213.4 857.2 L211.0 858.1 L208.4 858.7 L205.8 859.0 L203.3 858.8 L200.7 858.2 L198.4 857.0 L196.3 855.5 L194.3 853.9 L192.6 851.9 L191.3 849.7 L190.2 847.3" fill="none" stroke="#7fa2e6" stroke-width="0.60" stroke-linejoin="round" stroke-linecap="round"/></g>
<text x="375.80" y="585.70" font-size="9.0" text-anchor="middle" fill="#111" stroke="#111" stroke-width="0.22" font-weight="normal" >cohesin<tspan font-size="6.0" dy="-2.9" dx="0.6" stroke-width="0.1">COH-1</tspan><tspan dy="2.9" dx="1.0"> cleavage</tspan></text>
<text x="375.80" y="596.90" font-size="9.0" text-anchor="middle" fill="#111" stroke="#111" stroke-width="0.22" font-weight="normal" >Fed</text>
<text x="375.80" y="910.80" font-size="9.0" text-anchor="middle" fill="#111" stroke="#111" stroke-width="0.22" font-weight="normal" >cohesin<tspan font-size="6.0" dy="-2.9" dx="0.6" stroke-width="0.1">COH-1</tspan><tspan dy="2.9" dx="1.0"> cleavage</tspan></text>
<text x="375.80" y="921.80" font-size="9.0" text-anchor="middle" fill="#111" stroke="#111" stroke-width="0.22" font-weight="normal" >Food-deprived</text>
<clipPath id="clip20"><rect x="307.5" y="622.5" width="132.00" height="131.00"/></clipPath>
<rect x="307.5" y="622.5" width="132.00" height="131.00" fill="#fff" stroke="#a6a6a6" stroke-width="0.9"/>
<path d="M320.50 686.50 H432.50 M320.50 682.50 V690.50 M432.50 682.50 V690.50 M376.50 628.50 V745.50 M372.50 628.50 H380.50 M372.50 745.50 H380.50" fill="none" stroke="#2a2a2a" stroke-width="1.0"/>
<line x1="329.30" y1="744.50" x2="356.40" y2="744.50" stroke="#111" stroke-width="1.3" />
<text x="342.00" y="740.70" font-size="7.6" text-anchor="middle" fill="#111" stroke="#111" stroke-width="0.22" font-weight="normal" >4 mm</text>
<g clip-path="url(#clip20)"><path d="M376.5 686.5 L375.5 686.6 L375.0 687.5 L375.0 688.5 L374.8 689.5 L375.8 689.5" fill="none" stroke="#ff3c3c" stroke-width="0.70" stroke-linejoin="round" stroke-linecap="round"/>
<path d="M376.5 686.5 L376.3 685.5 L376.4 684.5 L377.2 683.9 L378.0 683.3" fill="none" stroke="#ff7a7a" stroke-width="0.70" stroke-linejoin="round" stroke-linecap="round"/>
<path d="M376.5 686.5 L377.4 686.2 L378.4 685.9 L379.3 686.3 L380.2 686.8 L380.4 687.8 L380.4 688.8" fill="none" stroke="#f8b4a4" stroke-width="0.70" stroke-linejoin="round" stroke-linecap="round"/>
<path d="M376.5 686.5 L377.4 686.1 L378.4 685.9 L378.9 685.1 L379.8 684.5 L380.6 683.9 L381.5 683.5" fill="none" stroke="#c8642a" stroke-width="0.70" stroke-linejoin="round" stroke-linecap="round"/>
<path d="M376.5 686.5 L376.8 687.5 L375.8 687.2 L374.8 687.4 L374.1 686.8 L373.6 686.0 L374.2 685.2" fill="none" stroke="#e89a5a" stroke-width="0.70" stroke-linejoin="round" stroke-linecap="round"/>
<path d="M376.5 686.5 L377.5 686.3 L378.4 685.8 L378.7 684.9" fill="none" stroke="#fbd0c4" stroke-width="0.70" stroke-linejoin="round" stroke-linecap="round"/>
<path d="M376.5 686.5 L377.2 687.2 L378.2 687.0 L379.1 687.5 L379.4 688.4 L379.7 689.4" fill="none" stroke="#ff3c3c" stroke-width="0.70" stroke-linejoin="round" stroke-linecap="round"/>
<path d="M376.5 686.5 L375.9 687.3 L375.4 688.2 L374.8 689.0 L374.7 690.0 L375.7 690.0" fill="none" stroke="#ff7a7a" stroke-width="0.70" stroke-linejoin="round" stroke-linecap="round"/>
<path d="M376.5 686.5 L375.6 686.1 L374.6 686.1 L373.6 685.8 L373.1 686.6 L373.9 687.3" fill="none" stroke="#f8b4a4" stroke-width="0.70" stroke-linejoin="round" stroke-linecap="round"/>
<path d="M376.5 686.5 L377.3 687.1 L378.2 687.4 L379.2 687.7 L379.9 688.4 L380.6 689.1 L381.6 689.0" fill="none" stroke="#c8642a" stroke-width="0.70" stroke-linejoin="round" stroke-linecap="round"/>
<path d="M376.5 686.5 L375.5 686.2 L374.7 686.7 L373.7 686.8 L373.3 685.9 L372.9 685.0 L372.0 685.4" fill="none" stroke="#e89a5a" stroke-width="0.70" stroke-linejoin="round" stroke-linecap="round"/>
<path d="M376.5 686.5 L376.8 687.4 L376.7 688.4 L376.9 689.4 L377.4 690.3 L378.3 690.5 L379.0 689.8" fill="none" stroke="#fbd0c4" stroke-width="0.70" stroke-linejoin="round" stroke-linecap="round"/>
<path d="M376.5 686.5 L375.6 686.9 L374.8 687.5 L374.2 688.3 L375.0 688.9" fill="none" stroke="#ff3c3c" stroke-width="0.70" stroke-linejoin="round" stroke-linecap="round"/>
<path d="M376.5 686.5 L375.5 686.3 L375.4 687.3 L376.3 687.6 L376.5 686.7 L376.4 685.7 L376.1 684.7" fill="none" stroke="#ff7a7a" stroke-width="0.70" stroke-linejoin="round" stroke-linecap="round"/>
<path d="M376.5 686.5 L376.1 687.4 L376.4 688.4 L377.3 687.9 L377.8 687.0" fill="none" stroke="#f8b4a4" stroke-width="0.70" stroke-linejoin="round" stroke-linecap="round"/>
<path d="M376.5 686.5 L375.5 686.3 L375.0 685.4 L376.0 685.2" fill="none" stroke="#c8642a" stroke-width="0.70" stroke-linejoin="round" stroke-linecap="round"/>
<path d="M376.5 686.5 L376.4 685.5 L376.2 684.5 L375.8 683.6 L374.8 683.6 L373.9 684.1 L374.5 684.9" fill="none" stroke="#e89a5a" stroke-width="0.70" stroke-linejoin="round" stroke-linecap="round"/>
<path d="M376.5 686.5 L376.5 687.5 L377.4 687.8 L378.4 687.6 L379.1 686.9 L378.7 685.9" fill="none" stroke="#fbd0c4" stroke-width="0.70" stroke-linejoin="round" stroke-linecap="round"/>
<path d="M376.5 686.5 L376.5 687.5 L376.2 688.4 L376.3 689.4 L377.1 688.9" fill="none" stroke="#ff3c3c" stroke-width="0.70" stroke-linejoin="round" stroke-linecap="round"/>
<path d="M376.5 686.5 L377.1 685.7 L377.6 684.8 L378.4 684.3 L379.2 685.0 L378.2 685.0 L378.7 684.2" fill="none" stroke="#ff7a7a" stroke-width="0.70" stroke-linejoin="round" stroke-linecap="round"/></g>
<path d="M376.5 686.5 l3 4 l4 2.5 l3.5 0.3 M376.5 686.5 l2 5 l0.5 4" fill="none" stroke="#f01010" stroke-width="0.7"/>
<path d="M376.5 686.5 c-3 -3 -8 -5 -8.5 -8 c0 -3 4 -6 8 -9" fill="none" stroke="#ff8a8a" stroke-width="0.6"/>
<clipPath id="iclip2"><rect x="376.5" y="622.5" width="56.00" height="56.00"/></clipPath>
<rect x="376.5" y="622.5" width="56.00" height="56.00" fill="none" stroke="#8e8e8e" stroke-width="0.9"/>
<path d="M381.9 649.5 H429.8 M405.5 625.0 V674.5" stroke="#2a2a2a" stroke-width="1.0" fill="none"/>
<g clip-path="url(#iclip2)"><path d="M405.5 649.5 L408.3 649.3 L411.1 648.9 L413.9 648.7 L416.6 648.0 L419.3 647.4 L422.0 646.6 L424.7 645.9 L427.5 645.7" fill="none" stroke="#d40000" stroke-width="0.66" stroke-linejoin="round" stroke-linecap="round"/>
<path d="M405.5 649.5 L403.4 651.4 L401.4 653.3 L399.2 655.0 L396.9 656.7 L394.7 658.3 L392.2 659.7 L389.7 660.8 L387.0 661.6 L384.2 662.1 L381.4 662.4" fill="none" stroke="#f01010" stroke-width="0.80" stroke-linejoin="round" stroke-linecap="round"/>
<path d="M405.5 649.5 L405.9 652.3 L405.7 655.1 L404.6 657.6 L403.3 660.1 L401.9 662.6" fill="none" stroke="#ff3c3c" stroke-width="0.88" stroke-linejoin="round" stroke-linecap="round"/>
<path d="M405.5 649.5 L403.1 648.0 L400.7 646.6 L398.0 646.0 L395.2 646.1 L392.6 647.0 L390.1 648.4 L388.3 650.5" fill="none" stroke="#ff7a7a" stroke-width="0.84" stroke-linejoin="round" stroke-linecap="round"/>
<path d="M405.5 649.5 L405.0 652.2 L405.4 655.0 L405.9 657.8 L406.7 660.4 L408.1 662.9 L410.5 664.3 L413.2 665.3 L415.9 666.0" fill="none" stroke="#f8b4a4" stroke-width="0.93" stroke-linejoin="round" stroke-linecap="round"/>
<path d="M405.5 649.5 L407.8 651.1 L409.6 653.2 L411.0 655.6 L412.8 657.8 L414.2 660.2" fill="none" stroke="#c8642a" stroke-width="0.79" stroke-linejoin="round" stroke-linecap="round"/>
<path d="M405.5 649.5 L403.7 647.4 L402.0 645.2 L400.1 643.1 L398.2 641.0 L396.3 639.0 L394.5 636.8 L392.5 634.9" fill="none" stroke="#e89a5a" stroke-width="1.07" stroke-linejoin="round" stroke-linecap="round"/>
<path d="M405.5 649.5 L405.5 652.3 L404.8 655.0 L404.3 657.8 L404.4 660.6 L404.7 663.3" fill="none" stroke="#fbd0c4" stroke-width="0.70" stroke-linejoin="round" stroke-linecap="round"/>
<path d="M405.5 649.5 L403.1 651.0 L400.6 652.1 L398.3 653.8 L397.1 656.3 L396.0 658.9 L394.7 661.4 L393.9 664.0 L393.3 666.8 L392.8 669.5 L392.2 672.3" fill="none" stroke="#d40000" stroke-width="1.02" stroke-linejoin="round" stroke-linecap="round"/>
<path d="M405.5 649.5 L402.8 649.0 L400.0 648.3 L397.2 648.1 L394.4 648.3 L391.6 648.5 L388.9 648.9 L386.3 649.9 L383.9 651.4 L382.0 653.4 L380.3 655.7 L379.4 658.3" fill="none" stroke="#f01010" stroke-width="1.04" stroke-linejoin="round" stroke-linecap="round"/>
<path d="M405.5 649.5 L404.3 647.0 L403.3 644.4 L402.1 641.8 L401.5 639.1 L401.6 636.3 L402.6 633.7 L404.7 631.9 L407.1 630.4 L409.9 629.7" fill="none" stroke="#ff3c3c" stroke-width="0.88" stroke-linejoin="round" stroke-linecap="round"/>
<path d="M405.5 649.5 L404.4 652.1 L402.8 654.4 L401.0 656.5 L399.2 658.7 L397.1 660.5" fill="none" stroke="#ff7a7a" stroke-width="1.07" stroke-linejoin="round" stroke-linecap="round"/>
<path d="M405.5 649.5 L404.4 646.9 L403.8 644.2 L403.1 641.5 L402.0 638.9 L400.4 636.6 L399.3 634.0 L398.6 631.3 L397.7 628.6 L397.6 625.9" fill="none" stroke="#f8b4a4" stroke-width="0.91" stroke-linejoin="round" stroke-linecap="round"/>
<path d="M405.5 649.5 L405.3 646.7 L405.3 643.9 L405.8 641.2 L406.8 638.5 L407.9 636.0 L409.4 633.6 L412.0 632.7 L414.5 631.5" fill="none" stroke="#c8642a" stroke-width="0.67" stroke-linejoin="round" stroke-linecap="round"/>
<path d="M405.5 649.5 L405.8 652.3 L405.8 655.1 L405.8 657.9 L405.5 660.7 L405.0 663.4" fill="none" stroke="#e89a5a" stroke-width="0.93" stroke-linejoin="round" stroke-linecap="round"/>
<path d="M405.5 649.5 L403.1 651.0 L401.1 652.9 L398.7 654.5 L396.3 655.8 L393.5 655.5 L390.8 654.8 L388.2 653.7 L385.6 652.7 L383.1 651.5 L380.8 649.8" fill="none" stroke="#fbd0c4" stroke-width="1.00" stroke-linejoin="round" stroke-linecap="round"/>
<path d="M405.5 649.5 L408.3 649.5 L411.1 649.5 L413.4 651.1 L415.7 652.7 L417.9 654.5 L420.3 655.9" fill="none" stroke="#d40000" stroke-width="1.07" stroke-linejoin="round" stroke-linecap="round"/>
<path d="M405.5 649.5 L407.9 648.0 L409.9 646.1 L412.1 644.4 L414.0 642.3 L415.4 639.9 L416.3 637.2 L416.5 634.4 L415.9 631.7 L415.4 628.9 L414.0 626.5" fill="none" stroke="#f01010" stroke-width="0.87" stroke-linejoin="round" stroke-linecap="round"/>
<path d="M405.5 649.5 L407.0 647.1 L408.7 644.9 L410.6 642.9 L412.7 641.0 L414.4 638.8 L416.3 636.7" fill="none" stroke="#ff3c3c" stroke-width="0.76" stroke-linejoin="round" stroke-linecap="round"/>
<path d="M405.5 649.5 L406.4 652.1 L407.6 654.7 L408.7 657.3 L409.4 660.0 L408.9 662.7 L407.6 665.2 L405.7 667.2 L403.4 668.9" fill="none" stroke="#ff7a7a" stroke-width="1.01" stroke-linejoin="round" stroke-linecap="round"/>
<path d="M405.5 649.5 L408.1 648.5 L410.6 647.2 L413.2 646.3 L415.8 645.2 L418.3 643.9 L420.7 642.4 L423.0 640.8 L425.7 640.1 L428.5 640.4 L431.1 641.3" fill="none" stroke="#f8b4a4" stroke-width="0.59" stroke-linejoin="round" stroke-linecap="round"/>
<path d="M405.5 649.5 L406.8 647.0 L408.5 644.8 L410.0 642.4 L411.3 639.9 L412.5 637.4 L413.9 635.0 L415.5 632.7 L417.1 630.4 L418.4 627.9 L419.8 625.5 L420.3 622.7" fill="none" stroke="#c8642a" stroke-width="0.82" stroke-linejoin="round" stroke-linecap="round"/>
<path d="M405.5 649.5 L403.3 647.8 L400.8 646.4 L398.3 645.3 L395.6 644.5 L393.1 643.1 L391.1 641.2 L388.9 639.5 L387.0 637.5 L385.8 634.9 L384.9 632.3" fill="none" stroke="#e89a5a" stroke-width="0.97" stroke-linejoin="round" stroke-linecap="round"/>
<path d="M405.5 649.5 L408.3 649.7 L411.1 649.6 L413.9 649.1 L416.5 648.2 L419.1 647.3 L421.7 646.2 L424.0 644.6" fill="none" stroke="#fbd0c4" stroke-width="0.69" stroke-linejoin="round" stroke-linecap="round"/>
<path d="M405.5 649.5 L405.9 646.7 L405.7 643.9 L406.3 641.2 L407.5 638.7 L408.7 636.2 L409.8 633.5" fill="none" stroke="#d40000" stroke-width="1.01" stroke-linejoin="round" stroke-linecap="round"/>
<path d="M405.5 649.5 L403.4 651.4 L401.2 653.1 L399.7 655.5 L398.4 657.9 L397.2 660.5 L397.0 663.3" fill="none" stroke="#f01010" stroke-width="0.93" stroke-linejoin="round" stroke-linecap="round"/></g>
<g clip-path="url(#iclip2)" fill="none" stroke-linecap="round"><path d="M405.5 649.5 L398 637 L390 629 L384 622" stroke="#d40000" stroke-width="1.0"/><path d="M405.5 649.5 L396 655 L388 660 L381 666 L379 672 L381.5 671 L386 663" stroke="#c81010" stroke-width="1.0"/><path d="M405.5 649.5 L410 640 L413 630 L416 622" stroke="#c8642a" stroke-width="1.0"/><path d="M405.5 649.5 L412 652 L419 654 L424 659 M414 653 L417 657 L422 656" stroke="#e00000" stroke-width="1.3"/><path d="M405.5 649.5 L402 660 L397 668 L395 672" stroke="#e81010" stroke-width="1.0"/><path d="M405.5 649.5 L411 662 L417 671 L425 677" stroke="#d02020" stroke-width="0.9"/><path d="M405.5 649.5 L409 664 L411 674 L416 678" stroke="#c8783a" stroke-width="1.1"/><path d="M405.5 649.5 L420 644 L432 637" stroke="#ff6a6a" stroke-width="0.8"/><path d="M405.5 649.5 L424 634 L430 622" stroke="#ffa0a0" stroke-width="0.8"/></g>
<g clip-path="url(#iclip2)"><path d="M405.5 649.5 L407.6 648.4 L409.9 647.6 L412.0 646.4" fill="none" stroke="#fbd0c4" stroke-width="1.40" stroke-linejoin="round" stroke-linecap="round"/>
<path d="M405.5 649.5 L407.0 647.6 L408.6 645.9 L410.5 644.3" fill="none" stroke="#f8c0b0" stroke-width="1.40" stroke-linejoin="round" stroke-linecap="round"/>
<path d="M405.5 649.5 L407.8 648.9 L410.1 648.1" fill="none" stroke="#fde0d8" stroke-width="1.40" stroke-linejoin="round" stroke-linecap="round"/>
<path d="M405.5 649.5 L404.2 651.5 L403.3 653.7" fill="none" stroke="#fbd0c4" stroke-width="1.40" stroke-linejoin="round" stroke-linecap="round"/>
<path d="M405.5 649.5 L405.0 651.8 L404.1 654.1 L402.9 656.2" fill="none" stroke="#f8c0b0" stroke-width="1.40" stroke-linejoin="round" stroke-linecap="round"/>
<path d="M405.5 649.5 L403.2 648.9 L400.8 648.6" fill="none" stroke="#fde0d8" stroke-width="1.40" stroke-linejoin="round" stroke-linecap="round"/>
<path d="M405.5 649.5 L406.4 651.7 L407.7 653.8 L409.3 655.5" fill="none" stroke="#fbd0c4" stroke-width="1.40" stroke-linejoin="round" stroke-linecap="round"/>
<path d="M405.5 649.5 L404.9 651.8 L404.7 654.2" fill="none" stroke="#f8c0b0" stroke-width="1.40" stroke-linejoin="round" stroke-linecap="round"/>
<path d="M405.5 649.5 L407.6 650.7 L409.6 651.9 L411.7 653.2" fill="none" stroke="#fde0d8" stroke-width="1.40" stroke-linejoin="round" stroke-linecap="round"/>
<path d="M405.5 649.5 L407.9 649.7 L410.2 650.2" fill="none" stroke="#fbd0c4" stroke-width="1.40" stroke-linejoin="round" stroke-linecap="round"/>
<path d="M405.5 649.5 L406.9 647.6 L408.2 645.6" fill="none" stroke="#f8c0b0" stroke-width="1.40" stroke-linejoin="round" stroke-linecap="round"/>
<path d="M405.5 649.5 L403.3 648.5 L401.1 647.5 L399.2 646.1" fill="none" stroke="#fde0d8" stroke-width="1.40" stroke-linejoin="round" stroke-linecap="round"/>
<path d="M405.5 649.5 L404.0 647.7 L402.7 645.6 L401.3 643.6" fill="none" stroke="#fbd0c4" stroke-width="1.40" stroke-linejoin="round" stroke-linecap="round"/>
<path d="M405.5 649.5 L405.4 647.1 L405.5 644.7 L405.5 642.3" fill="none" stroke="#f8c0b0" stroke-width="1.40" stroke-linejoin="round" stroke-linecap="round"/>
<path d="M405.5 649.5 L407.5 650.9 L409.5 652.1 L411.8 652.8" fill="none" stroke="#fde0d8" stroke-width="1.40" stroke-linejoin="round" stroke-linecap="round"/>
<path d="M405.5 649.5 L404.3 651.6 L403.4 653.8 L402.5 656.0" fill="none" stroke="#fbd0c4" stroke-width="1.40" stroke-linejoin="round" stroke-linecap="round"/>
<path d="M405.5 649.5 L407.8 650.1 L410.2 650.6" fill="none" stroke="#f8c0b0" stroke-width="1.40" stroke-linejoin="round" stroke-linecap="round"/>
<path d="M405.5 649.5 L407.8 648.7 L410.0 647.8 L412.0 646.5" fill="none" stroke="#fde0d8" stroke-width="1.40" stroke-linejoin="round" stroke-linecap="round"/></g>
<line x1="393.10" y1="614.50" x2="417.60" y2="614.50" stroke="#111" stroke-width="1.3" />
<text x="405.30" y="610.30" font-size="7.6" text-anchor="middle" fill="#111" stroke="#111" stroke-width="0.22" font-weight="normal" >0.5 mm</text>
<clipPath id="clip21"><rect x="307.5" y="758.5" width="132.00" height="131.00"/></clipPath>
<rect x="307.5" y="758.5" width="132.00" height="131.00" fill="#fff" stroke="#a6a6a6" stroke-width="0.9"/>
<path d="M321.50 822.50 H433.50 M321.50 818.50 V826.50 M433.50 818.50 V826.50 M377.50 763.50 V880.50 M373.50 763.50 H381.50 M373.50 880.50 H381.50" fill="none" stroke="#2a2a2a" stroke-width="1.0"/>
<line x1="329.30" y1="880.50" x2="356.40" y2="880.50" stroke="#111" stroke-width="1.3" />
<text x="342.00" y="876.10" font-size="7.6" text-anchor="middle" fill="#111" stroke="#111" stroke-width="0.22" font-weight="normal" >4 mm</text>
<g clip-path="url(#clip21)"><path d="M379.0 823.0 L377.4 824.1 L376.1 825.7 L376.5 827.7 L378.4 828.2 L379.3 826.4 L378.3 824.7 L376.8 823.4 L374.8 823.6" fill="none" stroke="#c8642a" stroke-width="0.80" stroke-linejoin="round" stroke-linecap="round"/>
<path d="M379.0 823.0 L377.7 821.5 L376.1 820.3 L374.4 819.2 L374.3 817.2 L374.1 815.2 L374.4 813.2 L374.7 811.3" fill="none" stroke="#e07a3a" stroke-width="0.80" stroke-linejoin="round" stroke-linecap="round"/>
<path d="M379.0 823.0 L377.2 823.9 L375.4 824.8 L373.5 824.2 L372.8 822.4 L373.9 820.7 L375.9 820.9 L377.9 821.3" fill="none" stroke="#ff8a7a" stroke-width="0.80" stroke-linejoin="round" stroke-linecap="round"/>
<path d="M379.0 823.0 L377.1 823.8 L375.1 823.8 L373.9 822.2 L374.0 820.2 L375.1 818.5 L376.6 817.2 L378.3 818.1 L379.4 819.8" fill="none" stroke="#f8b4a4" stroke-width="0.80" stroke-linejoin="round" stroke-linecap="round"/>
<path d="M379.0 823.0 L377.2 822.2 L375.2 822.2 L373.2 821.7 L371.5 820.7 L369.6 820.0 L368.4 818.4 L366.7 817.4 L364.9 818.4 L363.3 819.6" fill="none" stroke="#d86a2a" stroke-width="0.80" stroke-linejoin="round" stroke-linecap="round"/>
<path d="M379.0 823.0 L378.6 821.0 L377.4 819.4 L375.7 818.4 L374.5 816.8 L372.7 816.0 L371.0 814.9 L369.2 814.0 L367.6 812.8 L365.8 813.5 L364.5 815.1" fill="none" stroke="#f0956a" stroke-width="0.80" stroke-linejoin="round" stroke-linecap="round"/>
<path d="M379.0 823.0 L377.2 823.9 L376.1 825.6 L374.6 826.8 L372.7 827.5 L372.3 829.4 L371.6 831.3 L370.5 833.0 L368.5 833.2 L366.6 832.9 L365.7 831.1" fill="none" stroke="#fbd0c4" stroke-width="0.80" stroke-linejoin="round" stroke-linecap="round"/>
<path d="M379.0 823.0 L377.0 822.6 L375.6 821.2 L376.2 819.3 L377.1 817.5 L377.6 815.6 L378.5 813.8 L380.0 812.4" fill="none" stroke="#e89a5a" stroke-width="0.80" stroke-linejoin="round" stroke-linecap="round"/>
<path d="M379.0 823.0 L378.2 824.8 L378.4 826.8 L378.4 828.8 L378.0 830.8 L376.1 830.4 L374.2 831.1 L372.3 830.6 L370.5 829.6 L368.6 828.9 L366.7 828.4" fill="none" stroke="#f04a2a" stroke-width="0.80" stroke-linejoin="round" stroke-linecap="round"/>
<path d="M379.0 823.0 L380.8 823.9 L382.6 824.7 L384.6 824.2 L386.4 823.4 L386.2 821.4 L384.9 819.8 L383.4 818.6 L381.4 818.2" fill="none" stroke="#b85a20" stroke-width="0.80" stroke-linejoin="round" stroke-linecap="round"/>
<path d="M379.0 823.0 L380.5 824.3 L382.1 825.6 L382.4 827.6 L382.0 829.5 L380.6 831.0" fill="none" stroke="#fcc0b0" stroke-width="0.80" stroke-linejoin="round" stroke-linecap="round"/>
<path d="M379.0 823.0 L380.3 821.5 L381.5 819.9 L382.1 818.0 L381.3 816.2 L380.1 814.5 L378.3 813.7 L376.5 812.8 L374.5 812.6 L372.8 813.6 L371.0 814.5" fill="none" stroke="#c8642a" stroke-width="0.80" stroke-linejoin="round" stroke-linecap="round"/>
<path d="M379.0 823.0 L377.3 824.0 L375.3 824.0 L373.6 822.8 L372.2 821.5 L370.6 820.2 L368.6 820.0 L366.8 819.3 L364.8 818.7 L363.5 817.2" fill="none" stroke="#e07a3a" stroke-width="0.80" stroke-linejoin="round" stroke-linecap="round"/>
<path d="M379.0 823.0 L380.5 824.3 L382.4 825.0 L384.4 825.0 L386.2 824.1 L387.9 823.1 L388.6 821.2 L390.6 820.8 L392.5 821.1 L394.4 821.8" fill="none" stroke="#ff8a7a" stroke-width="0.80" stroke-linejoin="round" stroke-linecap="round"/>
<path d="M379.0 823.0 L378.7 821.0 L378.6 819.0 L377.4 817.4 L375.5 816.7 L373.8 817.7" fill="none" stroke="#f8b4a4" stroke-width="0.80" stroke-linejoin="round" stroke-linecap="round"/>
<path d="M379.0 823.0 L381.0 822.7 L382.9 823.2 L384.9 823.4 L386.3 822.0 L387.9 820.8 L389.9 820.5 L390.7 818.6 L392.2 817.3 L393.9 816.3 L395.8 815.8" fill="none" stroke="#d86a2a" stroke-width="0.80" stroke-linejoin="round" stroke-linecap="round"/>
<path d="M379.0 823.0 L377.0 823.1 L375.9 824.8 L377.2 826.3 L378.6 824.8 L376.9 823.7 L375.5 825.0 L376.2 826.9 L378.2 827.1 L380.1 826.6" fill="none" stroke="#f0956a" stroke-width="0.80" stroke-linejoin="round" stroke-linecap="round"/>
<path d="M379.0 823.0 L377.0 822.9 L375.7 824.4 L374.2 825.7 L372.2 825.9 L370.2 826.0 L368.3 825.7" fill="none" stroke="#fbd0c4" stroke-width="0.80" stroke-linejoin="round" stroke-linecap="round"/>
<path d="M379.0 823.0 L377.2 822.2 L375.2 821.8 L373.5 820.8 L371.5 820.6 L370.8 818.7 L369.1 817.6 L367.1 818.0 L365.5 819.1 L364.2 820.6" fill="none" stroke="#e89a5a" stroke-width="0.80" stroke-linejoin="round" stroke-linecap="round"/>
<path d="M379.0 823.0 L377.2 823.9 L375.3 824.5 L373.5 823.7 L372.1 822.2 L371.0 820.6 L369.4 819.5" fill="none" stroke="#f04a2a" stroke-width="0.80" stroke-linejoin="round" stroke-linecap="round"/>
<path d="M379.0 823.0 L377.4 824.2 L377.5 826.2 L377.5 828.2 L379.1 829.5 L380.6 830.8 L381.6 832.5 L381.6 834.5 L380.4 836.2 L378.7 837.3" fill="none" stroke="#b85a20" stroke-width="0.80" stroke-linejoin="round" stroke-linecap="round"/>
<path d="M379.0 823.0 L378.0 821.2 L377.0 819.5 L376.7 817.5 L375.5 816.0 L373.7 815.1 L371.8 815.5" fill="none" stroke="#fcc0b0" stroke-width="0.80" stroke-linejoin="round" stroke-linecap="round"/>
<path d="M379.0 823.0 L381.0 823.4 L382.7 822.4 L384.7 822.0 L386.7 821.6 L388.6 822.0" fill="none" stroke="#c8642a" stroke-width="0.80" stroke-linejoin="round" stroke-linecap="round"/>
<path d="M379.0 823.0 L380.9 823.5 L382.9 824.0 L384.9 824.3 L386.7 823.5 L385.9 821.7 L384.7 820.1 L382.8 819.3 L380.9 819.9 L379.3 821.1 L379.4 823.1" fill="none" stroke="#e07a3a" stroke-width="0.80" stroke-linejoin="round" stroke-linecap="round"/>
<path d="M379.0 823.0 L379.3 821.0 L378.6 819.1 L377.6 817.4 L375.9 816.2 L374.0 816.5" fill="none" stroke="#ff8a7a" stroke-width="0.80" stroke-linejoin="round" stroke-linecap="round"/>
<path d="M379.0 823.0 L377.0 822.7 L376.9 820.7 L376.5 818.8 L376.4 816.8 L377.6 815.2 L379.0 813.8 L380.6 812.6" fill="none" stroke="#f8b4a4" stroke-width="0.80" stroke-linejoin="round" stroke-linecap="round"/>
<path d="M379.0 823.0 L378.4 821.1 L377.3 819.4 L375.5 820.3 L374.1 821.7 L375.3 823.3 L377.2 822.5 L377.2 820.5" fill="none" stroke="#d86a2a" stroke-width="0.80" stroke-linejoin="round" stroke-linecap="round"/>
<path d="M379.0 823.0 L377.0 823.3 L375.0 823.5 L373.1 823.9 L371.2 824.5 L369.2 824.8" fill="none" stroke="#f0956a" stroke-width="0.80" stroke-linejoin="round" stroke-linecap="round"/>
<path d="M379.0 823.0 L378.7 821.0 L376.7 821.4 L374.8 821.0 L373.6 822.6 L372.5 824.2 L370.5 824.5 L368.5 824.7" fill="none" stroke="#fbd0c4" stroke-width="0.80" stroke-linejoin="round" stroke-linecap="round"/>
<path d="M379.0 823.0 L378.9 821.0 L379.4 819.1 L381.2 818.2 L383.2 818.1 L384.8 819.4 L386.4 820.4 L388.3 819.8 L390.3 819.5" fill="none" stroke="#e89a5a" stroke-width="0.80" stroke-linejoin="round" stroke-linecap="round"/>
<path d="M379.0 823.0 L377.8 821.4 L376.5 819.9 L375.8 818.0 L375.3 816.1 L373.9 814.7 L371.9 814.2 L370.6 815.7 L368.6 815.7 L367.1 814.4" fill="none" stroke="#f04a2a" stroke-width="0.80" stroke-linejoin="round" stroke-linecap="round"/>
<path d="M379.0 823.0 L379.2 821.0 L379.9 819.2 L379.2 817.3 L377.9 815.8 L376.8 814.2 L377.4 812.3 L377.8 810.3" fill="none" stroke="#b85a20" stroke-width="0.80" stroke-linejoin="round" stroke-linecap="round"/>
<path d="M379.0 823.0 L381.0 822.6 L382.1 824.2 L381.7 826.2 L380.4 827.7 L378.9 829.0" fill="none" stroke="#fcc0b0" stroke-width="0.80" stroke-linejoin="round" stroke-linecap="round"/>
<path d="M379.0 823.0 L379.8 824.8 L380.0 826.8 L379.3 828.7 L379.7 830.7 L380.8 832.3 L382.7 831.7 L384.7 832.2 L386.6 831.7 L388.1 830.4 L390.1 830.0" fill="none" stroke="#c8642a" stroke-width="0.80" stroke-linejoin="round" stroke-linecap="round"/>
<path d="M379.0 823.0 L377.3 822.0 L375.8 820.7 L374.2 819.5 L372.5 818.4 L371.7 816.5" fill="none" stroke="#e07a3a" stroke-width="0.80" stroke-linejoin="round" stroke-linecap="round"/>
<path d="M379.0 823.0 L380.4 824.4 L381.4 826.2 L383.0 827.3 L383.4 829.3 L383.1 831.2" fill="none" stroke="#ff8a7a" stroke-width="0.80" stroke-linejoin="round" stroke-linecap="round"/>
<path d="M379.0 823.0 L380.9 822.3 L382.8 822.0 L384.6 823.0 L384.5 825.0 L383.5 826.7 L382.0 828.1 L380.0 827.9 L378.3 828.9" fill="none" stroke="#f8b4a4" stroke-width="0.80" stroke-linejoin="round" stroke-linecap="round"/>
<path d="M379.0 823.0 L378.5 824.9 L379.6 826.6 L381.6 826.2 L383.5 825.6 L385.5 825.7 L387.4 826.0 L389.4 826.1 L391.0 824.8 L391.0 822.8" fill="none" stroke="#d86a2a" stroke-width="0.80" stroke-linejoin="round" stroke-linecap="round"/>
<path d="M379.0 823.0 L379.1 825.0 L379.3 827.0 L380.0 828.9 L380.1 830.9 L381.5 832.3 L382.7 830.7 L383.9 829.1 L383.7 827.1 L383.8 825.1 L385.4 823.8" fill="none" stroke="#f0956a" stroke-width="0.80" stroke-linejoin="round" stroke-linecap="round"/>
<path d="M379.0 823.0 L379.8 821.2 L381.0 819.6 L382.7 818.5 L384.1 817.1 L384.5 815.1 L383.2 813.6 L381.4 812.8 L379.6 813.7" fill="none" stroke="#fbd0c4" stroke-width="0.80" stroke-linejoin="round" stroke-linecap="round"/>
<path d="M379.0 823.0 L379.3 825.0 L377.5 825.9 L375.5 826.3 L373.7 825.6 L372.7 823.9 L372.1 821.9 L371.5 820.0 L370.4 818.3 L368.5 818.8 L366.7 819.8" fill="none" stroke="#e89a5a" stroke-width="0.80" stroke-linejoin="round" stroke-linecap="round"/>
<path d="M379.0 823.0 L377.0 822.9 L375.6 821.5 L375.0 819.6 L376.3 818.1 L378.1 817.2 L380.0 816.4 L381.5 815.1 L383.2 814.1" fill="none" stroke="#f04a2a" stroke-width="0.80" stroke-linejoin="round" stroke-linecap="round"/>
<path d="M379.0 823.0 L377.1 822.5 L375.1 823.1 L374.1 824.7 L372.7 826.2 L372.5 828.2 L372.3 830.2" fill="none" stroke="#b85a20" stroke-width="0.80" stroke-linejoin="round" stroke-linecap="round"/>
<path d="M379.0 823.0 L379.1 825.0 L379.6 826.9 L381.5 827.5 L383.2 826.5 L384.2 824.8 L384.4 822.8" fill="none" stroke="#fcc0b0" stroke-width="0.80" stroke-linejoin="round" stroke-linecap="round"/>
<path d="M379.0 823.0 L377.9 824.7 L378.5 826.6 L379.4 828.4 L380.4 830.1 L382.1 831.1 L384.1 831.6" fill="none" stroke="#c8642a" stroke-width="0.80" stroke-linejoin="round" stroke-linecap="round"/>
<path d="M379.0 823.0 L380.6 824.2 L382.6 824.3 L384.6 824.2 L386.3 823.1 L387.1 821.3 L386.1 819.6" fill="none" stroke="#e07a3a" stroke-width="0.80" stroke-linejoin="round" stroke-linecap="round"/>
<path d="M379.0 823.0 L378.3 821.1 L379.3 819.4 L381.3 819.2 L383.2 818.6 L385.1 818.0" fill="none" stroke="#ff8a7a" stroke-width="0.80" stroke-linejoin="round" stroke-linecap="round"/>
<path d="M379.0 823.0 L380.6 824.3 L381.9 825.8 L381.6 827.8 L381.2 829.7 L380.2 831.4 L378.8 832.9 L376.9 833.4 L374.9 833.7 L373.0 834.4" fill="none" stroke="#f8b4a4" stroke-width="0.80" stroke-linejoin="round" stroke-linecap="round"/>
<path d="M379.0 823.0 L377.6 821.6 L376.0 820.4 L375.1 818.6 L373.5 817.4 L372.0 816.1 L370.5 817.5 L372.2 818.5 L373.7 817.2" fill="none" stroke="#d86a2a" stroke-width="0.80" stroke-linejoin="round" stroke-linecap="round"/>
<path d="M379.0 823.0 L380.5 824.3 L382.3 825.2 L384.2 825.8 L385.6 827.3 L386.4 829.1 L387.8 830.6 L389.3 831.9 L390.9 833.1 L391.0 835.1" fill="none" stroke="#f0956a" stroke-width="0.80" stroke-linejoin="round" stroke-linecap="round"/>
<path d="M379.0 823.0 L377.6 824.4 L375.7 825.2 L373.8 825.4 L371.9 826.1 L370.2 827.2 L369.1 828.9 L369.0 830.8 L368.2 832.7 L368.5 834.7" fill="none" stroke="#fbd0c4" stroke-width="0.80" stroke-linejoin="round" stroke-linecap="round"/>
<path d="M379.0 823.0 L380.9 823.6 L382.9 823.4 L384.8 822.6 L386.2 821.2 L386.8 819.3 L388.3 818.0 L389.9 816.8 L391.6 815.7" fill="none" stroke="#e89a5a" stroke-width="0.80" stroke-linejoin="round" stroke-linecap="round"/>
<path d="M379.0 823.0 L377.9 821.3 L376.0 821.7 L375.6 823.7 L375.9 825.6 L377.8 826.3 L379.5 827.3" fill="none" stroke="#f04a2a" stroke-width="0.80" stroke-linejoin="round" stroke-linecap="round"/>
<path d="M379.0 823.0 L377.6 821.5 L376.0 820.3 L374.1 820.0 L372.1 820.4 L371.3 822.3 L370.2 823.9 L369.1 825.6 L368.0 827.2 L366.2 828.1 L364.2 828.4" fill="none" stroke="#b85a20" stroke-width="0.80" stroke-linejoin="round" stroke-linecap="round"/>
<path d="M379.0 823.0 L377.2 822.1 L375.6 821.0 L374.2 819.5 L373.4 817.7 L372.7 815.8 L374.1 814.4 L375.6 813.0 L377.4 812.3" fill="none" stroke="#fcc0b0" stroke-width="0.80" stroke-linejoin="round" stroke-linecap="round"/>
<path d="M379.0 823.0 L379.2 821.0 L379.6 819.0 L379.0 817.1 L377.5 815.8 L375.9 814.7 L373.9 814.3 L372.2 813.3" fill="none" stroke="#c8642a" stroke-width="0.80" stroke-linejoin="round" stroke-linecap="round"/>
<path d="M379.0 823.0 L378.2 821.2 L376.6 819.9 L374.9 818.8 L373.0 818.2 L371.8 816.6" fill="none" stroke="#e07a3a" stroke-width="0.80" stroke-linejoin="round" stroke-linecap="round"/>
<path d="M379.0 823.0 L378.8 825.0 L378.6 827.0 L379.1 828.9 L380.5 830.4 L380.8 832.3" fill="none" stroke="#ff8a7a" stroke-width="0.80" stroke-linejoin="round" stroke-linecap="round"/>
<path d="M379.0 823.0 L378.1 824.8 L378.7 826.7 L380.6 827.2 L381.8 825.6 L382.0 823.6 L380.4 822.4" fill="none" stroke="#f8b4a4" stroke-width="0.80" stroke-linejoin="round" stroke-linecap="round"/>
<path d="M379.0 823.0 L380.3 821.5 L382.3 821.0 L384.2 821.4 L385.8 822.7 L387.5 823.7 L387.3 825.6 L386.3 827.4 L385.2 829.1" fill="none" stroke="#d86a2a" stroke-width="0.80" stroke-linejoin="round" stroke-linecap="round"/></g>
<g clip-path="url(#clip21)" fill="none" stroke-linecap="round"><path d="M377.5 822.5 C373 812 370 800 367.5 790 C365 780 367 768 372 757" stroke="#e60a0a" stroke-width="0.9"/><path d="M377.5 822.5 C379 808 378.5 796 376 788 C373 781 369 776 372 771 C374 768 377 768 378.5 766" stroke="#cc1414" stroke-width="0.9"/><path d="M377.5 822.5 C382 816 388 813 394 812.5 C401 812 408 810 412 807.5" stroke="#ff8c7a" stroke-width="0.8"/><path d="M377.5 822.5 C371 826 372 836 378 839.5 C385 841 391 834 390 826 C389 820 383 818 377.5 822.5" stroke="#e01414" stroke-width="0.9"/><path d="M377.5 822.5 C372 814 368 806 362 802 L358.5 805" stroke="#d2692a" stroke-width="0.9"/></g>
</svg>
</body></html>
